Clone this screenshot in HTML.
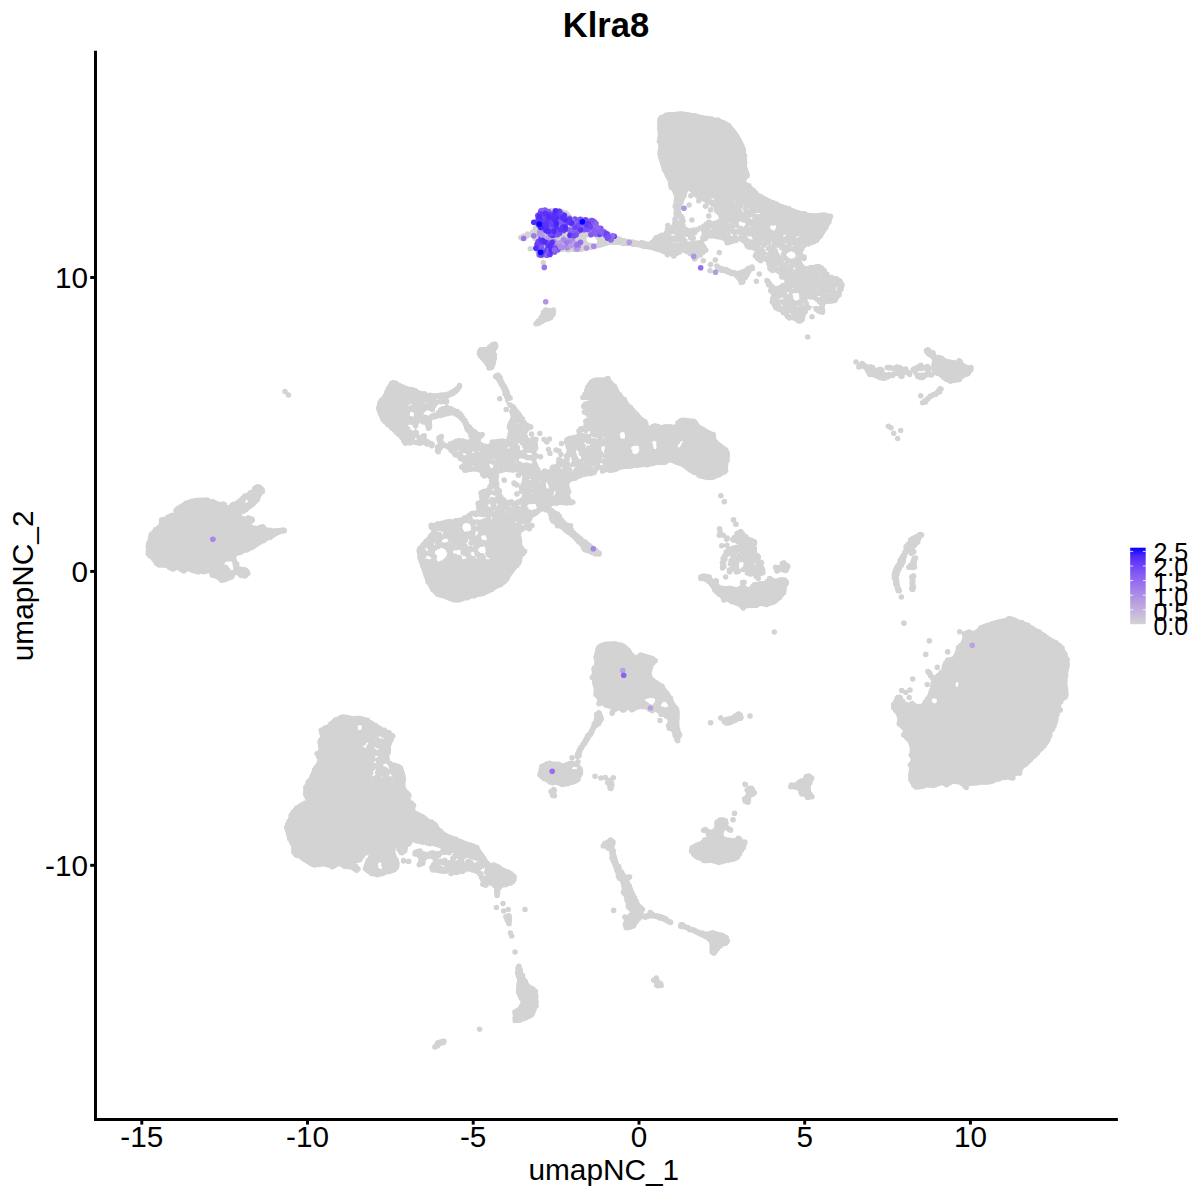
<!DOCTYPE html>
<html><head><meta charset="utf-8">
<style>
html,body{margin:0;padding:0;background:#fff;}
body{width:1200px;height:1200px;overflow:hidden;position:relative;font-family:"Liberation Sans",sans-serif;color:#000;}
svg{position:absolute;left:0;top:0;}
.t{position:absolute;white-space:nowrap;line-height:1;}
.xt{font-size:29.7px;top:1122.4px;width:100px;text-align:center;}
.yt{font-size:29.7px;left:0;width:88px;text-align:right;}
.lg{font-size:25px;left:1153.4px;}
</style></head><body>
<svg width="1200" height="1200" viewBox="0 0 1200 1200">
<defs><linearGradient id="g" x1="0" y1="0" x2="0" y2="1"><stop offset="0%" stop-color="#0000ff"/><stop offset="10%" stop-color="#4926fb"/><stop offset="20%" stop-color="#673df8"/><stop offset="30%" stop-color="#7c51f4"/><stop offset="40%" stop-color="#8e65f0"/><stop offset="50%" stop-color="#9d77ec"/><stop offset="60%" stop-color="#aa89e7"/><stop offset="70%" stop-color="#b69ce3"/><stop offset="80%" stop-color="#c1aede"/><stop offset="90%" stop-color="#cac0d9"/><stop offset="100%" stop-color="#d3d3d3"/></linearGradient></defs>
<g fill="#d3d3d3" stroke="none">
<polygon points="658.3,118.3 660.0,115.8 663.8,113.8 672.0,112.0 682.2,111.4 693.4,113.2 704.2,115.6 712.2,116.9 718.8,118.3 724.7,120.6 729.8,123.8 734.8,129.0 739.0,134.8 742.2,140.4 744.5,145.8 745.7,150.3 746.3,155.0 746.7,161.5 747.2,167.8 749.0,172.0 750.0,175.2 747.6,178.1 745.4,180.7 747.0,182.4 750.0,184.3 753.3,187.8 757.3,191.7 762.4,194.9 768.3,198.1 775.4,201.3 783.0,204.5 790.3,207.4 797.7,210.0 805.2,212.2 812.3,213.7 818.2,213.3 823.3,212.8 828.1,213.5 831.6,214.6 832.7,215.1 832.7,216.0 832.3,218.3 831.3,221.3 829.8,224.6 828.0,228.0 826.1,231.3 824.0,234.7 821.4,238.2 818.7,241.3 816.1,243.3 813.3,244.7 809.8,245.6 806.7,246.7 805.1,248.6 804.0,250.7 802.2,252.0 801.3,253.3 804.1,255.7 806.7,258.0 805.1,259.0 802.7,260.0 801.5,262.0 801.3,264.0 802.8,265.7 805.3,266.7 808.6,266.2 812.0,265.3 814.6,264.3 817.3,264.0 821.5,265.6 825.3,268.0 826.8,270.8 828.0,273.3 830.3,274.4 833.3,275.3 837.5,277.5 841.3,280.0 843.7,282.5 844.7,285.3 843.4,289.3 841.3,293.3 840.1,296.2 838.7,298.7 836.2,301.3 833.3,303.3 830.6,303.9 828.0,304.0 825.6,304.3 824.0,305.3 824.3,308.6 824.7,312.0 823.4,313.6 821.3,314.0 818.6,313.1 816.0,311.3 814.6,308.8 813.3,306.7 811.4,306.6 809.3,308.0 807.2,311.1 805.3,314.7 804.6,317.5 804.0,320.0 803.1,322.2 801.3,323.3 797.6,322.3 793.3,320.7 789.8,319.8 786.7,318.7 784.7,316.0 782.7,313.3 779.3,312.0 776.0,310.7 773.8,308.1 772.0,305.3 770.2,303.4 769.3,301.3 770.8,297.9 772.0,294.7 770.1,293.2 768.0,292.0 768.7,289.5 769.3,286.7 767.3,283.8 765.3,281.3 765.5,279.4 766.7,278.7 768.5,280.2 770.7,282.7 772.6,285.0 774.7,286.7 777.2,286.5 780.0,285.3 783.3,283.5 785.3,281.3 783.2,279.4 780.0,277.3 778.7,274.4 777.3,272.0 774.8,272.3 772.0,272.7 769.4,270.7 767.3,268.0 767.0,265.3 766.7,262.7 764.1,260.1 761.3,258.7 760.0,260.9 758.7,262.7 755.6,259.2 753.3,254.7 755.6,252.2 757.3,250.7 753.1,250.0 748.0,249.3 746.4,247.5 745.3,245.3 743.0,242.9 740.0,241.3 736.1,242.4 732.0,244.0 728.2,244.8 725.3,244.7 724.7,242.5 724.0,240.0 721.2,239.0 717.3,238.7 712.5,238.3 708.0,238.7 705.2,240.2 704.0,242.7 706.1,245.9 708.0,249.3 705.8,252.5 702.7,254.7 700.9,254.3 700.0,253.3 701.5,253.1 702.3,254.0 699.0,258.0 695.0,261.3 693.3,259.8 691.3,256.8 687.0,253.8 682.2,252.2 678.4,254.9 674.8,257.7 671.3,256.3 667.5,254.0 662.9,253.0 658.3,252.2 654.8,250.8 651.0,249.4 645.0,248.8 640.0,247.6 638.7,243.7 640.0,240.2 644.3,240.9 649.2,242.1 651.4,240.5 653.8,238.4 658.7,237.3 663.8,235.7 666.9,232.5 669.3,228.3 672.0,223.1 673.9,217.3 673.6,211.8 673.0,206.3 674.2,200.6 674.8,195.3 672.3,191.4 669.3,188.0 668.3,184.3 667.5,180.7 665.8,177.1 663.8,173.3 661.9,169.0 660.2,164.2 658.5,158.4 657.4,153.2 657.8,150.3 658.3,147.7 657.9,143.1 657.4,138.5 657.9,135.7 658.3,133.0 657.9,128.4 657.4,123.8 657.5,120.8"/>
<polygon points="716.0,268.7 719.2,269.8 724.0,271.3 728.7,273.3 733.3,276.0 737.7,280.8 741.3,284.7 743.5,284.1 745.3,281.3 748.0,276.7 750.7,272.0 753.2,269.6 754.7,268.0 754.1,265.8 752.0,264.7 748.3,266.3 744.0,268.7 740.1,270.4 736.0,271.3 731.3,270.6 726.7,269.3 722.2,268.1 718.7,267.3 716.3,267.7"/>
<polygon points="520.0,236.0 521.8,235.0 524.7,234.0 528.7,232.7 532.7,230.0 534.9,223.5 536.7,216.7 538.3,212.2 540.7,209.3 545.2,208.5 550.0,208.7 553.2,208.4 556.7,208.7 562.8,210.0 568.7,212.0 570.7,214.4 572.7,216.7 578.3,218.0 584.7,218.7 589.8,218.4 594.0,218.7 596.1,221.3 598.0,224.7 601.7,227.4 606.0,230.0 610.4,232.8 615.3,235.3 621.2,237.6 627.3,239.3 632.8,240.1 638.0,240.7 643.7,242.5 648.7,243.3 651.4,240.4 654.0,236.7 658.6,234.8 663.3,232.7 667.2,226.5 670.0,224.7 670.8,239.7 670.0,255.3 667.2,256.0 663.3,252.7 659.3,252.0 655.3,251.3 652.2,250.0 648.7,248.7 643.4,247.9 638.0,247.3 633.9,246.6 630.0,246.0 625.5,245.6 620.7,245.3 615.2,244.8 610.0,244.7 605.8,245.9 602.0,247.3 598.7,248.1 595.3,248.7 591.4,249.3 587.3,250.0 583.4,250.7 579.3,251.3 574.8,251.8 570.0,252.0 565.4,251.4 560.7,251.3 555.2,253.5 550.0,256.0 546.4,257.5 543.3,258.0 540.0,257.2 537.3,255.3 535.9,252.2 535.3,248.7 536.3,246.0 536.7,243.3 533.8,239.5 530.0,236.7 527.2,237.5 524.7,239.3 522.4,240.1 520.7,240.0 519.8,238.2"/>
<polygon points="534.7,322.7 536.3,320.7 538.7,318.0 540.7,313.9 542.7,310.0 544.0,308.1 545.3,307.3 547.6,307.9 550.0,308.7 552.2,307.8 554.0,307.3 555.4,308.9 556.0,311.3 555.2,314.0 554.0,316.7 553.2,318.5 552.0,320.0 549.2,321.0 546.0,322.0 543.2,323.4 540.7,324.7 538.5,325.3 536.7,325.3 535.2,324.3"/>
<polygon points="477.5,350.8 478.3,349.0 480.0,347.5 483.2,347.1 486.7,346.7 489.3,344.6 491.7,342.5 493.9,341.6 495.8,341.7 497.5,343.3 498.3,345.8 497.2,348.6 495.8,351.7 496.2,354.9 496.7,358.3 496.0,362.3 495.0,365.8 494.4,367.9 493.3,369.2 490.9,370.2 488.3,370.0 486.7,367.5 485.0,364.2 482.4,361.1 480.0,358.3 478.4,356.1 477.5,354.2 477.2,352.4"/>
<polygon points="494.2,374.2 496.3,372.8 499.2,373.0 501.3,375.8 503.3,380.0 505.8,384.7 508.3,390.0 511.0,396.0 513.3,401.7 515.3,405.7 515.8,408.3 513.4,409.4 510.0,408.3 507.4,404.1 505.0,398.3 502.4,392.3 500.0,386.7 497.7,382.5 495.8,379.2 494.4,376.3"/>
<polygon points="390.8,380.8 393.0,380.2 395.8,380.8 399.5,382.7 404.2,385.0 410.2,387.1 416.7,389.2 422.7,391.5 428.3,393.3 433.5,393.6 438.3,393.3 442.7,393.2 446.7,392.5 450.1,390.6 453.3,388.3 456.7,385.8 459.5,384.2 461.4,384.8 462.0,386.7 460.6,389.1 458.3,391.7 455.9,393.9 453.3,395.8 450.5,397.1 448.3,398.3 448.7,400.5 449.2,402.5 447.4,403.6 445.0,404.2 442.7,403.5 440.0,403.3 436.5,405.6 433.3,408.3 432.4,410.4 431.7,411.7 429.3,410.8 426.7,410.0 424.4,411.4 423.3,413.3 425.4,414.8 428.3,416.7 430.4,419.8 431.7,423.3 431.2,427.2 430.0,430.0 428.4,429.9 426.7,428.3 425.1,425.6 423.3,423.3 420.7,423.5 418.3,425.0 417.0,427.2 416.7,430.0 418.0,433.9 420.0,436.7 422.1,435.1 424.2,433.3 425.3,435.3 426.7,438.3 430.1,441.0 433.3,443.3 434.4,444.8 434.2,445.8 432.6,446.5 430.0,446.7 427.0,445.9 423.3,445.0 418.5,444.9 413.3,445.0 408.3,445.3 404.2,445.0 402.7,442.8 401.7,440.0 399.6,437.7 396.7,435.0 391.8,431.0 386.7,426.7 382.9,422.5 380.0,418.3 377.8,414.2 376.7,410.0 377.0,405.8 378.3,401.7 380.7,397.9 383.3,394.2 385.5,390.3 387.5,386.7 389.1,383.3"/>
<polygon points="429.2,416.7 431.5,415.3 435.0,413.3 438.4,409.8 441.7,406.7 444.1,405.7 446.7,405.8 450.7,406.7 455.0,408.3 458.5,410.6 461.7,413.3 464.3,416.1 466.7,419.2 469.2,423.0 471.7,426.7 474.1,429.5 476.7,431.7 479.8,432.6 482.5,433.3 484.0,434.9 484.2,436.7 482.0,438.2 480.0,440.0 481.0,442.8 483.3,445.0 486.6,444.3 490.0,443.3 492.6,445.1 495.0,446.7 497.4,445.5 500.0,443.3 503.5,441.0 506.7,438.3 508.0,435.1 508.3,431.7 507.8,428.3 507.5,425.0 509.2,421.7 510.8,418.3 510.4,414.8 510.0,411.7 511.8,409.4 514.2,408.3 516.2,409.5 518.3,411.7 520.4,414.0 522.5,416.7 524.5,420.2 526.7,423.3 529.4,424.3 531.7,425.0 532.2,427.5 531.7,430.0 529.7,430.9 528.3,431.7 530.4,433.2 533.3,435.0 535.2,436.5 536.7,438.3 537.7,441.4 538.3,445.0 539.0,449.3 539.2,453.3 538.1,456.0 536.7,458.3 535.6,460.7 535.0,463.3 535.3,467.1 536.7,470.0 539.6,469.9 543.3,468.3 547.4,466.0 551.7,463.3 556.4,457.6 560.0,458.3 561.0,480.9 560.0,504.5 556.4,508.9 552.0,507.8 548.4,508.7 544.8,509.7 541.1,511.3 537.5,513.3 534.5,515.9 532.0,518.8 529.9,522.0 528.3,525.2 533.2,528.0 526.7,530.0 478.6,530.8 431.7,530.0 428.4,525.9 438.3,521.7 443.0,520.4 448.3,520.0 454.3,519.4 460.0,518.3 464.4,515.9 468.3,513.3 473.0,511.8 476.7,510.0 477.0,506.8 476.7,503.3 478.4,500.8 480.0,498.3 479.5,495.3 479.2,492.5 481.0,491.2 483.3,490.0 485.1,487.8 486.7,485.0 488.5,481.5 489.2,478.3 486.6,477.3 483.3,476.7 481.5,475.0 480.0,473.3 478.8,472.1 476.7,471.7 471.8,473.4 466.7,475.0 463.6,474.3 461.7,472.5 460.8,469.7 460.8,466.7 462.3,463.9 463.3,461.7 461.3,460.8 458.3,460.0 455.8,457.7 453.3,455.0 450.9,452.4 448.3,450.0 444.9,447.7 441.7,446.7 439.7,449.1 438.3,451.7 436.7,451.5 435.8,450.0 437.0,447.8 438.3,445.0 437.4,441.6 436.7,438.3 438.5,435.7 440.8,434.2 442.4,434.8 443.3,436.7 442.7,439.2 442.5,441.7 444.9,443.1 448.3,443.3 452.1,440.9 455.8,438.3 458.8,438.4 461.7,439.2 465.3,439.8 468.3,440.0 469.8,438.7 470.0,436.7 468.6,434.4 466.7,431.7 465.1,428.4 463.3,425.0 461.0,421.5 458.3,418.3 455.2,416.1 451.7,415.0 447.5,415.5 443.3,416.7 439.8,417.6 436.7,418.3 433.9,419.0 431.7,419.2 429.7,418.2"/>
<polygon points="540.0,470.0 542.1,467.2 545.0,468.3 548.3,466.9 551.7,465.0 554.3,462.5 556.7,460.0 559.3,458.4 561.7,456.7 563.5,453.5 565.0,450.0 566.1,446.6 566.7,443.3 565.6,440.5 565.0,438.3 567.0,437.4 570.0,436.7 573.2,435.2 575.8,433.3 576.4,431.2 576.7,429.2 578.5,427.8 580.8,426.7 583.2,426.0 585.0,425.0 584.7,422.7 584.2,420.0 585.6,417.8 586.7,415.8 584.8,414.3 582.5,412.5 581.2,409.2 580.8,405.8 582.1,403.6 583.3,401.7 582.5,399.2 581.7,396.7 582.7,394.2 584.2,391.7 584.9,388.8 585.8,385.8 587.7,382.7 590.0,380.0 592.7,378.4 595.8,377.5 599.6,377.4 603.3,377.5 606.1,376.4 608.3,375.8 609.6,377.6 610.8,380.0 612.8,381.9 615.0,384.2 617.1,387.4 619.2,390.8 621.3,393.5 623.3,395.8 625.0,397.9 626.7,400.0 628.6,402.4 630.8,405.0 633.7,407.9 636.7,410.8 639.2,413.9 641.7,416.7 644.3,418.8 646.7,420.8 647.9,423.8 649.2,425.8 651.8,424.8 655.0,423.3 658.2,424.1 661.7,425.0 665.5,424.6 669.2,424.2 672.4,424.8 675.0,425.0 676.3,422.7 677.5,420.0 679.7,418.3 682.5,417.5 686.2,418.1 690.0,419.2 693.1,419.4 695.8,420.0 697.9,422.3 700.0,425.0 703.1,427.1 706.7,429.2 711.1,431.1 715.0,433.3 715.9,436.6 716.7,440.0 719.8,442.6 723.3,445.0 726.1,447.4 728.3,450.0 729.6,452.8 730.0,455.8 729.3,459.4 728.3,463.3 728.1,467.8 727.5,471.7 725.8,473.6 723.3,475.0 720.3,476.8 716.7,478.3 712.6,479.5 708.3,480.0 704.0,479.5 700.0,478.3 697.4,476.8 695.0,475.0 691.8,473.4 688.3,471.7 684.9,469.1 681.7,466.7 679.2,465.7 676.7,465.0 673.3,463.5 670.0,462.5 667.6,463.6 665.0,465.0 661.0,465.1 656.7,465.0 652.5,465.8 648.3,466.7 644.2,466.7 640.0,466.7 635.8,467.4 631.7,468.3 627.5,468.8 623.3,469.2 619.0,469.9 615.0,470.8 612.4,472.4 610.0,473.3 606.8,471.6 603.3,470.0 600.0,471.4 596.7,473.3 593.4,474.2 590.0,475.0 585.9,476.1 581.7,477.5 577.3,479.2 573.3,480.8 570.2,481.9 568.3,483.3 569.3,486.4 570.8,490.0 570.2,493.4 570.0,496.7 573.0,499.3 575.8,501.7 575.4,504.2 573.3,505.8 570.3,505.2 566.7,504.2 563.4,504.5 560.0,505.0 556.1,505.1 551.7,505.0 545.3,507.2 540.0,505.0 539.0,487.6"/>
<polygon points="480.7,493.2 482.3,495.9 483.4,498.7 480.9,500.8 477.9,503.2 477.5,507.0 477.0,510.6 473.8,512.6 470.6,514.2 469.7,516.3 468.8,517.9 465.9,518.5 462.3,518.8 458.8,519.7 455.0,520.7 451.0,521.1 446.8,521.6 442.1,522.6 437.6,524.3 434.1,527.7 431.2,531.7 428.4,535.4 425.7,539.0 422.3,542.4 419.2,545.4 417.4,547.5 416.5,550.0 417.1,554.3 418.3,559.2 419.7,563.8 421.1,568.3 422.4,572.5 423.8,576.6 425.4,580.7 427.5,584.8 430.5,589.7 433.9,594.0 437.5,596.2 441.2,597.7 445.3,599.2 449.5,600.4 454.0,601.7 458.7,602.2 463.1,601.2 467.8,599.5 473.3,598.1 478.8,596.8 483.5,595.5 488.0,594.0 492.7,591.3 497.2,588.5 501.1,586.8 504.5,584.8 507.4,581.4 510.0,577.5 512.8,573.8 515.5,570.2 518.5,566.4 521.0,562.8 521.5,559.9 521.9,557.3 524.5,555.1 526.5,552.8 525.1,549.8 522.8,546.3 521.6,541.7 521.0,537.2 521.1,534.0 521.9,531.7 524.2,530.7 526.5,529.8 527.5,527.8 528.3,525.2 529.9,522.1 532.0,518.8 534.5,515.9 537.5,513.3 541.1,511.3 544.8,509.7 548.4,508.8 552.2,507.8 556.5,505.8 561.3,504.2 567.2,504.6 572.3,505.1 575.1,504.0 576.0,502.3 574.1,500.8 571.4,498.7 570.3,495.2 569.6,491.3 568.6,487.4 568.7,484.0 571.7,481.9 576.0,480.3 580.5,478.4 585.2,476.7 589.9,475.6 594.3,474.8 598.0,473.9 601.7,473.0 606.1,472.1 610.8,471.2 616.0,472.0 620.0,469.3 628.6,454.6 620.0,440.0 555.9,435.6 491.7,440.0 482.9,460.2 489.8,481.2 488.7,487.0 487.1,487.7 484.2,488.2 481.6,488.6 480.6,490.6"/>
<polygon points="174.0,508.7 175.3,507.2 177.3,506.0 179.9,504.3 182.7,502.7 185.2,501.2 188.0,500.0 191.8,498.8 196.0,498.0 200.0,497.8 204.0,498.0 208.1,498.5 212.0,499.3 215.5,500.8 218.7,502.0 221.5,501.9 224.0,502.0 226.1,504.2 228.0,506.0 229.6,504.7 231.3,502.7 233.5,502.1 236.0,501.3 238.6,498.8 241.3,496.0 244.0,494.2 246.7,492.7 249.2,491.3 251.3,490.0 252.0,488.3 252.7,486.7 254.8,485.1 257.3,484.3 259.8,484.7 262.0,486.0 263.8,488.2 264.7,490.7 263.7,493.0 262.0,495.3 260.7,497.7 259.3,500.0 257.8,502.4 256.0,504.7 254.1,506.4 252.0,508.0 249.4,509.7 246.7,511.3 243.4,513.0 241.3,514.7 242.8,516.3 245.3,517.3 246.6,516.3 248.0,515.3 250.8,516.3 253.3,518.0 254.2,520.0 254.0,522.0 252.3,523.5 251.3,524.7 253.9,525.6 257.3,526.0 259.8,524.9 262.0,524.0 264.3,525.5 266.7,527.3 269.2,528.2 272.0,528.7 275.3,528.4 278.7,528.0 282.0,527.8 284.7,528.0 286.2,528.8 286.7,530.0 285.8,531.7 284.0,533.3 281.5,534.0 278.7,534.7 276.1,536.2 273.3,538.0 270.1,539.6 266.7,541.3 263.2,543.3 260.0,545.3 257.3,547.1 254.7,548.7 251.4,550.0 248.0,551.3 244.6,552.7 241.3,554.0 238.2,554.9 236.0,556.0 235.5,558.0 236.0,560.0 237.7,561.3 239.3,562.7 238.8,564.8 238.7,566.7 241.7,567.0 245.3,567.3 247.8,568.7 249.3,570.7 249.5,573.4 248.7,576.0 247.3,577.7 245.3,578.7 242.7,578.3 240.0,577.3 237.8,575.7 236.0,574.7 234.8,576.3 233.3,578.7 230.1,580.2 226.7,581.3 224.3,582.4 222.0,582.7 219.0,580.8 216.0,578.7 213.0,578.0 210.7,577.3 210.1,575.2 209.3,573.3 206.5,573.5 202.7,574.0 197.9,573.8 193.3,573.3 190.4,572.2 188.0,571.3 185.3,572.4 182.7,573.3 180.1,571.7 177.3,570.0 173.9,570.7 170.7,571.3 168.7,569.8 166.7,568.0 163.4,567.6 160.0,567.3 157.5,566.3 155.3,564.7 153.0,562.1 150.7,559.3 148.0,557.2 146.0,554.7 145.6,550.9 146.0,546.7 146.9,542.5 148.0,538.7 148.5,535.7 149.3,533.3 151.1,531.3 153.3,529.3 156.2,526.8 158.7,524.0 159.0,521.1 159.3,518.7 161.7,517.5 164.7,516.7 167.4,514.9 170.0,513.3 172.7,513.4 174.7,513.3 174.4,511.2"/>
<polygon points="336.0,717.4 339.4,715.8 343.3,714.7 347.6,715.1 352.5,716.1 358.9,716.6 365.3,717.4 370.3,719.4 374.5,722.0 378.3,724.9 381.8,727.5 385.6,728.8 389.2,730.2 392.6,733.2 394.7,736.7 393.2,740.2 391.0,744.0 390.4,748.6 390.1,753.2 389.1,757.2 389.2,760.5 392.4,762.2 396.5,763.2 399.5,764.3 402.0,766.0 403.7,769.4 404.8,773.3 405.4,777.0 405.7,780.7 404.9,784.4 404.8,788.0 408.0,790.8 411.2,793.5 410.8,796.8 410.2,799.9 413.0,802.3 415.8,804.5 415.1,807.2 414.8,810.0 418.9,812.2 424.0,814.6 427.8,817.7 431.3,821.0 435.0,824.2 438.7,827.4 442.2,830.8 446.0,833.8 450.5,835.8 455.2,837.5 459.5,839.2 464.3,841.2 470.9,843.6 477.2,846.7 481.4,850.7 484.5,854.9 486.7,858.4 488.2,861.3 489.3,862.4 490.0,865.0 490.5,874.2 490.0,883.3 487.5,886.7 484.5,887.0 482.6,884.9 480.8,881.5 479.3,877.7 477.2,874.2 472.7,872.2 468.0,871.4 465.2,872.1 462.5,873.2 457.8,874.0 453.3,874.2 451.4,872.8 449.7,871.4 446.2,871.8 442.3,872.3 438.4,871.4 435.0,870.5 432.8,871.1 431.3,871.4 429.8,869.4 429.5,866.8 432.4,865.1 435.0,863.2 433.9,860.1 431.3,857.7 428.6,857.8 425.8,859.5 423.8,863.1 422.2,865.9 420.6,864.4 419.4,861.3 419.0,858.4 418.5,855.8 416.6,855.2 414.8,854.9 414.4,853.7 414.8,852.2 416.2,850.4 418.5,849.4 422.1,850.7 425.8,852.2 428.7,851.8 431.3,851.2 434.1,851.8 436.8,852.2 440.4,851.0 442.3,849.4 439.6,848.0 435.0,846.7 430.6,845.8 425.8,844.8 420.1,843.2 414.8,842.1 411.6,842.8 409.3,844.8 407.5,848.6 405.7,852.2 402.9,853.3 400.2,853.1 397.6,851.7 396.5,849.4 399.4,846.3 402.0,843.9 399.7,844.6 396.5,846.7 395.0,849.1 394.7,852.2 396.3,855.7 398.3,859.5 399.3,863.3 399.2,866.8 397.5,869.9 394.7,872.3 391.3,873.4 387.3,874.2 382.9,875.8 378.2,876.9 373.4,876.1 369.0,874.2 365.6,871.7 363.5,868.7 363.8,865.0 365.3,861.3 367.5,858.1 369.0,855.8 367.6,855.1 365.3,855.8 363.6,858.5 361.7,861.3 358.5,862.3 356.2,863.2 357.9,865.8 359.8,868.7 358.6,871.0 356.2,872.3 353.6,871.2 350.7,869.6 346.9,869.1 343.3,868.7 341.5,867.1 339.7,865.9 336.3,867.3 332.3,868.7 327.9,867.3 323.2,865.9 318.5,866.9 314.0,867.8 310.3,865.9 306.7,863.2 302.0,860.4 297.5,857.7 294.2,855.9 292.0,854.0 291.4,850.7 291.1,846.7 289.4,842.3 287.4,837.5 285.6,832.3 284.7,827.4 285.6,823.8 287.4,820.1 289.4,815.0 292.0,810.0 295.6,806.3 299.3,803.6 303.2,802.2 305.8,800.8 304.7,798.1 303.0,794.4 303.5,789.4 304.8,784.3 307.0,780.6 309.4,777.0 311.2,772.4 313.1,767.8 315.8,764.0 317.7,760.5 316.3,757.1 314.9,754.1 316.6,751.9 318.6,749.5 318.2,745.4 317.7,741.2 319.0,738.4 320.4,735.8 319.7,732.5 319.5,729.3 322.8,726.9 326.8,724.8 329.3,722.3 331.4,720.2 333.5,718.7"/>
<polygon points="400.0,820.0 415.5,817.5 432.0,820.0 437.5,823.6 440.0,828.0 443.9,831.2 448.0,834.0 452.9,836.1 458.0,838.0 463.0,840.0 468.0,842.0 473.4,843.8 478.0,846.0 480.4,849.8 482.0,854.0 483.8,858.4 486.0,862.0 489.8,862.8 494.0,863.0 498.1,864.9 502.0,867.0 505.1,868.5 508.0,870.0 511.8,871.8 515.0,874.0 516.2,876.9 516.0,880.0 514.6,882.8 512.0,885.0 508.0,886.1 504.0,887.0 501.6,888.2 500.0,890.0 499.5,893.2 499.0,896.0 497.0,896.3 495.0,895.0 494.6,891.7 494.0,888.0 491.2,885.4 488.0,884.0 485.8,885.6 484.0,887.0 482.3,885.1 481.0,882.0 480.7,878.9 480.0,876.0 477.4,874.3 474.0,873.0 470.0,871.4 466.0,870.0 463.0,868.7 460.0,868.0 456.0,868.7 452.0,870.0 449.0,871.6 446.0,873.0 442.0,873.3 438.0,873.0 434.6,872.2 432.0,871.0 430.4,869.3 430.0,867.0 432.1,863.5 434.0,860.0 432.6,857.3 430.0,856.0 426.9,857.4 424.0,860.0 422.8,863.6 422.0,866.0 420.4,863.8 419.0,860.0 417.8,856.1 418.0,853.0 421.6,853.2 426.0,854.0 429.1,852.5 432.0,851.0 435.1,851.5 438.0,852.0 441.3,850.8 443.0,849.0 440.4,847.4 436.0,846.0 431.4,845.5 426.0,845.0 418.6,843.2 412.0,842.0 409.4,843.4 408.0,846.0 406.0,849.8 404.0,853.0 401.8,854.9 400.0,852.0 397.8,835.9"/>
<polygon points="505.0,915.0 509.0,913.0 512.0,918.0 511.0,925.0 507.0,925.0 505.0,920.0"/>
<polygon points="516.0,967.0 517.3,964.8 519.0,964.0 520.5,965.8 522.0,969.0 523.4,972.8 525.0,977.0 527.2,981.2 530.0,985.0 533.8,987.5 537.0,990.0 537.9,993.8 538.0,998.0 538.2,1002.1 538.0,1006.0 536.6,1009.2 535.0,1012.0 534.2,1014.7 533.0,1017.0 529.8,1018.7 526.0,1020.0 522.9,1021.2 520.0,1022.0 516.7,1022.4 514.0,1022.0 513.1,1020.4 513.0,1018.0 512.6,1014.5 513.0,1011.0 515.3,1008.9 518.0,1007.0 520.0,1004.6 521.0,1002.0 519.8,999.2 518.0,996.0 516.8,992.1 516.0,988.0 516.5,983.9 517.0,980.0 516.3,976.4 515.6,973.0 515.5,969.8"/>
<polygon points="433.0,1046.0 436.0,1041.0 443.0,1038.4 445.6,1041.0 443.0,1044.4 438.0,1048.0 434.4,1049.0"/>
<polygon points="601.7,844.2 603.6,842.4 606.7,840.8 608.8,838.8 610.8,837.5 613.2,838.6 615.0,840.8 614.7,843.5 614.2,846.7 614.8,849.8 615.8,853.3 617.0,857.5 618.3,861.7 619.9,865.1 621.7,868.3 623.8,872.1 625.8,875.0 627.2,874.8 628.3,874.2 629.8,875.1 630.8,876.7 630.0,878.5 629.2,880.8 630.1,883.6 631.7,886.7 633.3,889.9 635.0,893.3 636.2,896.8 637.5,900.0 639.1,902.7 640.8,905.0 643.2,906.7 645.0,908.3 644.2,911.0 643.3,913.3 644.6,913.9 646.7,913.3 649.2,911.5 651.7,910.0 653.2,911.4 655.0,913.3 658.1,914.2 661.7,915.0 665.2,916.6 668.3,918.3 671.0,920.1 672.5,921.7 671.9,923.3 670.0,924.2 666.9,923.2 663.3,921.7 660.0,920.3 656.7,919.2 653.2,918.5 650.0,918.3 647.3,919.2 645.0,920.0 643.2,919.0 641.7,918.3 640.0,920.0 638.3,922.5 636.8,925.1 635.0,927.5 632.6,929.1 630.0,930.0 627.3,930.0 625.0,929.2 623.6,927.3 623.0,925.0 623.5,922.4 624.2,920.0 623.4,918.5 623.0,917.5 625.0,916.8 627.5,915.8 629.2,913.8 630.0,911.7 628.5,910.5 626.7,909.2 626.1,906.5 625.8,903.3 625.2,899.8 624.2,896.7 622.3,894.9 620.8,893.3 621.1,891.0 621.7,888.3 621.1,884.9 620.0,881.7 617.8,879.4 615.8,877.5 615.7,876.0 615.8,874.2 614.8,870.7 613.3,866.7 611.6,862.4 610.0,858.3 609.6,854.7 609.2,851.7 607.7,849.8 605.8,848.3 603.2,846.2"/>
<polygon points="679.2,925.0 680.4,923.6 682.5,923.0 685.2,924.6 688.3,926.7 691.5,927.5 695.0,928.3 699.1,930.2 703.3,931.7 707.5,931.4 711.7,930.8 715.9,931.5 720.0,932.5 723.6,933.5 726.7,935.0 729.0,937.8 730.0,940.8 728.9,943.6 726.7,945.8 724.2,946.3 721.7,946.7 720.0,949.0 718.3,951.7 715.8,954.3 713.3,955.8 711.4,954.4 710.0,951.7 710.0,948.4 710.0,945.0 708.8,942.3 706.7,940.0 703.5,938.2 700.0,936.7 696.7,935.0 693.3,933.3 689.9,931.6 686.7,930.0 683.4,929.2 680.8,928.3 679.4,926.7"/>
<polygon points="689.2,850.0 690.7,847.0 693.3,844.2 696.7,842.8 700.0,841.7 701.9,839.9 703.3,838.3 705.4,837.6 706.7,836.7 705.7,834.3 704.2,831.7 702.9,829.7 702.5,828.3 704.2,828.0 706.7,828.3 709.2,829.4 711.7,830.0 713.7,828.6 715.0,826.7 714.5,825.1 714.2,823.3 716.0,820.7 718.3,818.3 719.9,817.5 721.7,817.5 724.3,818.0 726.7,819.2 727.9,821.2 728.3,823.3 727.3,824.7 726.7,825.8 729.0,826.6 731.7,827.5 732.6,829.2 732.5,830.8 731.1,832.0 729.2,832.5 727.0,830.9 725.0,830.0 723.6,833.1 723.3,836.7 725.3,837.4 728.3,837.5 731.7,838.1 735.0,838.3 737.7,836.9 740.0,835.8 741.7,837.6 743.3,840.0 745.8,841.1 747.5,842.5 746.7,845.3 745.0,848.3 743.3,850.8 741.7,853.3 740.6,856.4 739.2,859.2 736.5,860.7 733.3,861.7 730.2,862.1 726.7,862.5 722.5,863.5 718.3,864.2 714.8,863.4 711.7,862.5 708.7,863.0 705.8,863.3 702.9,862.3 700.0,860.8 696.9,859.7 694.2,858.3 692.7,856.4 691.7,854.2 690.0,852.2"/>
<polygon points="746.7,789.2 748.5,787.1 750.8,785.8 752.6,786.6 754.2,788.3 755.8,790.8 756.3,793.3 754.2,794.9 751.7,796.7 750.8,799.7 750.0,802.5 748.5,803.9 746.7,804.2 744.3,802.9 742.5,800.8 742.9,798.7 744.2,796.7 746.0,795.0 747.5,793.3 747.0,791.2"/>
<polygon points="596.7,645.8 599.6,643.9 603.3,642.5 607.4,641.6 611.7,641.3 615.9,641.6 620.0,642.5 623.5,643.9 626.7,645.8 629.4,648.2 631.7,650.8 633.4,653.7 635.0,655.8 636.7,655.9 638.3,655.0 639.4,653.6 640.8,652.5 643.5,653.0 646.7,654.2 650.1,655.3 653.3,656.7 656.0,658.7 657.5,660.8 656.2,662.4 654.2,664.2 653.2,666.5 652.5,669.2 651.7,672.5 651.7,675.8 653.7,678.5 656.7,680.8 660.2,682.6 663.3,684.2 664.7,686.1 665.8,688.3 667.9,690.8 670.0,693.3 671.4,695.8 672.5,698.3 673.7,700.8 675.0,703.3 676.8,705.6 678.3,708.3 679.0,712.2 679.2,716.7 679.1,721.7 679.2,726.7 680.5,730.7 681.7,734.2 681.2,736.9 680.0,739.2 678.4,741.4 676.7,742.5 675.4,741.0 674.2,738.3 673.0,734.9 671.7,731.7 669.5,730.3 667.5,729.2 666.7,727.2 666.7,725.0 667.7,722.4 668.3,720.0 667.1,718.5 665.0,717.5 662.4,716.7 660.0,715.8 659.1,714.1 658.3,712.5 656.8,711.8 655.0,711.7 653.4,712.2 651.7,712.5 649.3,711.4 646.7,710.0 644.2,708.9 641.7,708.3 639.2,708.9 636.7,710.0 634.1,711.5 631.7,712.5 630.0,711.2 628.3,710.0 625.9,711.2 623.3,712.5 620.8,711.2 618.3,710.0 616.1,711.4 614.2,713.3 612.8,714.5 611.7,715.0 610.4,714.1 609.7,712.5 610.9,710.8 611.7,709.2 609.6,708.3 606.7,707.5 604.2,706.2 601.7,705.0 598.8,704.7 596.7,704.2 597.0,702.3 597.5,700.0 595.9,697.6 594.2,695.0 594.1,692.5 594.2,690.0 593.4,687.5 592.5,685.0 592.1,682.3 591.7,680.0 590.6,678.7 590.0,677.5 591.2,675.6 592.5,673.3 592.1,670.8 591.7,668.3 592.9,666.3 594.2,664.2 594.3,661.4 594.2,658.3 594.5,655.0 595.0,651.7 595.5,648.5"/>
<polygon points="595.0,713.3 596.5,711.3 598.3,710.0 600.1,710.7 601.7,712.5 602.9,715.2 603.3,718.3 602.0,721.8 600.0,725.0 597.9,726.7 595.8,728.3 594.1,731.6 592.5,735.0 590.9,737.5 589.2,740.0 587.1,743.2 585.0,746.7 582.7,750.1 580.8,753.3 580.4,756.3 580.0,758.3 577.9,758.6 575.8,757.5 575.3,754.9 575.8,751.7 577.6,748.5 580.0,745.0 582.5,740.8 585.0,736.7 587.1,733.3 589.2,730.0 591.5,725.7 593.3,721.7 594.0,718.9 594.2,716.7 594.4,714.9"/>
<polygon points="539.2,768.3 540.1,765.9 541.7,764.2 544.6,762.7 548.3,761.7 552.5,761.4 556.7,761.7 560.1,762.7 563.3,763.3 566.7,762.1 570.0,760.8 573.1,760.9 575.8,761.7 578.1,763.0 580.0,765.0 582.1,768.1 583.3,771.7 582.4,775.2 580.8,778.3 579.8,780.7 578.3,782.5 575.4,783.9 571.7,785.0 567.5,786.1 563.3,786.7 559.9,786.0 556.7,785.0 553.3,784.7 550.0,784.2 547.0,782.8 544.2,780.8 540.8,778.6 538.3,775.8 538.2,772.0"/>
<polygon points="550.0,790.0 553.3,787.5 556.7,790.0 555.0,794.2 555.8,796.7 552.5,798.0 549.7,794.2"/>
<polygon points="606.7,780.8 611.7,778.3 614.2,784.2 612.5,790.0 609.2,790.8 607.5,785.0"/>
<polygon points="698.7,577.3 699.5,575.9 701.3,574.7 703.9,574.0 706.7,574.0 709.2,574.8 711.3,576.0 712.5,577.9 713.3,579.3 714.3,578.8 715.3,578.0 716.8,578.7 718.0,580.0 718.2,582.0 718.7,584.0 720.4,585.2 722.7,586.0 725.2,586.0 728.0,586.0 730.7,586.7 733.3,587.3 736.2,587.6 738.7,587.3 740.2,585.9 741.3,584.0 742.3,581.7 743.3,580.0 744.8,580.5 746.0,582.0 745.6,584.5 745.3,586.7 747.0,587.2 749.3,586.7 751.3,584.7 753.3,582.7 755.9,581.7 758.7,581.3 761.4,581.4 764.0,581.3 766.2,580.2 768.0,578.7 769.3,577.0 770.7,576.0 772.5,577.2 774.7,578.7 777.2,578.5 780.0,578.0 782.9,577.5 785.3,577.3 786.6,578.4 787.3,580.0 788.3,581.5 788.7,583.3 787.8,585.5 786.7,588.0 786.0,590.7 785.3,593.3 784.1,595.5 782.7,597.3 781.4,598.7 780.0,600.0 778.2,601.7 776.0,603.3 773.4,604.5 770.7,605.3 768.0,606.2 765.3,606.7 762.7,606.3 760.0,606.0 757.3,607.0 754.7,608.0 751.9,607.8 749.3,607.3 747.2,607.5 745.3,608.0 743.6,609.2 742.0,610.0 740.5,608.6 738.7,606.7 736.0,605.6 733.3,604.7 731.2,603.7 729.3,602.7 727.3,601.1 725.3,600.0 723.5,600.8 722.0,601.3 721.1,599.7 720.0,597.3 717.8,595.3 715.3,593.3 713.5,591.3 712.0,589.3 710.7,587.3 709.3,585.3 707.4,583.5 705.3,582.0 703.3,581.0 701.3,580.0 699.6,578.7"/>
<polygon points="737.3,531.3 739.0,530.0 740.7,529.3 742.4,530.7 744.0,532.7 745.2,534.4 746.7,536.0 749.2,537.1 752.0,538.0 754.3,538.9 756.0,540.0 756.7,541.7 756.7,543.3 755.6,544.3 754.7,545.3 755.5,547.2 756.7,549.3 757.0,551.4 757.3,553.3 758.7,554.7 760.0,556.0 760.0,558.1 760.0,560.0 761.6,560.4 763.3,560.7 764.0,561.8 764.0,563.3 763.2,565.0 762.7,566.7 763.6,567.6 764.7,568.7 764.9,571.0 764.7,573.3 763.8,574.7 762.7,575.3 761.1,574.5 760.0,574.0 760.7,575.8 761.3,578.0 760.3,579.7 758.7,580.7 757.0,580.0 755.3,578.7 754.0,577.2 752.7,576.0 751.0,576.3 749.3,576.7 747.5,575.6 746.0,574.0 745.6,572.2 745.3,570.7 744.0,570.7 742.7,570.7 742.0,569.1 742.0,567.3 743.7,566.3 745.3,565.3 745.1,563.6 744.0,562.0 742.4,561.3 740.7,561.3 739.4,562.0 738.7,563.3 738.9,565.5 739.3,568.0 739.2,570.7 738.7,572.7 737.3,572.8 736.0,572.0 735.7,570.2 735.3,568.7 734.0,568.6 732.7,569.3 732.4,570.6 732.0,572.0 730.4,573.0 728.7,573.3 727.6,572.2 727.3,570.7 729.1,569.3 730.7,568.0 729.5,566.8 728.0,565.3 728.0,563.3 728.7,561.3 730.1,560.0 731.3,558.7 731.0,556.7 730.7,554.7 732.1,553.2 733.3,552.0 732.7,551.0 731.3,550.7 729.7,552.0 728.0,554.0 726.9,556.3 726.0,558.7 725.2,560.6 724.7,562.7 724.7,565.5 724.7,568.0 723.8,569.2 722.7,569.3 721.5,568.4 720.7,566.7 720.8,564.1 721.3,561.3 721.9,558.9 722.7,556.7 723.8,554.6 725.3,552.7 727.2,550.6 729.3,548.7 731.3,547.1 733.3,546.0 735.7,545.7 737.3,545.3 737.1,544.0 736.0,542.7 734.4,542.3 732.7,542.0 731.4,541.2 730.7,540.0 730.7,538.4 731.3,536.7 732.9,535.3 734.7,534.0 736.0,532.6"/>
<polygon points="776.0,565.3 777.7,565.7 779.3,566.0 780.1,564.5 780.7,562.7 781.5,561.3 782.7,560.7 784.6,561.8 786.7,563.3 788.2,563.9 789.3,564.7 789.7,566.5 789.6,568.7 789.0,570.5 788.0,572.0 786.5,573.0 784.7,573.3 782.6,572.3 780.7,571.3 779.3,572.3 778.0,573.3 776.2,573.0 774.7,572.0 774.0,570.1 774.0,568.0 774.8,566.4"/>
<polygon points="1010.0,616.2 1013.9,617.3 1018.3,619.2 1023.3,621.1 1028.3,623.3 1032.6,625.8 1036.7,628.3 1040.8,630.8 1045.0,633.3 1049.2,636.3 1053.3,639.2 1057.3,641.2 1060.8,643.3 1063.2,646.5 1065.0,650.0 1066.9,653.3 1068.3,656.7 1069.0,660.0 1069.2,663.3 1068.9,666.6 1068.3,670.0 1067.9,674.2 1067.5,678.3 1067.4,681.8 1067.5,685.0 1067.9,688.5 1068.3,691.7 1068.7,693.8 1068.3,695.8 1066.0,698.7 1063.3,701.7 1061.7,704.3 1060.8,706.7 1061.7,708.4 1062.5,710.0 1061.0,711.5 1059.2,713.3 1058.8,716.4 1058.3,720.0 1056.8,724.2 1055.0,728.3 1053.2,731.8 1051.7,735.0 1050.9,738.4 1050.0,741.7 1047.7,744.6 1045.0,747.5 1042.6,750.4 1040.0,753.3 1036.7,756.7 1033.3,760.0 1030.8,762.6 1028.3,765.0 1025.2,767.6 1022.5,770.0 1022.1,772.3 1021.7,774.2 1018.4,774.9 1015.0,775.8 1013.7,778.5 1012.5,780.8 1010.1,780.2 1006.7,779.2 1001.9,780.2 996.7,781.7 991.7,783.0 986.7,784.2 981.6,784.7 976.7,785.0 972.1,785.3 968.3,785.8 966.4,787.8 965.0,789.2 963.3,787.9 961.7,785.8 960.2,784.3 958.3,783.3 955.1,783.4 951.7,784.2 949.1,786.0 946.7,787.5 944.4,786.3 941.7,785.0 937.6,786.1 933.3,787.5 929.9,787.6 926.7,787.5 923.3,788.3 920.0,789.2 916.8,789.5 914.2,789.2 912.7,787.3 911.7,785.0 910.3,783.0 909.2,780.8 908.5,778.1 908.3,775.0 908.7,771.5 909.2,768.3 908.6,766.6 908.3,765.0 909.6,762.6 910.8,760.0 910.1,757.6 909.2,755.0 909.6,751.8 910.0,748.3 909.2,745.0 907.5,741.7 904.3,738.2 901.7,735.0 902.5,732.9 903.3,730.8 900.5,728.1 897.5,725.0 897.3,721.7 897.5,718.3 896.0,714.9 894.2,711.7 892.1,708.7 890.8,705.8 892.1,702.9 894.2,700.0 895.3,697.1 896.7,695.0 899.1,694.7 901.7,695.8 903.4,698.8 905.0,701.7 907.0,702.5 909.2,702.5 911.2,701.9 913.3,701.7 915.8,703.5 918.3,705.0 920.9,703.9 923.3,701.7 925.2,699.3 926.7,696.7 928.0,693.8 929.2,690.8 930.1,687.9 930.8,685.0 931.6,682.4 931.7,680.0 930.2,677.9 928.3,675.8 927.1,673.6 926.7,671.7 928.0,670.3 930.0,670.0 931.6,672.5 933.3,675.0 935.4,674.8 937.5,673.3 939.7,671.1 941.7,668.3 942.6,665.4 943.3,662.5 944.8,660.1 946.7,658.3 949.2,658.0 951.7,657.5 953.5,654.8 955.0,651.7 955.8,649.0 956.7,646.7 958.3,645.1 960.0,643.3 961.5,640.5 962.5,637.5 962.0,635.2 961.7,633.3 962.9,631.9 965.0,630.8 967.9,630.2 970.8,630.0 973.0,630.7 975.0,630.8 977.2,628.6 980.0,625.8 983.9,624.0 988.3,622.5 993.0,621.1 997.5,620.0 1001.0,619.1 1004.2,618.3 1007.0,617.0"/>
<polygon points="857.3,366.0 858.3,364.3 860.0,362.7 861.5,361.6 863.3,361.3 865.6,362.9 868.0,364.7 870.4,365.0 872.7,365.3 874.4,366.8 876.0,368.0 878.0,367.7 880.0,367.3 882.2,368.1 884.0,369.3 884.0,370.8 884.0,372.0 885.7,372.5 888.0,372.7 890.8,373.2 893.3,373.3 895.2,372.5 896.0,371.3 895.3,370.5 893.3,370.0 889.9,370.1 886.7,370.0 885.8,368.4 886.0,366.7 887.0,365.8 888.7,365.3 890.9,365.7 893.3,366.0 895.3,365.2 897.3,364.7 900.0,365.5 902.7,366.7 904.8,366.9 906.7,367.3 908.1,368.9 909.3,370.7 911.0,371.7 912.0,372.7 911.5,374.2 910.0,375.3 907.7,375.0 905.3,374.7 903.9,375.9 902.7,377.3 901.3,378.4 900.0,378.7 899.0,377.0 898.0,375.3 896.4,375.4 894.7,376.0 893.1,376.6 891.3,377.3 889.0,378.3 886.7,379.3 884.7,380.2 882.7,380.7 880.0,379.9 877.3,378.7 875.3,377.5 873.3,376.7 870.9,376.8 868.7,376.7 867.2,374.9 866.0,372.7 864.8,370.4 863.3,368.7 861.3,368.6 859.3,368.7 857.9,367.5"/>
<polygon points="911.3,368.0 912.5,366.8 914.7,366.0 917.3,364.4 920.0,363.3 922.0,364.2 924.0,365.3 926.5,364.9 928.7,364.7 930.0,366.1 930.7,368.0 930.6,369.7 930.7,371.3 932.1,372.7 933.3,374.0 933.1,375.5 932.0,376.7 930.1,376.7 928.0,376.7 926.8,377.6 925.3,378.7 922.8,379.3 920.0,379.3 917.8,378.6 916.0,377.3 914.5,375.5 913.3,373.3 912.0,370.5"/>
<polygon points="924.7,350.0 925.8,348.3 927.3,347.3 929.0,348.5 930.7,350.0 932.4,350.2 934.0,350.7 934.9,352.6 936.0,354.7 938.5,355.4 941.3,356.0 944.0,357.3 946.7,358.7 949.4,359.5 952.0,360.0 954.5,360.6 956.7,360.7 958.1,359.4 959.3,358.3 960.8,359.1 962.0,360.7 962.5,362.0 963.3,363.3 965.5,364.5 968.0,365.3 969.8,365.3 971.3,365.3 972.6,366.4 973.3,368.0 972.9,370.0 972.0,372.0 971.1,373.8 970.0,375.3 968.5,376.1 966.7,376.7 964.6,377.6 962.7,378.7 961.4,380.1 960.0,381.3 957.5,381.8 954.7,382.0 951.9,382.8 949.3,383.3 947.2,382.6 945.3,381.3 943.3,379.7 941.3,378.0 939.3,376.5 937.3,375.3 935.2,374.8 933.3,374.0 932.5,372.2 932.0,370.0 931.5,367.4 931.3,364.7 931.8,362.2 932.0,360.0 930.9,358.5 929.3,357.3 927.9,356.3 926.7,355.3 925.9,354.0 925.3,352.7 924.7,351.3"/>
<polygon points="921.3,401.3 922.9,400.1 925.3,398.7 927.9,396.0 930.7,393.3 933.5,392.3 936.0,391.3 937.8,389.2 939.3,387.3 940.8,386.9 942.0,387.3 942.7,388.5 942.7,390.0 941.2,391.7 939.3,393.3 937.8,394.7 936.0,396.0 933.4,397.2 930.7,398.7 928.5,400.7 926.7,402.7 924.9,404.1 923.3,404.7 921.9,403.3"/>
<polygon points="909.3,538.0 911.7,536.2 914.7,534.7 917.8,533.0 920.7,532.0 922.7,532.9 923.7,534.7 922.9,536.6 921.3,538.7 920.3,540.7 919.3,542.7 918.4,544.5 917.3,546.0 915.4,547.0 914.0,548.0 915.0,550.0 916.0,552.0 915.0,553.5 913.3,554.7 911.6,555.3 910.0,555.3 908.9,554.1 908.0,553.3 906.9,555.2 906.0,558.0 905.7,560.7 905.3,563.3 904.1,565.3 902.7,567.3 901.2,569.9 900.0,572.7 899.1,575.3 898.7,578.0 898.8,580.6 899.3,583.3 900.2,586.8 900.7,590.0 899.9,592.3 898.7,593.3 897.3,592.6 896.0,590.7 895.0,587.9 894.0,584.7 892.9,581.3 892.0,578.0 891.8,575.2 892.0,572.7 892.8,570.0 894.0,567.3 895.6,564.8 897.3,562.0 899.0,558.7 900.7,555.3 902.5,552.2 904.0,549.3 904.0,547.2 904.0,545.3 905.9,543.7 908.0,542.0 908.6,540.0"/>
<polygon points="907.3,565.3 908.9,564.1 910.7,562.7 911.0,560.7 911.3,558.7 912.9,557.0 914.7,556.0 916.3,556.5 917.3,558.0 916.8,560.2 916.0,562.7 916.4,565.1 916.7,567.3 916.0,569.0 914.7,570.0 912.7,569.9 910.7,569.3 909.1,568.8 908.0,568.0 907.3,566.8"/>
<polygon points="910.0,576.0 911.1,574.3 912.7,573.3 914.6,573.9 916.0,575.3 915.5,577.1 914.7,579.3 915.0,581.9 915.3,584.7 915.2,587.5 914.7,590.0 913.5,591.5 912.0,592.0 910.5,591.5 909.3,590.0 909.5,587.5 910.0,584.7 910.0,582.2 910.0,580.0 909.8,577.9"/>
<polygon points="722.7,720.0 724.0,718.6 726.0,717.3 728.3,716.7 730.7,716.0 732.7,714.7 734.7,713.3 737.1,712.0 739.3,711.3 740.9,712.3 742.0,714.0 743.2,716.0 743.7,718.0 742.9,719.5 741.3,720.7 739.4,721.0 737.3,721.3 735.3,722.6 733.3,724.0 731.7,724.6 730.0,724.9 727.6,725.4 725.3,725.3 723.9,724.2 722.9,722.7 722.4,721.3"/>
<polygon points="746.0,788.7 747.8,787.0 750.0,786.0 751.8,786.2 753.3,787.3 754.1,789.3 754.7,791.3 755.9,792.4 756.7,793.3 755.7,794.7 754.0,796.0 751.8,796.9 750.0,798.0 750.1,800.0 750.4,802.0 749.1,803.6 747.3,804.4 745.6,803.9 744.0,802.7 743.0,801.1 742.7,799.3 743.9,797.3 745.3,795.3 745.8,793.6 746.0,792.0 745.8,790.3"/>
<polygon points="789.1,785.3 790.1,784.0 792.0,783.1 794.0,782.9 796.0,782.7 797.7,781.1 799.3,779.3 801.0,778.7 802.7,778.0 804.2,776.3 806.0,774.7 808.4,774.1 810.7,774.3 812.5,775.5 813.6,777.3 813.1,779.5 812.0,782.0 811.2,784.6 810.7,787.3 810.8,790.1 811.3,792.7 812.8,794.5 814.0,796.0 813.5,797.5 812.0,798.7 809.8,799.5 807.3,799.6 805.6,798.3 804.0,796.7 801.9,796.1 800.0,795.3 799.3,793.4 798.7,791.3 797.2,790.1 795.3,789.3 793.3,788.9 791.3,788.4 789.8,786.9"/>
<polygon points="652.5,978.8 655.5,976.2 660.0,980.0 663.2,984.5 661.2,988.0 655.5,987.0 653.8,983.0"/>
</g>
<g fill="#fff"><polygon points="395.8,840.4 416.7,838.3 445.8,850.8 483.3,863.3 489.6,880.0 458.3,879.2 429.2,873.8 400.0,863.3"/><polygon points="350.0,717.5 375.0,719.6 393.8,734.2 387.5,763.3 395.8,788.3 375.0,784.2 362.5,755.0 350.0,734.2"/><polygon points="720.0,546.7 730.7,530.7 741.3,528.0 758.7,538.7 766.7,560.0 766.7,576.0 758.7,582.7 744.0,576.0 725.3,574.7 718.7,568.0"/><polygon points="764.0,274.7 785.3,280.0 801.3,264.0 828.0,264.0 846.7,282.7 841.3,301.3 825.3,314.7 804.0,325.3 780.0,317.3 766.7,301.3"/><polygon points="405.0,405.0 440.0,395.0 460.0,402.5 480.0,425.0 510.0,415.0 520.0,402.5 555.0,427.5 580.0,427.5 605.0,435.0 605.0,475.0 570.0,480.0 575.0,505.0 545.0,512.5 525.0,530.0 490.0,520.0 470.0,512.5 480.0,480.0 460.0,470.0 435.0,450.0 405.0,445.0"/><polygon points="420.0,545.0 435.0,522.5 470.0,512.5 490.0,520.0 495.0,560.0 470.0,557.5 440.0,565.0 425.0,560.0"/><polygon points="676.7,195.3 718.8,199.0 742.7,202.7 768.3,217.3 805.0,239.3 816.0,265.0 823.3,283.3 805.0,298.0 779.3,283.3 757.3,257.7 735.3,239.3 706.0,239.3 676.7,243.0 658.3,239.3 671.2,217.3"/></g>
<path d="M455.1 869.7h0M447.2 862.3h0M446.8 866.9h0M407.7 839.8h0M424.6 858.2h0M485.6 878.6h0M445.3 871.2h0M402.3 852.0h0M447.4 850.8h0M401.0 843.5h0M409.2 839.1h0M438.5 855.6h0M455.8 871.8h0M422.5 857.0h0M441.7 869.2h0M442.8 851.9h0M402.1 849.0h0M470.2 867.6h0M459.2 870.5h0M421.1 858.4h0M469.7 867.5h0M457.8 862.6h0M457.5 872.2h0M479.6 867.4h0M490.2 879.2h0M444.7 860.3h0M461.9 868.8h0M470.7 862.6h0M459.3 855.5h0M455.2 871.2h0M456.5 868.8h0M395.9 844.0h0M437.0 865.7h0M398.6 842.9h0M412.4 838.5h0M439.4 853.8h0M454.0 863.0h0M420.9 855.1h0M447.4 852.0h0M474.0 865.3h0M429.9 843.2h0M452.4 861.9h0M488.3 879.7h0M430.5 856.0h0M488.7 877.3h0M421.7 858.0h0M453.6 857.9h0M457.3 863.6h0M446.2 851.8h0M422.7 860.4h0M467.2 863.1h0M435.7 862.4h0M463.6 864.9h0M431.5 854.3h0M462.2 856.1h0M440.7 861.2h0M442.6 851.6h0M471.9 866.3h0M490.4 881.1h0M400.3 839.5h0M450.4 869.8h0M452.8 858.6h0M448.3 864.4h0M416.5 853.4h0M464.1 865.9h0M402.3 842.5h0M398.5 843.6h0M475.8 865.6h0M452.1 862.3h0M402.8 838.4h0M413.3 838.7h0M454.8 855.9h0M408.6 844.0h0M430.4 854.0h0M461.5 866.7h0M413.2 838.1h0M416.1 840.4h0M466.0 868.7h0M457.4 856.0h0M444.8 852.4h0M402.5 840.1h0M417.4 839.2h0M418.6 855.0h0M401.6 850.8h0M484.7 863.4h0M441.5 862.2h0M423.8 856.8h0M404.7 850.7h0M406.1 840.6h0M417.5 840.7h0M435.8 862.4h0M417.6 839.7h0M468.0 861.5h0M482.2 865.9h0M468.7 862.3h0M465.5 867.9h0M399.7 844.4h0M421.6 839.8h0M469.1 861.6h0M395.9 839.2h0M463.7 856.7h0M486.5 872.1h0M436.3 856.5h0M449.1 852.7h0M477.6 864.3h0M396.9 844.5h0M455.1 872.3h0M444.0 862.9h0M424.2 853.9h0M440.5 868.0h0M462.0 866.6h0M460.7 860.0h0M421.4 840.4h0M401.9 852.7h0M450.9 870.5h0M468.1 866.6h0M488.3 876.6h0M466.6 863.9h0M483.6 864.1h0M461.6 861.4h0M435.5 860.3h0M396.2 842.1h0M449.1 863.6h0M452.3 865.5h0M461.8 869.2h0M403.2 845.5h0M408.8 841.1h0M473.1 868.5h0M485.0 879.2h0M403.5 841.5h0M460.8 869.8h0M375.0 743.7h0M385.5 769.7h0M363.0 724.4h0M371.9 742.2h0M384.4 784.5h0M367.1 737.4h0M372.8 767.9h0M386.9 758.8h0M363.0 740.9h0M352.1 735.9h0M385.8 742.7h0M349.4 734.4h0M370.8 744.3h0M370.1 751.0h0M352.7 736.5h0M369.7 760.1h0M388.7 784.3h0M385.3 782.5h0M369.1 735.9h0M371.4 737.1h0M392.2 782.1h0M388.8 787.7h0M357.6 747.8h0M353.0 723.9h0M379.8 743.7h0M366.5 751.4h0M372.0 768.6h0M368.9 753.4h0M378.2 775.1h0M363.0 749.4h0M380.4 785.0h0M366.6 755.4h0M383.2 786.0h0M394.7 789.8h0M370.4 770.9h0M374.3 744.8h0M375.4 777.9h0M355.3 741.9h0M372.6 758.1h0M358.7 749.7h0M351.5 722.2h0M365.2 726.4h0M384.6 735.3h0M367.5 762.8h0M360.5 735.4h0M355.2 719.5h0M384.5 757.7h0M349.0 718.8h0M383.6 761.5h0M378.3 732.2h0M353.1 720.6h0M370.9 764.3h0M385.2 735.0h0M385.4 754.3h0M356.1 731.8h0M358.5 722.2h0M365.7 721.5h0M369.2 762.3h0M380.2 728.7h0M382.0 749.2h0M376.4 784.1h0M355.6 735.7h0M372.6 755.8h0M380.8 747.1h0M386.7 778.3h0M362.8 723.7h0M361.2 742.4h0M391.8 735.4h0M379.2 763.7h0M386.0 740.8h0M367.2 763.4h0M383.8 735.2h0M368.4 740.3h0M353.2 720.4h0M383.4 746.4h0M376.0 737.4h0M393.9 786.6h0M371.2 723.3h0M369.8 736.0h0M369.4 731.3h0M367.1 763.2h0M355.4 719.6h0M376.5 753.1h0M361.0 750.9h0M385.4 761.0h0M355.1 730.8h0M382.3 770.3h0M355.1 728.2h0M378.7 779.9h0M360.8 742.3h0M364.9 760.0h0M379.6 752.3h0M391.0 784.6h0M362.3 740.6h0M369.0 746.7h0M380.4 772.4h0M381.4 741.1h0M384.1 753.5h0M383.1 761.7h0M387.0 773.5h0M374.6 751.5h0M354.4 730.8h0M380.2 744.5h0M379.9 732.8h0M380.5 759.2h0M384.7 753.4h0M369.7 738.6h0M384.3 743.6h0M377.6 772.5h0M370.2 767.1h0M351.6 735.1h0M370.8 748.5h0M387.6 751.4h0M387.2 773.2h0M378.9 778.3h0M378.4 769.3h0M352.9 732.1h0M367.5 728.0h0M382.1 731.9h0M368.1 749.4h0M370.7 773.2h0M382.3 780.2h0M381.8 772.8h0M390.9 784.4h0M387.1 746.8h0M380.6 765.0h0M370.1 729.9h0M364.5 734.4h0M381.7 773.3h0M389.4 743.0h0M366.2 726.4h0M389.1 740.1h0M385.4 751.4h0M387.6 749.5h0M374.7 728.4h0M369.3 748.6h0M388.6 732.8h0M384.1 746.2h0M386.4 738.8h0M379.7 784.4h0M373.5 750.8h0M370.1 726.9h0M362.1 749.3h0M360.4 737.4h0M353.0 738.3h0M365.2 731.3h0M381.7 750.2h0M351.4 732.7h0M362.5 735.4h0M365.4 753.6h0M370.5 764.9h0M378.5 746.0h0M369.3 725.5h0M363.4 743.0h0M377.9 759.9h0M356.4 740.5h0M382.3 753.9h0M390.0 778.8h0M378.7 779.2h0M394.4 786.2h0M384.9 770.2h0M370.8 736.4h0M357.0 746.5h0M369.8 761.6h0M370.7 737.1h0M380.6 733.9h0M372.8 759.2h0M386.4 738.6h0M365.0 761.5h0M361.9 755.1h0M350.8 732.4h0M359.3 749.8h0M350.2 724.7h0M363.7 734.2h0M351.8 723.8h0M386.6 734.7h0M356.8 735.8h0M351.8 728.8h0M383.6 752.4h0M389.9 779.5h0M384.0 770.5h0M367.2 758.6h0M361.2 749.9h0M354.4 721.6h0M360.6 743.2h0M389.2 771.5h0M377.4 739.8h0M367.7 739.4h0M379.4 779.8h0M387.0 737.7h0M377.0 732.7h0M380.9 759.5h0M382.8 770.6h0M379.1 767.4h0M352.4 729.6h0M371.2 756.5h0M365.4 751.3h0M373.9 778.6h0M363.3 757.6h0M378.0 764.8h0M363.7 736.5h0M371.4 760.7h0M370.3 757.6h0M358.0 723.3h0M372.8 737.7h0M356.4 745.6h0M359.7 736.7h0M361.1 751.6h0M372.1 726.8h0M381.0 769.7h0M371.8 755.9h0M386.0 787.4h0M373.1 765.3h0M366.4 761.9h0M378.4 765.9h0M383.0 768.5h0M385.2 732.6h0M372.5 754.9h0M383.7 773.0h0M370.1 758.1h0M383.3 787.4h0M380.2 756.1h0M386.9 780.1h0M378.5 768.0h0M374.4 765.7h0M379.5 780.5h0M372.6 752.6h0M380.5 757.8h0M364.1 753.1h0M350.6 729.9h0M376.2 782.9h0M371.7 740.3h0M361.2 742.9h0M348.6 724.6h0M355.8 739.2h0M385.9 786.3h0M365.8 734.3h0M371.8 724.4h0M374.0 735.8h0M385.8 756.3h0M391.0 739.4h0M384.4 776.5h0M363.4 721.8h0M369.3 754.7h0M370.6 738.9h0M360.4 747.3h0M353.6 733.5h0M374.0 766.1h0M381.2 754.7h0M366.4 726.6h0M350.0 724.7h0M381.4 740.9h0M359.9 739.1h0M372.5 731.3h0M351.9 722.0h0M358.7 733.2h0M743.5 547.8h0M754.8 569.8h0M748.5 553.8h0M753.9 551.0h0M734.9 550.1h0M742.3 536.1h0M732.6 561.4h0M742.8 554.5h0M751.8 553.6h0M748.8 560.3h0M757.4 567.4h0M752.2 545.2h0M735.4 551.5h0M746.8 563.5h0M748.2 567.3h0M731.8 562.0h0M741.2 558.8h0M750.6 541.4h0M746.8 560.9h0M742.5 550.6h0M741.2 547.7h0M755.9 559.5h0M745.1 560.3h0M758.7 569.5h0M752.6 542.0h0M757.4 560.3h0M754.4 551.4h0M746.7 543.7h0M747.9 555.1h0M750.3 562.6h0M738.0 541.6h0M751.9 548.6h0M735.5 566.0h0M750.6 554.6h0M751.8 550.9h0M758.3 557.1h0M751.0 563.4h0M737.0 533.4h0M734.8 540.2h0M751.6 544.6h0M746.8 556.7h0M757.4 559.6h0M749.7 558.9h0M760.8 566.8h0M756.1 567.3h0M741.1 541.9h0M740.8 538.4h0M754.3 548.6h0M731.1 560.6h0M745.0 551.0h0M751.8 556.5h0M743.8 541.0h0M744.7 541.2h0M736.0 560.0h0M752.2 566.0h0M745.3 560.9h0M732.9 564.7h0M759.6 563.9h0M761.9 568.3h0M754.4 541.7h0M738.7 548.2h0M740.6 550.5h0M743.0 535.5h0M736.8 558.6h0M745.5 536.4h0M744.7 555.0h0M759.7 563.4h0M733.9 540.0h0M749.3 558.2h0M744.6 558.8h0M751.2 540.3h0M740.2 540.0h0M753.2 549.2h0M753.6 551.7h0M752.0 551.0h0M740.8 539.7h0M756.0 571.5h0M754.1 551.1h0M742.2 549.1h0M740.9 545.1h0M751.3 573.7h0M749.0 548.3h0M740.9 558.0h0M760.9 562.7h0M746.6 539.3h0M733.8 557.7h0M745.0 542.7h0M752.7 541.6h0M752.0 561.9h0M736.0 565.1h0M738.4 540.1h0M742.5 533.8h0M748.0 543.6h0M751.3 542.1h0M752.4 569.7h0M752.9 569.8h0M743.3 547.1h0M757.1 555.6h0M755.3 569.8h0M755.2 573.4h0M732.6 548.5h0M754.6 543.2h0M739.5 536.1h0M756.5 561.5h0M755.4 557.0h0M742.2 552.6h0M749.3 561.8h0M762.3 571.5h0M754.1 567.8h0M753.3 546.8h0M750.7 571.5h0M757.0 558.8h0M745.8 566.1h0M761.4 563.0h0M738.9 548.9h0M749.9 546.1h0M752.5 542.1h0M755.1 558.6h0M745.0 546.2h0M741.2 543.0h0M738.6 533.2h0M739.0 555.6h0M741.7 545.1h0M806.0 274.9h0M820.3 279.9h0M780.2 287.6h0M806.3 286.2h0M801.6 307.7h0M805.6 288.6h0M812.5 280.2h0M821.4 289.9h0M823.4 284.9h0M817.5 275.0h0M804.1 294.3h0M801.9 312.0h0M817.4 293.5h0M790.8 309.5h0M817.6 276.5h0M837.7 293.0h0M808.1 275.1h0M834.4 293.1h0M802.2 277.7h0M802.8 267.5h0M800.0 284.5h0M799.1 274.4h0M796.6 274.6h0M825.7 281.3h0M821.8 304.3h0M773.7 300.6h0M797.7 315.6h0M788.4 279.4h0M786.8 297.3h0M823.3 299.1h0M786.1 288.1h0M833.8 287.5h0M802.4 273.2h0M824.0 289.4h0M795.4 312.6h0M817.8 310.3h0M797.3 270.7h0M786.8 300.5h0M804.6 270.9h0M786.5 310.4h0M805.0 277.8h0M804.6 290.3h0M775.2 297.8h0M791.3 302.2h0M779.0 296.2h0M767.7 281.7h0M809.0 277.1h0M788.8 276.3h0M796.6 317.0h0M809.4 284.0h0M787.1 298.8h0M806.5 273.8h0M838.5 282.8h0M785.9 299.4h0M779.4 307.7h0M803.4 275.3h0M790.5 286.2h0M816.2 299.2h0M798.3 320.7h0M800.8 300.5h0M809.5 295.3h0M788.8 317.1h0M786.4 313.0h0M797.7 271.8h0M783.9 308.8h0M817.8 282.8h0M777.4 290.7h0M823.9 284.5h0M810.8 274.5h0M812.0 293.1h0M796.4 311.0h0M800.4 288.3h0M824.9 274.1h0M791.6 277.9h0M788.9 310.2h0M802.7 310.7h0M832.7 281.1h0M833.4 291.3h0M822.6 311.1h0M830.7 296.2h0M838.2 295.1h0M773.2 302.1h0M811.4 294.9h0M792.1 311.4h0M789.2 302.4h0M811.2 289.6h0M831.1 291.1h0M786.0 313.6h0M795.1 310.8h0M820.1 299.9h0M830.4 298.2h0M808.7 279.1h0M778.5 292.7h0M784.4 293.6h0M815.6 275.1h0M834.6 299.9h0M820.5 307.7h0M816.9 281.4h0M812.0 283.7h0M808.4 287.6h0M784.1 291.8h0M796.6 287.1h0M784.0 302.0h0M815.4 282.8h0M819.4 293.2h0M774.1 295.3h0M805.3 275.4h0M776.1 302.7h0M809.5 296.0h0M821.9 289.3h0M801.1 317.3h0M795.4 309.6h0M782.1 301.8h0M802.5 300.5h0M830.2 287.2h0M814.6 290.9h0M808.7 279.6h0M800.4 303.9h0M837.0 279.2h0M822.6 295.2h0M821.5 302.8h0M784.2 302.9h0M776.6 302.6h0M828.0 289.7h0M806.4 278.7h0M774.0 296.7h0M823.0 274.2h0M834.8 300.4h0M793.3 277.9h0M799.3 270.2h0M798.7 302.4h0M838.4 283.9h0M814.8 283.8h0M791.4 310.6h0M811.7 276.2h0M779.7 295.4h0M835.0 293.9h0M803.4 272.9h0M820.1 287.9h0M823.9 286.9h0M806.6 305.2h0M800.4 319.4h0M826.2 286.6h0M817.5 276.2h0M779.0 306.4h0M817.9 272.5h0M789.3 296.3h0M803.1 289.2h0M818.2 285.3h0M771.5 286.2h0M820.3 310.6h0M798.0 269.8h0M804.5 298.8h0M826.1 290.0h0M807.0 286.4h0M823.1 277.3h0M814.8 275.9h0M801.7 319.5h0M786.2 300.3h0M808.4 277.4h0M809.0 279.4h0M831.4 277.6h0M783.7 295.2h0M790.6 305.4h0M790.7 298.3h0M805.0 272.4h0M817.4 309.1h0M816.3 308.9h0M782.7 290.8h0M809.0 275.0h0M786.8 287.9h0M819.6 270.5h0M791.3 307.7h0M802.8 295.9h0M824.0 293.2h0M830.0 284.8h0M785.1 304.6h0M827.1 298.3h0M835.8 297.3h0M795.2 315.2h0M810.9 276.4h0M797.6 289.6h0M822.8 303.8h0M792.4 277.2h0M811.3 297.0h0M778.1 302.0h0M802.7 307.7h0M821.5 268.8h0M807.2 279.9h0M797.9 312.6h0M834.9 284.8h0M815.0 268.5h0M801.8 276.7h0M786.7 308.0h0M816.4 286.7h0M828.8 301.0h0M803.9 289.8h0M800.7 265.2h0M785.2 290.9h0M802.6 308.7h0M783.5 312.7h0M816.2 279.1h0M828.7 280.0h0M811.1 286.1h0M807.6 292.1h0M809.0 279.6h0M780.1 289.5h0M802.1 291.6h0M791.6 303.1h0M825.3 278.9h0M821.7 308.6h0M815.0 294.9h0M816.9 284.7h0M813.4 294.6h0M803.8 269.4h0M800.1 292.7h0M806.5 276.6h0M800.2 283.8h0M828.6 283.0h0M789.0 275.6h0M817.0 267.2h0M812.1 282.3h0M820.1 269.1h0M822.0 279.7h0M795.7 285.0h0M839.1 294.8h0M800.5 284.3h0M839.5 288.7h0M801.1 319.4h0M827.0 274.2h0M793.3 284.4h0M791.4 300.9h0M799.0 308.9h0M792.4 307.3h0M831.6 300.9h0M824.5 271.4h0M821.2 302.9h0M789.5 318.0h0M799.9 278.2h0M805.4 288.1h0M820.0 268.0h0M790.9 283.3h0M805.1 312.0h0M798.8 310.8h0M780.0 309.3h0M800.9 277.3h0M799.5 276.6h0M793.2 302.0h0M826.4 293.6h0M799.0 280.9h0M823.2 279.6h0M827.9 298.4h0M769.7 284.6h0M838.1 294.8h0M839.9 280.9h0M821.3 306.5h0M826.4 280.4h0M814.3 294.1h0M797.5 308.9h0M794.0 305.6h0M811.6 269.2h0M806.5 269.6h0M828.5 300.7h0M825.9 293.1h0M547.3 498.4h0M539.1 488.4h0M568.0 481.5h0M522.0 521.6h0M404.6 402.1h0M525.6 449.9h0M407.2 440.1h0M506.1 518.4h0M523.8 499.4h0M503.2 451.0h0M500.6 505.8h0M529.0 448.0h0M589.2 466.9h0M585.7 430.4h0M529.1 445.5h0M466.0 450.9h0M497.6 454.1h0M485.2 513.7h0M532.7 446.9h0M596.5 463.8h0M481.8 470.9h0M504.4 460.4h0M582.8 435.9h0M407.7 415.1h0M542.4 488.0h0M477.1 434.4h0M434.2 395.9h0M552.7 473.6h0M588.5 468.5h0M515.0 456.6h0M503.8 461.3h0M402.6 426.9h0M522.9 515.3h0M533.2 440.3h0M449.3 410.1h0M411.3 407.8h0M588.5 447.9h0M523.1 429.2h0M449.1 411.2h0M540.2 488.3h0M500.8 496.9h0M496.6 457.3h0M609.6 440.1h0M499.0 452.2h0M576.4 474.8h0M533.6 496.8h0M559.9 497.7h0M519.0 523.9h0M589.5 451.2h0M593.4 459.3h0M403.1 423.5h0M525.4 503.6h0M478.1 469.5h0M473.5 513.5h0M590.3 456.8h0M473.6 438.3h0M459.0 447.6h0M463.8 469.0h0M434.7 403.6h0M525.0 520.4h0M399.2 419.0h0M556.3 497.6h0M525.1 428.5h0M523.7 455.2h0M481.6 445.0h0M525.0 494.8h0M524.6 469.4h0M467.0 462.9h0M399.6 423.0h0M529.4 491.7h0M535.3 494.8h0M544.0 499.6h0M417.4 409.9h0M549.1 495.4h0M562.7 493.3h0M489.1 520.3h0M573.7 440.5h0M500.3 442.5h0M504.1 450.2h0M603.6 443.8h0M488.1 489.0h0M504.4 503.1h0M505.5 459.1h0M495.9 482.5h0M533.4 477.5h0M474.0 445.7h0M556.7 468.7h0M518.7 435.5h0M494.7 516.1h0M404.7 438.8h0M518.5 434.7h0M587.9 451.3h0M540.9 492.4h0M599.4 452.2h0M596.3 447.6h0M495.4 485.2h0M404.4 432.9h0M565.0 470.0h0M456.0 448.3h0M527.2 468.6h0M507.6 516.3h0M483.8 503.7h0M504.0 450.1h0M467.6 427.0h0M547.1 478.3h0M577.8 462.0h0M411.3 441.3h0M407.6 419.4h0M540.3 492.4h0M422.0 400.7h0M502.2 441.0h0M597.5 446.5h0M426.2 398.6h0M513.0 444.6h0M491.1 478.3h0M525.4 473.1h0M474.3 435.7h0M496.8 517.3h0M498.3 454.5h0M581.0 435.6h0M464.5 464.8h0M531.9 467.7h0M500.3 460.6h0M534.6 479.4h0M408.1 432.1h0M484.8 470.1h0M500.4 449.2h0M605.5 464.0h0M496.9 485.5h0M506.6 505.4h0M426.2 422.8h0M538.1 497.8h0M526.7 517.9h0M502.9 499.1h0M594.4 449.5h0M524.7 446.1h0M561.2 460.3h0M514.0 430.3h0M467.9 429.3h0M540.4 506.4h0M499.1 514.6h0M484.8 468.0h0M498.7 442.0h0M528.2 494.7h0M572.1 464.3h0M449.0 408.5h0M426.2 397.1h0M537.1 479.2h0M475.3 459.2h0M608.4 462.3h0M536.3 485.5h0M530.3 487.5h0M418.8 399.9h0M481.9 463.0h0M523.8 498.7h0M494.8 446.4h0M433.1 403.4h0M494.0 476.7h0M524.8 508.5h0M578.4 477.2h0M607.5 460.6h0M525.4 515.8h0M438.9 438.1h0M522.5 469.9h0M488.2 475.5h0M576.2 470.0h0M504.6 457.5h0M407.3 436.2h0M562.2 483.4h0M454.7 444.7h0M574.2 459.3h0M554.0 473.8h0M524.7 505.5h0M489.1 515.5h0M529.0 517.7h0M423.6 441.1h0M563.8 475.7h0M518.2 502.7h0M529.7 495.4h0M533.0 481.7h0M421.6 412.2h0M471.0 435.7h0M483.6 468.6h0M510.7 524.9h0M563.4 463.6h0M558.3 498.5h0M522.2 469.1h0M503.0 525.6h0M402.6 416.1h0M576.5 464.0h0M489.6 510.2h0M445.7 402.0h0M523.6 487.4h0M516.8 439.6h0M420.3 416.6h0M583.1 445.8h0M528.4 500.4h0M526.2 501.5h0M565.3 475.2h0M414.3 401.4h0M595.6 429.3h0M527.7 438.7h0M526.6 522.7h0M541.8 486.7h0M506.6 455.0h0M510.9 514.6h0M522.1 441.4h0M507.2 463.8h0M418.2 409.9h0M439.4 414.6h0M423.7 438.2h0M514.2 464.5h0M487.3 463.7h0M416.4 400.1h0M403.6 417.9h0M562.9 478.7h0M495.2 467.9h0M522.1 502.1h0M582.7 450.7h0M502.2 468.8h0M408.5 410.5h0M450.3 444.1h0M515.3 434.3h0M543.5 501.4h0M492.5 522.8h0M456.4 447.7h0M510.9 516.5h0M420.8 398.4h0M544.9 473.6h0M549.1 499.0h0M482.3 451.3h0M489.9 451.1h0M554.3 475.9h0M538.9 489.0h0M485.3 506.8h0M526.5 430.9h0M444.4 394.9h0M478.1 459.0h0M524.9 456.2h0M487.4 449.9h0M593.1 434.6h0M469.3 427.1h0M497.1 458.3h0M534.3 483.2h0M499.4 451.7h0M429.3 422.7h0M530.1 515.6h0M494.4 507.7h0M479.3 507.7h0M534.8 447.3h0M509.7 463.1h0M600.1 442.0h0M545.0 494.1h0M427.9 443.7h0M571.7 479.5h0M601.3 454.8h0M607.3 444.6h0M514.2 434.3h0M598.8 451.0h0M472.0 461.6h0M580.0 473.0h0M512.6 525.0h0M499.7 507.1h0M426.8 417.8h0M515.8 508.9h0M471.1 449.5h0M573.2 442.1h0M422.8 421.7h0M576.4 464.0h0M593.5 471.0h0M491.1 511.2h0M428.9 407.0h0M539.4 504.0h0M537.3 472.6h0M405.2 403.2h0M422.6 441.4h0M534.9 471.9h0M455.0 413.7h0M597.3 456.4h0M461.7 456.9h0M514.2 519.2h0M510.6 429.4h0M510.3 522.0h0M577.1 473.5h0M492.1 501.4h0M592.7 433.0h0M405.3 433.5h0M475.0 457.4h0M516.3 528.6h0M566.1 487.9h0M501.7 454.7h0M404.2 416.8h0M450.7 448.6h0M457.1 446.1h0M565.8 478.9h0M497.9 515.8h0M530.7 486.5h0M567.5 457.4h0M400.0 426.7h0M547.0 497.8h0M507.4 523.8h0M445.6 414.0h0M401.4 426.8h0M560.1 488.8h0M416.2 442.6h0M515.4 437.8h0M511.0 423.1h0M520.2 454.2h0M409.5 401.1h0M493.8 483.7h0M585.3 453.4h0M486.6 457.3h0M537.3 501.2h0M597.3 432.3h0M579.8 469.0h0M461.1 415.6h0M494.8 492.9h0M520.9 438.6h0M402.4 420.5h0M462.9 459.4h0M451.9 410.7h0M531.2 513.8h0M544.0 500.2h0M403.8 440.0h0M510.9 462.5h0M471.3 515.3h0M494.9 452.6h0M531.4 482.5h0M573.6 453.4h0M432.7 403.2h0M487.1 472.5h0M591.1 456.5h0M568.3 443.3h0M556.6 502.4h0M608.6 449.7h0M534.6 513.7h0M541.5 507.2h0M532.6 444.9h0M493.2 500.0h0M566.2 490.0h0M417.7 403.3h0M596.0 458.8h0M599.3 445.3h0M503.2 449.6h0M473.9 460.2h0M503.5 519.0h0M492.8 513.4h0M532.8 481.7h0M527.5 470.7h0M596.1 467.5h0M468.9 430.8h0M536.6 512.5h0M506.5 519.9h0M519.2 522.0h0M574.2 473.6h0M548.3 494.0h0M406.8 422.2h0M520.9 424.2h0M541.4 503.0h0M533.5 445.5h0M571.7 478.2h0M528.5 440.0h0M547.8 477.9h0M606.9 453.4h0M493.2 478.3h0M590.3 467.2h0M597.4 451.1h0M419.5 406.4h0M449.2 410.2h0M520.7 465.4h0M485.8 467.5h0M486.7 521.9h0M519.8 438.6h0M586.4 473.0h0M477.7 461.7h0M401.2 410.6h0M582.9 465.3h0M405.1 414.3h0M568.0 444.1h0M478.8 447.9h0M478.3 434.4h0M514.3 410.6h0M610.2 462.5h0M507.1 455.3h0M441.5 413.3h0M607.4 458.4h0M562.9 490.9h0M487.4 458.9h0M602.8 441.1h0M549.6 505.6h0M492.0 484.6h0M587.6 472.8h0M408.9 401.1h0M601.1 434.7h0M510.0 511.9h0M520.0 428.2h0M461.3 416.0h0M484.8 465.2h0M420.8 419.7h0M526.4 523.5h0M550.4 489.9h0M560.7 477.2h0M432.3 397.1h0M531.7 512.9h0M462.1 417.3h0M543.5 482.7h0M600.4 439.1h0M502.0 505.7h0M579.9 430.8h0M512.9 426.8h0M599.8 458.9h0M515.0 503.3h0M428.8 402.0h0M559.2 490.0h0M587.8 461.5h0M542.1 490.2h0M607.0 465.5h0M543.4 493.1h0M486.4 472.3h0M494.5 444.9h0M561.5 460.9h0M535.0 476.9h0M493.3 507.3h0M414.8 411.1h0M485.7 492.9h0M597.6 442.8h0M476.2 450.3h0M579.1 466.3h0M519.0 508.8h0M422.6 401.7h0M547.8 478.4h0M404.2 402.5h0M555.2 467.0h0M484.1 493.1h0M561.8 475.0h0M413.9 406.6h0M506.0 522.9h0M540.8 497.8h0M408.5 435.0h0M424.4 439.8h0M508.7 443.7h0M514.8 438.9h0M529.3 474.3h0M596.2 468.9h0M507.4 508.6h0M505.6 521.9h0M470.0 466.0h0M524.8 512.6h0M461.4 451.6h0M462.0 447.0h0M469.7 444.9h0M502.6 508.6h0M488.5 461.7h0M448.3 413.4h0M518.6 451.9h0M538.2 499.8h0M522.2 442.7h0M499.5 510.1h0M410.5 399.3h0M581.0 437.5h0M551.2 493.1h0M563.1 494.7h0M497.7 514.5h0M505.9 516.3h0M485.9 467.5h0M526.0 469.6h0M420.5 402.0h0M514.3 509.1h0M493.9 504.3h0M494.7 470.9h0M519.4 421.1h0M583.5 467.7h0M474.3 459.1h0M420.0 442.5h0M530.0 441.0h0M561.2 471.6h0M499.5 501.8h0M579.1 431.8h0M583.3 453.2h0M486.3 470.7h0M487.0 462.8h0M534.9 474.6h0M518.2 528.6h0M512.5 509.4h0M501.3 449.8h0M509.8 518.4h0M554.5 497.7h0M490.4 485.9h0M576.3 477.6h0M508.1 510.8h0M496.5 489.5h0M536.8 488.8h0M551.7 490.8h0M507.2 523.1h0M474.1 440.7h0M426.9 419.0h0M511.8 460.5h0M514.0 516.6h0M509.5 508.7h0M502.4 513.9h0M487.9 453.6h0M410.7 399.6h0M515.3 466.2h0M518.8 418.1h0M411.9 440.9h0M583.3 469.7h0M527.9 468.7h0M569.8 472.9h0M563.4 495.5h0M520.4 434.7h0M536.6 492.6h0M512.1 435.4h0M407.1 429.7h0M460.2 415.4h0M516.6 507.8h0M574.2 443.8h0M542.3 489.9h0M531.8 499.5h0M509.7 454.4h0M399.7 419.7h0M514.8 508.1h0M593.1 471.3h0M519.2 436.8h0M449.2 445.7h0M514.6 450.8h0M460.4 416.0h0M422.1 410.4h0M514.1 415.0h0M526.4 444.0h0M574.5 475.5h0M597.4 435.5h0M475.1 445.3h0M525.1 497.1h0M597.5 464.0h0M516.0 420.7h0M527.8 520.3h0M472.0 459.1h0M569.7 469.9h0M571.2 453.1h0M409.1 410.2h0M416.4 416.6h0M485.8 449.1h0M599.0 447.1h0M522.6 502.9h0M578.7 469.6h0M516.4 527.3h0M410.0 438.2h0M572.0 449.7h0M454.4 444.4h0M512.3 518.0h0M482.2 452.6h0M407.5 434.9h0M497.3 512.8h0M525.6 482.3h0M606.6 462.1h0M544.3 501.7h0M515.7 438.9h0M556.9 480.0h0M477.5 454.1h0M473.3 430.9h0M518.9 525.1h0M502.6 506.9h0M519.4 514.7h0M519.3 421.3h0M523.4 518.5h0M466.6 470.7h0M494.2 501.5h0M516.2 418.5h0M442.5 400.7h0M548.6 503.4h0M457.2 414.5h0M507.0 505.6h0M502.8 444.8h0M497.5 442.0h0M484.2 454.5h0M530.4 445.9h0M561.2 465.0h0M593.1 447.3h0M466.4 457.4h0M487.5 495.4h0M482.8 454.8h0M418.5 411.8h0M508.0 460.8h0M561.9 501.3h0M485.2 446.3h0M522.6 431.7h0M430.7 399.1h0M583.2 470.0h0M461.1 456.5h0M592.3 454.0h0M486.2 447.9h0M455.9 411.7h0M471.8 449.3h0M414.3 433.1h0M571.8 464.4h0M562.5 484.5h0M400.2 422.4h0M406.6 402.6h0M405.9 405.2h0M449.3 446.4h0M570.1 448.3h0M487.6 508.7h0M516.9 528.9h0M472.6 444.0h0M497.6 498.0h0M583.2 438.6h0M461.5 441.6h0M590.4 428.8h0M514.0 445.8h0M499.8 461.8h0M524.6 434.7h0M514.1 516.1h0M532.7 455.7h0M444.1 399.7h0M424.6 422.3h0M589.3 470.6h0M557.1 479.0h0M494.0 521.8h0M514.4 508.5h0M541.2 503.1h0M590.8 457.9h0M506.8 443.1h0M536.8 481.9h0M600.4 453.2h0M479.4 436.8h0M589.7 470.9h0M499.5 518.7h0M511.7 435.8h0M525.7 512.0h0M453.6 452.3h0M541.7 485.5h0M508.5 456.6h0M484.6 468.5h0M423.1 404.2h0M497.9 463.1h0M462.7 441.1h0M523.8 467.8h0M574.1 476.3h0M583.2 435.9h0M468.2 445.9h0M564.9 488.8h0M547.3 493.5h0M456.5 453.8h0M404.1 401.7h0M519.5 518.5h0M429.9 395.2h0M477.4 438.0h0M511.5 423.4h0M500.8 519.3h0M483.8 456.5h0M427.0 406.5h0M555.7 478.8h0M607.3 450.1h0M419.3 438.1h0M515.7 434.2h0M597.1 453.0h0M520.7 515.2h0M497.8 522.7h0M414.5 419.7h0M599.0 433.9h0M524.0 432.2h0M554.0 469.6h0M496.8 489.9h0M582.0 438.0h0M434.7 403.3h0M518.3 439.7h0M491.6 456.4h0M596.2 468.7h0M565.5 484.4h0M399.6 410.4h0M586.2 455.1h0M527.7 484.3h0M519.8 514.5h0M535.5 489.9h0M519.6 519.4h0M552.7 485.8h0M517.5 447.5h0M481.9 460.6h0M524.0 509.4h0M545.3 495.4h0M504.1 454.5h0M561.7 490.2h0M507.0 519.5h0M598.1 466.5h0M589.4 450.9h0M460.5 446.7h0M561.6 472.9h0M487.5 511.2h0M469.3 442.3h0M492.9 474.4h0M532.6 471.6h0M555.3 487.7h0M513.2 443.8h0M500.3 506.1h0M484.1 512.3h0M501.4 467.0h0M519.3 523.4h0M587.8 468.0h0M406.0 411.1h0M410.2 408.7h0M606.1 461.2h0M453.1 446.5h0M578.2 472.6h0M475.7 469.4h0M485.9 497.3h0M529.9 482.5h0M551.3 476.6h0M566.8 476.0h0M563.4 481.9h0M493.8 475.4h0M500.9 510.8h0M529.8 447.2h0M591.0 441.2h0M581.1 440.4h0M589.2 467.9h0M408.6 402.1h0M491.5 450.7h0M520.6 436.3h0M512.1 456.7h0M579.9 474.7h0M502.7 463.7h0M474.8 432.1h0M434.5 416.4h0M574.5 473.0h0M585.5 438.2h0M569.4 449.8h0M477.1 467.2h0M475.5 460.4h0M473.3 455.4h0M599.9 460.6h0M551.6 480.8h0M403.5 415.4h0M403.4 416.7h0M552.7 489.0h0M408.1 399.5h0M478.3 438.7h0M585.5 453.0h0M481.2 468.3h0M523.6 503.1h0M401.6 428.3h0M484.7 494.7h0M515.6 508.6h0M525.6 500.6h0M547.4 473.5h0M513.9 517.1h0M592.5 446.5h0M517.1 510.2h0M527.2 514.7h0M415.2 433.4h0M536.3 447.8h0M522.3 513.9h0M460.0 444.1h0M575.5 464.3h0M508.8 444.0h0M447.2 407.8h0M525.0 433.5h0M514.3 505.8h0M495.6 454.7h0M560.4 460.2h0M493.4 456.1h0M595.5 434.4h0M496.3 442.0h0M520.7 513.1h0M496.8 471.3h0M494.5 474.2h0M580.5 467.9h0M410.3 435.0h0M588.7 436.5h0M440.1 397.3h0M552.9 483.5h0M509.5 513.8h0M555.0 481.8h0M549.9 498.3h0M599.2 431.1h0M515.4 513.2h0M525.4 492.1h0M594.8 441.5h0M594.3 472.8h0M514.2 415.1h0M519.4 511.6h0M597.2 451.1h0M408.5 434.2h0M599.2 432.3h0M429.2 397.2h0M474.1 437.4h0M567.8 465.6h0M491.9 499.8h0M466.3 443.3h0M478.3 503.3h0M532.9 485.2h0M511.2 450.9h0M520.5 500.6h0M515.7 444.7h0M498.8 500.5h0M538.3 496.2h0M465.7 442.1h0M517.0 429.7h0M538.3 477.1h0M451.2 450.4h0M591.7 428.7h0M485.6 459.2h0M416.0 409.5h0M567.2 468.8h0M603.5 433.6h0M540.2 499.4h0M515.1 453.5h0M461.2 442.0h0M507.3 451.1h0M571.3 452.6h0M505.2 446.5h0M448.3 446.0h0M455.1 454.8h0M414.3 424.9h0M523.6 509.4h0M520.8 432.5h0M492.8 450.5h0M468.6 469.6h0M464.1 446.8h0M593.5 428.9h0M418.9 407.1h0M549.6 496.8h0M581.1 466.3h0M573.3 452.7h0M477.2 466.4h0M485.3 449.2h0M478.9 460.1h0M445.4 413.3h0M592.3 472.2h0M539.2 486.1h0M488.7 474.5h0M457.2 411.5h0M535.7 491.7h0M416.9 397.2h0M541.6 491.7h0M524.2 435.4h0M588.0 458.1h0M561.1 474.2h0M518.6 429.8h0M565.5 466.5h0M425.6 440.9h0M543.2 505.5h0M542.3 493.8h0M592.8 444.5h0M479.7 456.7h0M481.7 468.1h0M586.3 462.7h0M583.0 453.5h0M536.5 496.3h0M530.5 440.8h0M592.6 463.2h0M486.5 500.4h0M604.4 461.7h0M541.2 496.6h0M525.1 432.5h0M459.5 416.0h0M511.9 458.9h0M526.7 429.7h0M579.4 464.5h0M586.1 436.1h0M549.6 476.2h0M497.6 510.8h0M528.5 475.8h0M580.6 435.4h0M596.8 457.0h0M541.0 491.7h0M493.3 474.2h0M485.4 474.8h0M523.9 485.9h0M472.8 437.1h0M474.4 469.2h0M468.0 464.5h0M495.8 481.1h0M406.9 408.2h0M460.0 413.7h0M434.9 396.8h0M595.0 454.8h0M542.9 474.8h0M565.0 482.6h0M467.3 429.5h0M471.5 458.2h0M511.0 439.2h0M488.8 453.1h0M586.1 456.7h0M497.8 451.0h0M596.2 462.5h0M512.1 466.4h0M570.6 440.9h0M525.4 512.7h0M492.5 521.8h0M567.4 481.9h0M473.2 458.3h0M484.8 464.6h0M588.4 455.3h0M539.0 488.4h0M609.7 467.3h0M496.2 443.6h0M541.8 505.3h0M579.4 442.0h0M513.8 524.7h0M424.2 420.3h0M575.4 440.9h0M527.1 495.5h0M534.8 483.8h0M512.9 467.6h0M599.1 430.2h0M469.0 462.2h0M477.6 458.8h0M496.0 448.5h0M582.5 450.6h0M497.2 500.6h0M480.3 461.6h0M563.9 497.5h0M502.2 447.7h0M435.2 401.6h0M581.1 467.2h0M523.1 487.3h0M580.8 465.6h0M531.2 486.8h0M492.2 471.8h0M516.4 412.6h0M417.4 421.3h0M524.6 492.2h0M493.3 475.6h0M516.6 508.1h0M434.5 415.2h0M516.7 413.5h0M566.9 482.2h0M505.4 469.2h0M553.0 500.9h0M517.1 517.0h0M557.6 485.3h0M519.1 427.4h0M588.6 451.7h0M530.7 476.5h0M590.6 427.9h0M440.9 401.0h0M552.5 489.0h0M523.9 507.2h0M518.0 519.5h0M534.4 450.3h0M582.8 445.8h0M493.5 476.5h0M596.1 454.3h0M525.8 484.5h0M465.3 469.6h0M504.6 525.5h0M604.1 433.6h0M471.7 456.6h0M571.2 444.3h0M578.0 470.4h0M445.9 398.6h0M599.3 454.2h0M484.8 450.5h0M415.5 405.9h0M556.8 500.2h0M568.9 473.5h0M503.3 505.8h0M433.9 405.6h0M493.9 470.4h0M420.9 398.9h0M502.7 457.2h0M559.2 465.1h0M527.7 521.3h0M474.4 440.4h0M497.4 492.2h0M520.8 464.7h0M494.7 517.8h0M500.2 464.1h0M514.5 503.0h0M529.0 426.2h0M418.7 405.2h0M476.0 433.7h0M606.8 451.0h0M565.1 491.8h0M490.1 446.0h0M521.7 453.3h0M597.3 453.0h0M505.6 466.8h0M588.4 441.4h0M530.7 490.7h0M422.8 437.4h0M572.1 450.1h0M585.8 473.2h0M415.7 399.2h0M524.4 493.7h0M427.6 398.8h0M474.7 463.6h0M490.6 492.3h0M579.7 476.0h0M410.4 422.1h0M478.1 465.3h0M518.9 515.3h0M412.7 436.5h0M518.6 513.2h0M512.0 447.5h0M459.6 446.4h0M399.1 434.7h0M520.2 432.0h0M503.8 450.2h0M422.8 406.1h0M597.3 453.1h0M522.3 512.8h0M508.8 451.5h0M580.8 450.2h0M441.0 410.1h0M412.2 438.7h0M527.8 489.5h0M446.8 407.8h0M498.4 519.4h0M578.0 466.4h0M525.9 519.0h0M529.6 493.9h0M471.7 455.3h0M454.5 443.8h0M530.6 444.7h0M519.3 415.4h0M565.2 467.3h0M480.9 464.3h0M536.8 473.5h0M489.3 522.7h0M575.7 471.2h0M517.0 418.9h0M403.6 436.6h0M455.7 448.9h0M500.1 496.7h0M503.1 506.8h0M485.1 449.7h0M457.1 444.8h0M490.9 471.5h0M588.6 469.7h0M515.6 434.2h0M422.8 419.3h0M406.9 403.0h0M493.0 505.0h0M428.1 401.1h0M443.9 445.3h0M567.8 487.8h0M605.7 457.3h0M499.9 496.3h0M550.2 475.5h0M572.2 474.1h0M515.4 425.7h0M469.4 453.7h0M483.9 468.0h0M416.6 414.3h0M503.4 513.0h0M606.2 436.5h0M560.8 478.0h0M510.2 514.6h0M534.9 446.8h0M503.9 506.6h0M416.3 402.5h0M481.7 445.7h0M535.1 442.8h0M517.7 467.8h0M529.3 442.7h0M487.0 474.3h0M482.9 459.9h0M491.0 500.7h0M431.5 396.0h0M558.1 501.2h0M501.3 443.7h0M606.1 457.6h0M417.8 399.5h0M416.3 417.3h0M526.3 480.8h0M547.5 473.4h0M483.0 496.7h0M412.8 420.3h0M534.7 439.5h0M610.7 461.8h0M485.4 470.9h0M576.5 473.4h0M559.7 494.0h0M483.3 507.3h0M581.1 466.3h0M610.0 455.0h0M532.5 498.0h0M523.7 435.4h0M551.4 477.6h0M541.7 488.9h0M403.0 418.5h0M428.2 406.4h0M496.1 456.2h0M430.6 443.6h0M583.0 449.5h0M503.0 522.8h0M487.2 502.3h0M495.3 466.9h0M413.0 402.1h0M505.4 460.6h0M519.6 430.8h0M529.8 518.3h0M523.5 506.7h0M605.7 460.6h0M586.6 461.9h0M610.6 443.8h0M499.1 471.8h0M491.0 460.7h0M435.5 525.8h0M453.6 525.5h0M492.1 536.0h0M447.1 530.6h0M469.0 536.2h0M446.3 562.4h0M483.9 526.5h0M477.6 528.2h0M449.1 560.6h0M489.5 535.5h0M453.2 557.3h0M476.5 544.6h0M478.2 545.5h0M479.8 557.6h0M490.3 550.3h0M455.9 520.8h0M461.8 542.2h0M430.6 548.1h0M438.0 536.9h0M482.1 558.5h0M489.1 555.2h0M479.1 522.0h0M432.4 537.5h0M469.9 521.9h0M479.7 559.1h0M449.1 557.1h0M465.5 540.0h0M465.2 535.2h0M421.5 551.7h0M486.8 531.2h0M490.8 540.6h0M438.2 537.2h0M430.3 548.4h0M491.1 531.7h0M461.1 536.0h0M456.9 557.4h0M473.8 528.3h0M490.5 536.3h0M428.6 542.3h0M448.0 522.5h0M427.1 540.9h0M446.6 527.3h0M454.1 559.1h0M438.6 543.9h0M461.6 547.7h0M445.3 547.3h0M448.1 547.7h0M482.4 558.0h0M463.4 542.7h0M472.8 532.9h0M471.0 537.8h0M439.1 534.3h0M462.8 538.6h0M437.6 542.0h0M470.6 548.6h0M447.3 546.3h0M456.6 521.7h0M492.8 534.5h0M490.2 538.8h0M496.2 559.0h0M431.7 535.6h0M448.4 524.1h0M474.8 543.6h0M455.4 556.7h0M457.1 535.8h0M463.5 544.6h0M480.5 533.5h0M487.6 550.6h0M466.0 547.6h0M492.8 548.3h0M488.6 548.5h0M439.9 525.9h0M423.9 544.5h0M495.2 559.4h0M457.1 557.4h0M485.5 523.2h0M464.1 535.5h0M483.4 558.6h0M469.1 521.3h0M492.0 560.3h0M445.3 534.7h0M490.9 530.6h0M439.8 565.9h0M467.4 554.8h0M472.8 513.6h0M489.6 534.3h0M442.5 528.3h0M453.4 535.4h0M456.2 534.7h0M459.3 521.8h0M456.5 542.3h0M470.6 532.4h0M489.4 547.9h0M460.9 522.7h0M459.9 560.5h0M422.4 552.9h0M483.5 542.5h0M447.4 536.6h0M443.6 564.5h0M454.1 530.0h0M494.9 544.4h0M492.8 543.9h0M453.2 535.5h0M483.1 557.5h0M437.1 562.6h0M476.7 546.7h0M451.1 539.9h0M480.1 525.6h0M454.1 532.2h0M466.7 518.5h0M452.1 562.8h0M491.3 544.5h0M488.4 542.1h0M423.0 551.1h0M467.1 534.2h0M456.3 531.2h0M428.5 539.4h0M477.2 538.4h0M479.1 521.7h0M457.3 561.1h0M458.2 527.7h0M465.0 545.8h0M450.6 559.6h0M471.5 522.0h0M488.1 520.1h0M455.8 531.9h0M483.1 542.4h0M451.3 532.0h0M455.1 537.6h0M445.0 546.9h0M473.1 540.0h0M486.6 525.8h0M449.6 534.0h0M455.4 522.5h0M453.6 541.4h0M433.9 550.4h0M452.9 531.5h0M423.9 546.1h0M455.7 535.4h0M493.3 556.8h0M457.0 541.6h0M492.7 541.7h0M432.9 539.1h0M470.2 521.8h0M434.0 529.1h0M439.5 537.2h0M472.7 535.3h0M451.2 528.5h0M440.1 541.0h0M491.1 546.1h0M448.5 527.8h0M456.9 520.8h0M492.3 553.1h0M487.6 552.5h0M432.2 547.5h0M433.4 561.0h0M437.8 523.9h0M443.1 529.2h0M469.5 519.3h0M485.5 528.6h0M426.1 541.2h0M491.8 559.9h0M492.0 542.1h0M467.8 518.7h0M493.6 548.5h0M493.8 552.2h0M430.8 536.0h0M421.2 547.5h0M431.6 526.9h0M427.7 542.7h0M471.1 543.1h0M452.0 539.6h0M436.5 564.3h0M459.0 529.8h0M481.9 526.6h0M438.4 544.0h0M436.4 534.6h0M482.1 525.7h0M438.5 534.4h0M453.0 543.4h0M482.9 526.7h0M441.6 524.6h0M453.7 521.9h0M492.7 527.1h0M479.1 544.2h0M436.6 563.0h0M476.3 513.0h0M430.9 537.5h0M479.4 555.0h0M455.4 525.9h0M454.7 542.3h0M449.1 546.1h0M490.7 523.6h0M481.8 532.2h0M492.4 557.6h0M469.3 558.4h0M468.8 550.8h0M449.2 548.1h0M457.3 539.3h0M460.5 536.0h0M490.9 547.9h0M467.7 519.6h0M446.7 534.0h0M430.6 549.6h0M426.8 542.1h0M463.3 534.3h0M485.7 543.9h0M463.8 543.3h0M435.1 527.5h0M463.8 553.1h0M431.3 544.3h0M464.0 549.5h0M450.1 549.9h0M492.0 525.0h0M437.6 545.1h0M491.9 553.0h0M474.1 522.2h0M456.2 528.3h0M438.5 537.5h0M458.8 544.2h0M458.7 535.5h0M438.5 524.7h0M429.1 553.8h0M493.4 547.5h0M449.9 549.2h0M460.1 547.6h0M450.8 562.8h0M481.2 557.0h0M490.6 525.9h0M485.8 531.1h0M458.8 527.6h0M463.2 547.6h0M473.6 549.1h0M444.7 530.2h0M492.3 527.8h0M428.2 562.1h0M488.3 522.9h0M423.5 550.9h0M466.4 520.6h0M432.5 553.8h0M476.2 545.8h0M457.9 521.4h0M435.0 540.5h0M448.8 538.9h0M422.2 556.9h0M472.7 531.1h0M432.9 553.5h0M464.7 517.7h0M431.0 542.4h0M487.6 518.2h0M454.6 558.4h0M442.3 523.3h0M427.9 545.8h0M494.7 550.3h0M477.6 554.5h0M490.6 541.5h0M680.2 205.5h0M739.7 232.5h0M784.9 240.7h0M721.4 222.5h0M727.6 199.6h0M747.7 211.5h0M680.9 237.2h0M789.4 243.9h0M712.8 204.2h0M759.0 216.7h0M776.1 264.0h0M750.4 205.3h0M792.7 235.3h0M746.8 212.0h0M738.0 200.3h0M720.1 233.5h0M740.1 202.7h0M760.0 218.7h0M780.3 237.2h0M733.6 217.2h0M761.1 253.2h0M735.9 210.1h0M812.7 278.8h0M793.3 234.9h0M758.7 242.6h0M808.5 287.3h0M670.4 239.4h0M785.7 249.8h0M756.4 225.7h0M666.2 240.6h0M797.5 232.9h0M756.5 253.5h0M710.4 196.4h0M792.0 242.8h0M758.0 248.7h0M694.4 229.8h0M793.3 284.5h0M793.2 285.6h0M812.9 293.5h0M797.9 241.0h0M820.6 287.7h0M726.8 207.8h0M723.9 235.1h0M745.8 204.3h0M740.2 231.1h0M766.6 243.1h0M752.0 228.8h0M719.4 203.8h0M713.4 234.1h0M724.6 205.5h0M805.9 273.0h0M720.3 229.9h0M717.6 229.9h0M751.4 242.1h0M741.0 229.0h0M768.4 248.6h0M789.7 286.3h0M743.4 235.9h0M743.1 235.8h0M759.7 230.1h0M775.4 245.4h0M740.5 217.3h0M692.7 232.3h0M794.3 240.7h0M763.7 219.0h0M680.0 230.5h0M763.5 245.2h0M771.9 267.2h0M732.8 231.6h0M746.2 240.9h0M719.2 234.2h0M769.8 230.5h0M722.8 227.4h0M802.2 241.6h0M677.0 197.7h0M742.6 214.5h0M814.6 289.6h0M792.2 233.9h0M796.2 233.9h0M753.9 228.2h0M673.0 237.9h0M720.8 232.6h0M735.3 219.1h0M755.8 246.2h0M696.4 196.5h0M746.7 229.3h0M797.8 240.2h0M781.9 276.9h0M704.0 227.2h0M703.6 197.1h0M755.2 229.9h0M736.8 225.5h0M814.4 269.3h0M678.4 195.9h0M796.0 274.1h0M755.1 231.0h0M747.3 244.3h0M690.7 235.2h0M681.3 200.9h0M759.4 217.2h0M740.4 212.7h0M795.7 278.6h0M823.8 282.9h0M747.5 241.1h0M725.2 236.8h0M717.1 226.0h0M798.7 244.4h0M705.0 195.6h0M764.0 253.4h0M784.9 250.1h0M715.0 224.5h0M723.6 209.1h0M790.8 275.4h0M779.0 237.6h0M777.2 231.2h0M726.8 238.2h0M663.7 238.6h0M774.7 257.7h0M797.8 284.4h0M779.5 263.2h0M752.8 224.7h0M753.0 221.2h0M778.3 243.2h0M766.3 230.3h0M739.8 217.0h0M810.8 287.8h0M681.4 219.4h0M797.9 269.6h0M757.5 248.2h0M774.1 263.2h0M722.7 237.8h0M809.1 276.4h0M759.9 218.3h0M823.0 280.5h0M677.1 238.8h0M766.2 216.0h0M726.1 221.0h0M708.4 231.5h0M728.2 213.9h0M764.5 221.5h0M682.8 220.0h0M735.0 237.1h0M800.9 277.7h0M796.6 246.9h0M789.4 234.3h0M787.0 280.8h0M741.2 233.8h0M728.1 219.8h0M756.4 240.0h0M767.7 229.9h0M726.4 222.4h0M815.2 278.6h0M819.8 271.0h0M783.4 224.9h0M780.4 270.7h0M733.2 221.2h0M796.9 253.6h0M676.5 233.0h0M793.9 236.0h0M749.2 215.1h0M766.9 239.5h0M710.1 202.1h0M775.4 260.3h0M781.9 275.7h0M820.6 272.1h0M784.2 227.5h0M795.9 243.9h0M735.2 222.2h0M794.0 232.9h0M723.4 236.6h0M768.9 217.4h0M758.3 210.5h0M702.3 195.4h0M728.2 238.9h0M735.0 206.7h0M814.8 275.7h0M730.2 200.9h0M796.4 280.6h0M681.5 232.1h0M781.1 260.5h0M800.7 239.1h0M726.5 227.8h0M770.4 260.4h0M717.9 200.9h0M765.7 226.7h0M703.3 197.8h0M803.2 289.4h0M742.8 237.0h0M790.6 240.1h0M772.1 247.2h0M776.7 221.9h0M772.1 257.8h0M776.7 269.3h0M682.6 233.1h0M789.6 289.6h0M787.4 278.6h0M784.0 272.1h0M801.3 284.6h0M755.5 238.1h0M677.6 206.4h0M743.9 234.0h0M802.1 256.2h0M799.3 240.9h0M725.2 212.3h0M759.5 225.6h0M808.3 278.6h0M788.5 230.9h0M826.0 287.5h0M744.7 238.5h0M766.4 226.4h0M781.5 274.9h0M797.6 258.9h0M801.1 235.0h0M721.4 228.2h0M777.8 257.1h0M736.0 208.5h0M757.4 231.3h0M749.7 233.8h0M706.6 222.8h0M746.4 243.4h0M826.1 283.0h0M762.2 219.2h0M820.4 291.0h0M743.7 237.9h0M723.9 202.6h0M703.8 230.7h0M734.6 232.5h0M730.4 209.9h0M738.9 209.8h0M710.1 235.2h0M801.3 286.3h0M779.2 257.4h0M779.8 233.4h0M726.0 207.3h0M781.6 229.8h0M718.2 227.0h0M759.1 229.4h0M704.8 228.2h0M772.0 234.1h0M731.5 230.5h0M700.6 196.7h0M756.1 243.0h0M775.3 250.7h0M710.7 234.4h0M790.8 268.6h0M728.5 229.6h0M804.9 279.6h0M740.7 228.8h0M675.6 221.6h0M763.7 220.7h0M716.0 226.1h0M715.5 207.3h0M677.5 214.1h0M744.1 215.9h0M783.7 240.1h0M779.0 271.4h0M767.2 229.7h0M746.4 227.1h0M789.0 228.6h0M717.5 230.4h0M804.5 288.5h0M736.1 208.8h0M727.9 220.7h0M716.4 229.8h0M784.5 232.1h0M794.1 264.8h0M775.9 260.7h0M721.3 219.3h0M782.0 274.4h0M724.8 230.0h0M748.9 245.2h0M761.4 248.8h0M771.7 254.6h0M716.2 236.0h0M719.7 206.1h0M754.1 209.7h0M677.7 234.6h0M720.1 236.9h0M749.5 205.9h0M731.2 201.7h0M795.6 242.2h0M759.4 243.1h0M661.2 235.5h0M730.8 218.1h0M738.1 204.2h0M786.5 268.8h0M765.2 242.6h0M712.0 235.5h0M734.2 209.6h0M788.0 233.4h0M708.3 199.1h0M732.3 221.1h0M777.8 230.6h0M789.8 280.9h0M784.6 248.1h0M754.3 236.8h0M673.1 231.3h0M779.1 224.1h0M708.0 196.6h0M770.1 230.1h0M675.4 238.6h0M730.1 201.0h0M707.5 228.7h0M690.4 234.8h0M734.3 224.6h0M762.8 217.0h0M748.6 229.3h0M722.2 198.9h0M792.5 230.8h0M816.6 276.6h0M754.7 216.3h0M737.5 218.1h0M748.4 234.1h0M816.9 293.7h0M762.3 252.5h0M812.1 273.2h0M775.4 236.4h0M748.6 220.5h0M799.5 264.3h0M753.0 210.1h0M777.2 243.2h0M724.8 237.0h0M805.2 243.3h0M684.8 240.8h0M733.5 231.0h0M808.9 283.7h0M681.8 218.5h0M797.5 250.6h0M746.6 222.2h0M727.1 238.8h0M672.0 239.9h0M725.8 215.3h0M778.5 262.4h0M789.9 235.9h0M757.1 230.5h0M799.1 272.6h0M783.8 266.1h0M675.1 218.9h0M731.7 203.6h0M682.4 226.2h0M825.1 280.2h0M737.4 220.6h0M781.5 240.9h0M824.9 287.4h0M758.9 229.0h0M681.1 222.7h0M733.0 210.9h0M730.3 218.7h0M753.6 224.7h0M794.6 263.9h0M770.9 267.0h0M747.0 240.4h0M780.7 236.0h0M784.9 265.8h0M788.1 227.5h0M778.8 227.8h0M719.1 226.5h0M790.6 272.3h0M683.2 235.5h0M815.5 285.6h0M722.1 236.8h0M782.9 285.6h0M806.6 242.0h0M812.2 287.7h0M781.2 271.7h0M786.0 263.9h0M730.4 226.0h0M755.0 246.5h0M730.4 215.3h0M794.8 263.3h0M716.8 196.5h0M815.0 276.6h0M754.5 234.5h0M728.4 236.3h0M782.0 225.7h0M796.4 258.4h0M759.5 234.9h0M746.4 232.2h0M787.5 246.8h0M759.6 242.8h0M775.8 257.2h0M743.9 219.2h0M745.0 230.3h0M785.2 227.6h0M757.6 216.8h0M679.3 232.5h0M815.6 268.1h0M661.4 236.1h0M781.6 269.1h0M715.7 235.1h0M727.8 206.2h0M804.1 270.7h0M748.2 205.6h0M725.0 228.2h0M725.6 229.1h0M759.4 238.2h0M782.9 243.3h0M724.7 230.5h0M820.9 284.4h0M786.9 269.5h0M782.5 274.0h0M738.7 215.4h0M784.4 271.4h0M769.7 247.9h0M751.4 211.4h0M762.3 212.1h0M780.9 246.4h0M761.1 232.8h0M805.5 295.5h0M705.9 238.2h0M721.3 217.6h0M678.4 224.0h0M801.1 265.8h0M715.6 203.8h0M767.9 238.4h0M766.7 234.6h0M787.9 274.8h0M813.7 280.4h0M815.6 278.1h0M749.1 215.1h0M729.7 208.6h0M792.9 236.6h0M743.4 200.8h0M756.0 240.5h0M710.2 226.2h0M762.0 221.3h0M742.5 239.7h0M766.2 259.4h0M725.5 226.6h0M732.1 205.2h0M784.2 266.9h0M782.1 267.7h0M729.8 231.0h0M770.6 248.4h0M773.5 219.1h0M800.6 286.9h0M822.5 272.5h0M808.5 289.9h0M810.6 267.5h0M723.2 216.8h0M679.8 233.9h0M697.3 229.2h0M662.4 237.8h0M777.0 254.8h0M724.1 227.9h0M718.8 235.6h0M815.6 280.6h0M770.9 267.1h0M788.4 235.6h0M776.2 244.9h0M747.3 246.0h0M758.8 226.1h0M772.3 270.0h0M806.2 281.3h0M767.2 221.9h0M826.1 286.2h0M787.4 283.7h0M725.5 217.7h0M687.8 234.2h0M814.4 289.6h0M811.1 289.3h0M677.5 211.9h0M751.8 232.5h0M780.8 272.7h0M731.2 206.8h0M770.7 263.8h0M693.2 237.8h0M755.8 239.4h0M723.1 227.2h0M733.3 209.3h0M765.1 239.2h0M674.1 228.1h0M797.7 259.9h0M777.4 230.0h0M790.5 266.9h0M786.4 239.8h0M721.8 226.1h0M770.7 255.9h0M769.0 218.9h0M802.6 293.0h0M709.4 235.3h0M805.9 290.0h0M783.2 238.9h0M804.0 282.0h0M802.2 273.0h0M782.1 248.1h0M763.1 256.6h0M754.7 210.7h0M768.9 242.5h0M754.3 231.6h0M780.9 258.2h0M750.9 214.4h0M792.6 281.5h0M817.7 272.0h0M796.3 265.6h0M752.1 242.3h0M741.8 217.9h0M680.0 206.3h0M774.7 241.2h0M787.6 237.8h0M769.8 267.9h0M797.4 288.2h0M693.1 238.6h0M712.3 232.1h0M757.3 223.5h0M791.1 239.5h0M766.4 221.8h0M767.9 234.3h0M748.2 243.7h0M809.5 270.1h0M660.4 239.8h0M680.4 240.2h0M777.4 222.6h0M791.1 242.0h0M808.0 274.0h0M807.1 292.4h0M722.9 230.0h0M749.7 244.7h0M726.1 219.1h0M767.1 224.7h0M781.1 222.7h0M795.4 244.2h0M765.4 242.8h0M722.6 227.1h0M722.6 204.4h0M771.3 250.5h0M672.9 230.9h0M805.6 297.6h0M797.0 271.8h0M722.7 234.7h0M764.1 218.9h0M742.1 231.6h0M727.6 235.2h0M775.6 241.0h0M798.7 247.3h0M741.6 203.8h0M738.3 217.2h0M687.9 230.7h0M690.7 238.1h0M789.4 268.6h0M788.7 277.4h0M718.1 227.8h0M763.0 234.9h0M745.4 209.0h0M733.9 221.1h0M719.1 198.2h0M726.9 203.7h0M772.6 255.2h0M818.6 287.0h0M676.8 240.2h0M773.6 256.1h0M813.5 268.4h0M800.6 239.0h0M715.1 230.0h0M781.3 266.1h0M747.0 240.9h0M737.8 217.7h0M711.0 232.5h0M804.5 277.7h0M731.8 226.9h0M806.0 239.2h0M768.8 230.5h0M682.8 236.7h0M780.8 233.9h0M745.1 240.4h0M758.9 243.3h0M697.7 196.3h0M679.9 198.7h0M820.8 289.6h0M732.0 205.3h0M721.2 228.9h0M764.5 228.4h0M799.1 279.2h0M792.0 262.7h0M777.5 244.8h0M786.6 276.0h0M802.1 238.2h0M690.2 231.4h0M774.6 242.8h0M677.1 226.2h0M763.7 223.6h0M782.3 240.6h0M761.3 225.4h0M753.9 248.1h0M730.3 216.9h0M751.9 210.8h0M761.8 227.9h0M768.3 229.1h0M769.1 254.3h0M797.8 240.6h0M747.4 217.4h0M694.8 232.5h0M695.3 230.1h0M735.5 212.5h0M714.8 201.7h0M780.6 240.3h0M728.1 228.0h0M722.4 198.3h0M750.5 223.5h0M734.0 204.4h0M793.5 249.4h0M769.0 256.9h0M755.8 220.1h0M718.4 227.8h0M704.2 234.4h0M754.4 243.1h0M812.8 293.2h0M782.5 274.0h0M794.5 240.9h0M797.1 290.0h0M799.2 253.2h0M732.7 218.8h0M719.4 202.1h0M746.3 216.2h0M713.4 202.9h0M796.0 249.6h0M769.7 239.0h0M762.9 238.4h0M812.5 278.2h0M676.8 208.4h0M695.5 194.8h0M732.8 238.6h0M724.8 213.7h0M737.1 231.6h0M785.9 232.1h0M713.4 234.3h0M740.6 219.0h0M774.7 220.3h0M734.7 224.4h0M738.9 204.9h0M801.4 267.5h0M810.4 282.3h0M776.0 268.7h0M717.7 204.1h0M786.7 258.8h0M678.7 228.6h0M785.0 273.6h0M702.9 237.5h0M729.7 226.9h0M814.4 287.0h0M774.9 220.4h0M724.9 200.4h0M803.0 273.8h0M713.4 205.2h0M814.2 296.8h0M714.9 227.7h0M720.1 208.2h0M781.7 264.0h0M763.0 251.6h0M758.7 224.1h0M721.8 199.1h0M723.3 202.7h0M726.8 219.5h0M813.6 271.9h0M761.3 225.3h0M722.8 211.2h0M740.4 206.5h0M820.7 283.4h0M789.8 279.2h0M825.0 283.8h0M792.0 276.6h0M774.9 268.1h0M672.1 238.3h0M778.0 238.9h0M807.5 295.8h0M775.1 268.2h0M806.3 286.4h0M762.2 252.5h0M764.5 224.6h0M792.2 249.1h0M794.1 275.2h0M783.8 254.0h0M774.1 237.3h0M809.1 272.0h0M797.6 271.1h0M793.4 271.9h0M755.7 232.1h0M763.0 235.7h0M760.3 216.7h0M678.8 239.2h0M761.0 252.6h0M708.2 227.4h0M720.3 231.3h0M791.9 229.7h0M676.2 216.2h0M768.9 232.0h0M796.2 287.7h0M815.7 286.7h0M789.3 283.1h0M783.2 228.7h0M765.2 219.8h0" stroke="#d3d3d3" stroke-width="5.5" stroke-linecap="round" fill="none"/>
<path d="M660.0 119.4h0M661.3 117.6h0M664.4 116.4h0M666.7 114.9h0M670.0 114.5h0M673.0 115.1h0M676.3 114.6h0M679.5 114.1h0M682.2 114.0h0M685.5 114.4h0M688.8 115.1h0M692.0 115.8h0M695.2 115.7h0M698.2 117.3h0M701.5 117.8h0M704.9 118.5h0M708.2 118.5h0M711.5 119.1h0M714.4 120.4h0M717.9 120.0h0M720.3 122.2h0M723.6 122.9h0M726.0 124.3h0M728.5 125.6h0M730.5 128.2h0M732.7 130.7h0M734.2 133.2h0M736.3 135.7h0M737.7 138.4h0M739.2 141.3h0M740.7 143.9h0M741.7 146.6h0M743.4 149.6h0M743.1 152.7h0M744.6 155.7h0M744.3 159.0h0M744.7 162.3h0M744.1 165.7h0M745.2 169.6h0M746.3 172.8h0M747.1 175.7h0M746.3 176.0h0M744.4 178.6h0M745.7 184.6h0M748.8 185.8h0M750.2 188.3h0M753.2 190.2h0M755.4 192.7h0M757.9 195.6h0M761.0 196.8h0M764.0 198.7h0M766.9 200.2h0M769.8 202.1h0M773.1 202.8h0M776.4 203.9h0M779.0 206.2h0M782.3 206.9h0M785.4 207.9h0M788.7 208.6h0M791.6 210.6h0M794.7 211.7h0M797.9 212.9h0M801.1 213.8h0M804.5 213.8h0M807.7 215.5h0M811.1 215.5h0M814.9 216.1h0M818.2 215.5h0M821.6 215.2h0M824.3 215.0h0M827.4 216.3h0M830.3 216.8h0M830.5 216.2h0M829.1 218.9h0M828.9 222.0h0M826.8 224.5h0M825.8 227.6h0M823.5 230.0h0M821.7 232.8h0M820.5 235.7h0M818.0 237.6h0M816.7 240.3h0M814.1 241.6h0M811.4 242.2h0M808.4 244.1h0M803.9 245.6h0M801.8 248.8h0M800.4 251.4h0M801.1 256.9h0M804.0 258.5h0M804.1 257.0h0M799.8 258.8h0M799.7 263.3h0M802.2 268.6h0M806.7 268.8h0M810.4 268.9h0M813.8 267.6h0M816.3 266.8h0M818.4 266.6h0M821.1 267.7h0M823.6 269.9h0M824.1 271.8h0M826.9 276.1h0M830.3 277.5h0M832.9 278.5h0M836.4 278.8h0M838.9 280.7h0M840.6 283.0h0M842.0 284.7h0M841.7 286.3h0M841.1 289.2h0M839.3 292.0h0M838.2 295.3h0M836.6 297.2h0M835.0 299.8h0M831.7 300.8h0M830.1 301.0h0M826.6 301.6h0M822.3 305.5h0M822.3 308.9h0M822.4 312.2h0M821.7 311.1h0M819.6 311.6h0M817.3 310.0h0M817.2 307.1h0M812.5 304.9h0M808.3 306.1h0M805.8 309.3h0M803.7 312.3h0M803.0 316.0h0M802.3 319.3h0M801.0 320.3h0M800.0 321.1h0M797.2 319.8h0M794.0 317.9h0M790.8 317.1h0M787.8 316.7h0M786.8 314.9h0M784.8 312.3h0M780.9 310.1h0M777.9 308.8h0M775.8 307.8h0M774.5 305.0h0M772.8 301.7h0M772.3 301.9h0M772.7 298.4h0M773.1 293.2h0M770.6 290.5h0M771.2 291.0h0M771.9 287.7h0M769.1 283.2h0M766.9 280.6h0M767.8 281.3h0M767.5 281.8h0M768.7 284.9h0M772.1 286.8h0M776.2 288.4h0M780.2 288.1h0M783.6 286.9h0M786.7 284.0h0M785.5 277.7h0M782.4 275.7h0M781.6 274.2h0M779.1 271.6h0M774.2 269.9h0M772.6 270.6h0M770.5 268.9h0M770.0 267.0h0M769.0 263.7h0M766.9 259.8h0M763.5 257.8h0M757.8 258.6h0M760.6 260.7h0M758.4 258.2h0M757.0 256.0h0M755.4 256.0h0M757.9 254.2h0M756.3 248.7h0M753.1 247.0h0M749.8 247.2h0M748.3 246.7h0M746.5 243.8h0M743.8 240.9h0M739.2 238.8h0M736.1 240.2h0M732.7 241.3h0M729.9 241.9h0M727.3 242.8h0M727.2 242.6h0M725.9 239.6h0M721.2 236.9h0M717.9 236.8h0M714.6 236.1h0M710.9 236.1h0M706.4 236.2h0M702.9 239.4h0M702.0 245.0h0M703.8 247.5h0M705.8 250.2h0M704.6 250.6h0M702.3 251.7h0M703.0 252.3h0M700.5 254.9h0M699.1 254.8h0M696.5 256.2h0M694.6 259.0h0M694.8 258.3h0M693.9 255.7h0M690.0 253.7h0M686.8 251.6h0M683.8 250.1h0M679.2 252.2h0M676.1 253.7h0M673.7 256.0h0M673.0 253.7h0M670.3 252.8h0M666.5 251.7h0M663.1 251.2h0M660.1 249.4h0M657.5 248.6h0M654.3 247.6h0M650.4 247.2h0M647.2 246.4h0M644.1 246.5h0M641.2 244.7h0M641.5 244.1h0M641.7 242.6h0M641.2 243.2h0M644.4 243.5h0M647.5 244.4h0M652.1 242.4h0M655.3 240.6h0M657.3 240.7h0M660.5 239.0h0M663.7 238.4h0M667.4 235.8h0M669.4 232.5h0M670.7 229.4h0M673.2 226.9h0M674.8 223.5h0M675.1 220.2h0M676.8 216.2h0M676.1 212.9h0M676.2 209.4h0M675.2 206.2h0M676.1 203.7h0M676.4 200.3h0M676.5 196.9h0M675.3 192.8h0M674.1 189.2h0M671.2 187.3h0M670.8 184.9h0M670.7 181.7h0M669.1 178.1h0M667.3 175.2h0M666.1 172.3h0M664.3 169.5h0M663.9 166.2h0M662.9 163.3h0M662.2 160.1h0M660.8 157.2h0M660.2 154.0h0M660.3 151.6h0M661.1 148.6h0M660.6 144.5h0M659.4 141.3h0M660.1 138.6h0M660.4 135.3h0M660.1 131.5h0M659.6 128.2h0M660.1 124.8h0M660.0 121.8h0M661.1 119.6h0M716.9 266.0h0M719.7 268.1h0M722.9 268.9h0M726.3 269.6h0M729.2 271.2h0M732.6 272.5h0M736.1 274.7h0M738.4 277.1h0M740.4 279.7h0M742.7 282.0h0M741.1 282.4h0M742.9 279.9h0M745.4 277.5h0M747.1 274.7h0M748.6 271.8h0M750.6 268.3h0M752.4 268.5h0M752.0 267.1h0M751.2 268.1h0M748.0 268.6h0M745.5 270.9h0M742.1 271.9h0M738.6 273.3h0M734.6 272.8h0M731.1 273.5h0M727.8 272.1h0M724.7 270.8h0M721.5 270.3h0M718.4 269.0h0M717.9 269.1h0M520.8 237.5h0M523.7 236.8h0M526.9 236.1h0M530.4 234.3h0M532.8 231.9h0M535.3 228.4h0M536.8 225.4h0M537.9 222.1h0M538.0 218.7h0M539.8 216.1h0M540.6 213.9h0M542.9 211.4h0M544.0 210.8h0M546.9 211.5h0M550.4 210.8h0M553.4 211.1h0M556.3 211.2h0M559.7 211.1h0M562.7 212.0h0M565.8 212.9h0M566.9 214.6h0M569.1 217.3h0M573.4 219.8h0M576.5 220.7h0M580.2 220.3h0M583.4 221.6h0M587.1 220.6h0M590.2 220.3h0M593.5 220.8h0M593.4 222.8h0M595.1 225.2h0M598.1 228.4h0M601.0 230.5h0M604.2 231.6h0M606.7 233.8h0M610.1 234.9h0M612.7 237.0h0M616.0 238.5h0M619.2 239.3h0M622.4 240.7h0M625.7 241.3h0M629.2 242.3h0M632.6 242.1h0M635.8 243.1h0M638.4 243.9h0M641.6 245.0h0M645.3 245.0h0M650.1 244.3h0M653.4 242.8h0M655.1 239.5h0M656.2 237.7h0M659.3 236.6h0M662.3 235.2h0M666.2 232.9h0M667.5 229.8h0M668.9 227.8h0M667.8 225.4h0M667.7 228.8h0M668.0 232.0h0M668.7 235.3h0M667.9 238.7h0M669.0 241.7h0M668.6 245.0h0M668.6 248.3h0M668.2 251.6h0M667.4 254.8h0M669.0 253.9h0M666.1 252.2h0M662.2 250.1h0M659.0 249.0h0M656.4 248.7h0M653.2 247.8h0M650.1 246.3h0M646.2 246.1h0M642.9 246.1h0M639.7 244.7h0M636.6 244.4h0M633.2 244.5h0M629.9 242.8h0M626.5 243.4h0M623.1 243.5h0M620.0 242.2h0M616.7 242.0h0M613.2 242.2h0M609.2 242.3h0M605.8 242.7h0M602.5 243.9h0M599.8 244.9h0M596.7 245.2h0M593.6 246.8h0M590.4 247.5h0M587.0 247.3h0M583.8 248.2h0M580.7 249.4h0M577.5 249.4h0M574.3 249.6h0M571.0 249.2h0M568.0 249.9h0M564.6 249.1h0M561.2 249.5h0M557.1 249.8h0M553.7 250.8h0M551.1 253.0h0M548.3 254.4h0M545.6 255.1h0M543.3 255.7h0M540.8 255.2h0M539.8 253.6h0M537.9 251.5h0M538.1 249.5h0M538.2 245.7h0M537.9 240.9h0M535.3 238.7h0M533.1 235.5h0M527.6 234.1h0M523.8 236.1h0M522.1 238.2h0M522.2 237.8h0M536.0 323.8h0M538.1 321.3h0M540.7 318.5h0M542.4 315.7h0M543.4 312.5h0M545.6 310.3h0M545.4 310.5h0M548.7 310.4h0M553.1 310.5h0M553.3 310.2h0M553.5 311.0h0M553.2 314.0h0M551.1 316.8h0M550.4 317.4h0M547.6 318.8h0M543.9 319.8h0M541.3 321.8h0M538.7 323.3h0M537.6 322.7h0M479.7 351.9h0M480.8 349.8h0M482.7 350.1h0M486.0 349.9h0M489.7 347.0h0M492.4 344.8h0M494.9 344.3h0M494.9 344.4h0M495.8 346.2h0M495.0 347.6h0M493.4 350.4h0M494.4 355.0h0M494.4 358.3h0M493.2 360.8h0M492.9 363.8h0M491.5 366.8h0M491.2 367.6h0M489.0 367.9h0M489.3 366.0h0M487.2 363.8h0M484.9 360.8h0M482.7 358.3h0M480.5 356.0h0M479.4 353.8h0M479.9 351.4h0M495.7 376.6h0M496.9 375.8h0M498.2 375.2h0M500.1 377.5h0M501.0 380.7h0M502.5 383.7h0M504.4 386.4h0M505.9 389.3h0M507.2 392.3h0M507.9 395.6h0M509.9 398.3h0M510.3 401.7h0M512.5 404.4h0M512.6 407.3h0M513.2 406.1h0M511.9 406.6h0M510.9 405.5h0M509.2 403.0h0M507.7 400.0h0M506.7 396.8h0M505.1 394.0h0M504.9 390.4h0M503.7 387.4h0M501.3 384.6h0M499.9 381.6h0M498.1 378.8h0M496.7 376.0h0M391.6 383.5h0M393.5 382.7h0M396.1 383.5h0M398.8 385.5h0M401.9 386.7h0M405.1 388.4h0M408.2 389.7h0M411.8 389.6h0M414.9 390.6h0M417.4 392.8h0M420.6 393.9h0M424.3 393.8h0M427.0 395.9h0M431.0 396.2h0M434.7 396.4h0M437.9 395.8h0M441.1 395.1h0M444.7 395.0h0M448.5 394.0h0M451.7 392.2h0M454.9 391.1h0M457.5 388.9h0M459.5 386.6h0M459.5 385.6h0M459.2 386.8h0M457.7 389.2h0M455.6 391.4h0M453.0 393.2h0M450.6 394.4h0M447.1 395.5h0M446.6 401.7h0M446.5 402.1h0M445.0 401.2h0M441.2 401.7h0M436.9 402.6h0M434.0 404.8h0M430.9 407.8h0M432.4 409.5h0M429.3 408.0h0M424.4 408.9h0M421.4 412.1h0M424.4 417.3h0M426.4 418.4h0M428.7 420.8h0M429.1 423.7h0M429.6 425.9h0M428.5 428.3h0M429.4 427.5h0M427.9 425.6h0M426.2 422.3h0M420.8 420.5h0M415.9 423.8h0M413.9 427.8h0M414.9 432.1h0M416.7 435.6h0M422.1 438.7h0M424.2 435.7h0M423.1 435.9h0M423.8 439.1h0M427.6 441.7h0M430.1 444.0h0M431.8 445.7h0M432.0 444.3h0M430.4 443.5h0M426.8 444.0h0M423.2 442.2h0M419.9 443.2h0M416.5 442.6h0M413.1 442.0h0M409.9 443.1h0M406.9 442.7h0M405.3 443.3h0M403.9 440.9h0M401.8 437.6h0M399.8 434.6h0M396.8 432.8h0M394.6 430.3h0M392.2 428.2h0M390.1 425.5h0M387.5 424.0h0M385.1 421.7h0M383.0 419.5h0M382.0 416.6h0M380.7 413.5h0M380.0 410.9h0M378.7 408.6h0M379.3 406.0h0M380.0 402.7h0M381.5 400.3h0M384.1 398.3h0M386.2 395.3h0M386.9 391.9h0M388.3 388.8h0M390.3 386.0h0M392.2 383.9h0M430.3 418.6h0M432.9 416.7h0M435.9 415.2h0M438.8 412.6h0M440.9 410.1h0M442.9 408.8h0M445.0 408.4h0M447.8 408.8h0M450.9 408.8h0M453.9 410.3h0M456.1 412.1h0M458.5 413.7h0M460.4 416.1h0M462.8 418.1h0M465.0 420.4h0M466.3 423.5h0M468.0 426.3h0M470.6 428.8h0M473.0 431.7h0M476.3 434.4h0M479.6 435.4h0M481.9 435.3h0M482.2 434.5h0M479.6 437.1h0M478.4 442.3h0M480.7 446.0h0M485.8 446.5h0M489.3 446.4h0M490.3 446.1h0M492.6 448.7h0M498.5 448.5h0M501.5 445.7h0M503.4 443.2h0M506.9 441.8h0M509.3 438.1h0M510.1 434.3h0M510.7 430.5h0M509.5 427.4h0M509.7 425.3h0M511.0 422.3h0M512.5 419.3h0M512.9 414.9h0M511.8 411.7h0M512.7 411.1h0M514.0 410.4h0M515.7 412.4h0M517.5 415.1h0M520.0 417.1h0M521.8 419.5h0M522.7 423.0h0M526.5 426.5h0M529.9 426.8h0M529.1 427.8h0M530.3 427.9h0M527.5 429.9h0M529.3 436.2h0M532.1 437.5h0M534.7 438.7h0M534.8 441.4h0M535.8 444.2h0M536.5 447.4h0M537.2 450.4h0M537.2 452.8h0M535.8 455.5h0M533.6 458.3h0M532.5 462.1h0M532.4 466.1h0M534.0 470.0h0M538.9 472.2h0M542.7 470.7h0M545.9 469.2h0M549.1 467.8h0M552.1 466.5h0M554.6 463.2h0M557.0 460.8h0M557.0 460.8h0M558.2 459.2h0M557.4 462.6h0M557.6 465.9h0M558.0 469.1h0M558.1 472.4h0M558.9 475.7h0M558.0 479.1h0M559.3 482.1h0M558.0 485.4h0M558.3 488.7h0M558.0 492.0h0M557.7 495.3h0M558.2 498.6h0M558.2 501.9h0M557.6 503.6h0M555.0 505.8h0M555.5 505.8h0M550.9 505.2h0M547.7 506.2h0M544.7 507.7h0M541.0 508.2h0M538.2 510.6h0M535.3 512.8h0M532.2 514.8h0M529.8 517.6h0M528.7 520.8h0M526.7 523.6h0M529.4 528.7h0M532.0 525.4h0M528.9 526.5h0M526.5 527.6h0M523.2 527.9h0M519.9 527.3h0M516.6 528.4h0M513.3 527.7h0M510.0 528.0h0M506.7 527.2h0M503.4 528.2h0M500.1 528.6h0M496.8 528.1h0M493.5 527.5h0M490.2 529.0h0M486.9 529.0h0M483.6 527.8h0M480.3 529.1h0M477.1 528.7h0M473.8 528.6h0M470.5 528.8h0M467.2 528.8h0M463.9 528.8h0M460.6 528.6h0M457.3 527.7h0M454.0 527.6h0M450.7 527.7h0M447.4 527.6h0M444.1 527.1h0M440.8 528.4h0M437.5 527.1h0M434.2 527.3h0M432.9 528.0h0M431.1 525.2h0M431.3 527.0h0M434.3 525.6h0M437.3 524.3h0M440.3 523.9h0M443.6 523.5h0M446.2 522.1h0M449.6 521.6h0M452.9 522.1h0M456.3 521.1h0M459.5 520.3h0M463.3 519.3h0M466.7 518.0h0M469.0 515.5h0M471.4 514.1h0M475.1 513.8h0M479.4 510.0h0M478.9 506.3h0M478.4 504.3h0M480.8 501.9h0M481.7 497.3h0M481.8 494.0h0M481.7 493.6h0M484.1 491.8h0M487.5 488.8h0M489.6 486.0h0M491.0 483.0h0M491.8 479.0h0M486.6 475.4h0M485.1 474.2h0M482.6 472.4h0M478.7 469.9h0M474.1 469.4h0M471.4 471.5h0M468.0 471.5h0M466.1 472.7h0M464.8 471.3h0M462.7 470.3h0M462.9 467.6h0M464.7 466.0h0M463.9 460.0h0M460.6 458.6h0M459.3 456.8h0M457.1 454.7h0M454.2 452.8h0M452.1 450.1h0M449.2 447.8h0M446.3 446.1h0M443.0 443.9h0M437.6 447.1h0M438.4 449.6h0M437.5 450.8h0M440.1 448.2h0M440.4 443.3h0M439.4 440.2h0M439.6 439.3h0M440.4 436.9h0M441.4 436.5h0M441.0 437.1h0M440.8 440.7h0M443.5 444.9h0M447.7 445.9h0M451.8 443.5h0M454.9 442.0h0M456.2 441.3h0M459.0 440.4h0M462.4 441.2h0M465.9 442.3h0M470.5 441.0h0M471.9 435.2h0M470.0 432.3h0M468.4 429.9h0M466.5 427.1h0M465.3 423.7h0M463.6 420.9h0M461.2 418.2h0M458.3 415.6h0M455.0 413.5h0M450.8 412.7h0M447.5 413.1h0M444.1 414.5h0M441.0 415.4h0M437.7 416.1h0M434.5 416.8h0M431.6 416.7h0M432.1 416.1h0M542.5 471.9h0M543.7 468.7h0M544.0 470.9h0M549.1 469.6h0M552.4 468.2h0M555.5 465.5h0M557.0 462.2h0M559.2 460.5h0M562.8 459.5h0M565.2 455.9h0M566.2 452.3h0M567.1 449.0h0M569.4 445.7h0M568.7 441.1h0M567.7 438.2h0M568.1 439.9h0M571.4 438.1h0M575.3 437.5h0M578.4 433.4h0M579.5 430.0h0M580.1 429.7h0M582.6 428.1h0M587.8 424.5h0M586.5 421.3h0M586.6 419.7h0M588.1 414.0h0M585.6 411.8h0M584.0 410.5h0M583.9 407.8h0M583.1 406.0h0M585.6 403.8h0M584.9 398.3h0M584.8 397.2h0M585.1 394.0h0M586.7 390.5h0M587.6 387.5h0M589.3 385.2h0M590.9 382.9h0M592.8 381.3h0M595.1 380.2h0M597.8 380.4h0M601.0 380.3h0M605.3 379.9h0M608.0 378.4h0M607.3 378.9h0M609.9 382.0h0M611.9 384.6h0M614.4 386.3h0M615.9 389.2h0M617.5 392.4h0M619.8 394.9h0M621.3 397.8h0M624.3 399.6h0M625.8 402.7h0M627.6 405.6h0M630.5 407.6h0M632.5 410.3h0M634.6 412.9h0M637.1 414.7h0M639.1 417.5h0M641.8 419.9h0M644.8 421.4h0M645.8 423.7h0M646.7 427.4h0M653.0 426.4h0M654.6 425.9h0M657.7 426.8h0M660.8 428.0h0M665.1 426.8h0M668.5 427.2h0M670.9 427.1h0M674.5 427.3h0M678.0 423.1h0M679.8 421.9h0M681.6 420.6h0M683.6 420.8h0M686.8 420.5h0M690.4 421.1h0M693.4 421.3h0M695.0 422.4h0M696.6 425.1h0M699.4 428.1h0M702.8 429.3h0M705.8 431.3h0M708.5 433.2h0M711.1 434.6h0M713.1 434.5h0M713.3 437.7h0M715.5 441.9h0M717.8 444.3h0M720.5 446.7h0M723.0 448.2h0M725.6 449.8h0M726.8 452.2h0M726.9 454.8h0M726.8 457.1h0M727.1 460.4h0M725.4 463.9h0M725.3 467.2h0M725.7 470.4h0M724.5 472.1h0M721.9 472.9h0M719.2 474.8h0M716.1 475.3h0M713.6 476.9h0M710.7 477.4h0M708.0 477.5h0M704.8 476.4h0M702.0 476.0h0M699.2 475.6h0M697.3 473.1h0M693.5 472.1h0M690.8 470.2h0M688.5 468.6h0M685.8 466.5h0M682.8 463.7h0M679.2 463.1h0M676.5 462.0h0M673.2 460.4h0M668.1 460.3h0M665.1 462.1h0M663.1 462.4h0M659.9 462.6h0M656.0 462.0h0M652.9 463.4h0M649.7 464.1h0M646.8 464.8h0M643.5 463.9h0M640.2 464.9h0M636.7 465.6h0M633.3 465.6h0M630.3 466.2h0M627.0 466.2h0M623.7 466.2h0M620.2 466.7h0M617.0 468.5h0M613.4 469.7h0M610.4 470.2h0M609.6 470.3h0M606.6 468.7h0M601.4 467.8h0M598.2 469.5h0M596.1 471.3h0M592.6 471.2h0M589.9 473.3h0M586.5 473.9h0M583.3 474.9h0M579.8 475.2h0M576.6 476.1h0M573.5 477.5h0M570.9 479.6h0M567.3 481.3h0M567.6 486.5h0M568.1 490.0h0M567.6 491.7h0M567.8 495.4h0M570.2 499.7h0M572.6 502.1h0M573.7 502.4h0M572.6 503.7h0M571.2 503.6h0M568.4 502.0h0M564.2 502.2h0M560.9 502.9h0M557.9 503.3h0M554.6 502.2h0M550.4 502.3h0M547.4 503.8h0M546.1 504.6h0M542.9 503.7h0M541.7 503.8h0M542.1 500.5h0M542.6 497.1h0M542.1 493.8h0M541.1 490.6h0M542.1 487.6h0M541.0 484.2h0M542.3 481.0h0M541.8 477.7h0M541.6 474.4h0M542.2 471.1h0M482.2 492.2h0M483.9 495.4h0M484.4 500.5h0M482.4 503.3h0M479.5 505.0h0M479.7 506.6h0M478.9 509.9h0M476.4 514.0h0M473.5 516.2h0M471.5 516.4h0M468.3 519.7h0M465.0 521.3h0M462.1 521.6h0M459.0 522.7h0M455.6 522.8h0M452.0 522.9h0M448.8 523.3h0M445.7 524.0h0M442.9 524.9h0M439.7 525.5h0M438.2 527.5h0M436.1 529.5h0M433.8 531.9h0M432.1 534.8h0M430.0 537.4h0M428.2 540.1h0M425.5 542.6h0M423.1 544.9h0M421.4 547.6h0M419.8 549.1h0M419.4 551.0h0M420.1 553.8h0M419.8 557.3h0M421.0 560.4h0M422.2 563.4h0M423.0 566.6h0M424.7 569.5h0M425.5 572.6h0M426.4 575.7h0M427.7 578.7h0M428.1 582.0h0M430.2 584.3h0M431.7 587.3h0M433.2 589.9h0M435.8 592.0h0M437.4 594.0h0M440.2 594.9h0M443.4 595.6h0M446.4 596.6h0M449.4 598.2h0M452.4 599.4h0M455.4 599.9h0M458.7 599.9h0M461.0 599.0h0M463.8 597.7h0M467.4 597.7h0M470.4 595.7h0M473.9 596.1h0M476.9 594.5h0M480.2 594.1h0M483.2 593.4h0M486.0 591.4h0M488.7 590.6h0M491.7 589.4h0M494.2 587.3h0M497.5 585.7h0M500.5 584.8h0M502.8 582.2h0M505.0 581.1h0M507.0 578.8h0M508.3 575.5h0M510.3 572.8h0M512.0 570.0h0M514.0 567.2h0M516.9 565.4h0M518.7 562.8h0M519.6 560.5h0M520.1 557.3h0M522.9 553.8h0M524.6 551.3h0M523.1 550.9h0M521.5 548.3h0M519.4 544.8h0M519.6 541.1h0M519.0 537.9h0M518.2 534.2h0M521.6 529.5h0M524.5 527.4h0M525.5 526.9h0M526.8 523.9h0M528.5 520.8h0M529.7 517.7h0M532.2 514.9h0M535.1 512.8h0M537.6 509.8h0M541.2 509.0h0M544.6 507.7h0M547.6 506.3h0M550.9 505.6h0M553.2 503.9h0M556.8 503.4h0M559.7 501.7h0M564.0 502.6h0M567.4 502.3h0M570.8 502.1h0M573.1 503.0h0M573.3 501.1h0M572.2 502.0h0M569.0 498.8h0M567.3 495.5h0M567.0 492.2h0M566.2 489.2h0M566.3 485.2h0M569.2 481.1h0M572.2 478.5h0M575.6 478.5h0M578.4 476.6h0M581.7 475.6h0M585.1 474.5h0M588.4 473.9h0M591.7 473.2h0M594.8 472.7h0M598.0 472.0h0M601.2 470.6h0M604.4 469.9h0M607.7 469.6h0M611.9 468.3h0M615.0 469.5h0M616.2 468.8h0M617.5 467.4h0M620.3 465.2h0M621.5 462.1h0M623.4 459.3h0M624.4 456.1h0M627.1 453.8h0M625.5 452.7h0M623.7 449.9h0M621.1 447.6h0M620.2 444.4h0M618.0 441.8h0M617.1 441.8h0M613.8 442.0h0M610.5 442.0h0M607.2 442.1h0M604.0 440.9h0M600.7 440.5h0M597.3 441.4h0M594.1 440.5h0M590.7 441.1h0M587.5 439.8h0M584.2 439.9h0M580.9 439.5h0M577.6 439.1h0M574.3 439.4h0M571.0 439.0h0M567.7 439.1h0M564.4 439.1h0M561.1 438.1h0M557.8 438.5h0M554.8 437.4h0M551.6 438.2h0M548.2 437.9h0M545.0 438.4h0M541.7 439.0h0M538.4 439.7h0M535.1 438.8h0M531.8 439.0h0M528.6 440.5h0M525.3 440.3h0M521.9 439.9h0M518.6 440.4h0M515.3 440.1h0M512.1 440.9h0M508.8 441.7h0M505.5 441.6h0M502.2 441.6h0M498.9 441.2h0M495.6 442.1h0M492.3 442.0h0M492.5 443.4h0M491.1 446.4h0M490.0 449.5h0M488.6 452.5h0M487.5 455.7h0M485.6 458.4h0M485.1 460.1h0M487.0 462.9h0M487.7 466.2h0M487.9 469.6h0M490.1 472.4h0M490.7 475.6h0M491.6 478.8h0M492.1 483.3h0M491.8 486.6h0M486.9 489.7h0M483.6 490.9h0M483.5 491.3h0M176.0 510.5h0M177.9 508.8h0M180.8 507.1h0M183.6 505.6h0M185.9 503.2h0M189.0 502.4h0M191.9 501.6h0M194.9 501.2h0M197.7 500.2h0M200.7 500.4h0M203.9 500.1h0M207.2 500.1h0M210.1 501.9h0M213.1 501.7h0M216.1 503.3h0M220.1 504.5h0M223.3 504.1h0M224.6 505.0h0M229.5 507.5h0M232.2 504.9h0M233.9 504.3h0M237.9 502.5h0M240.8 500.6h0M243.1 498.2h0M244.9 496.0h0M248.1 495.3h0M250.5 492.7h0M254.6 490.0h0M255.0 488.5h0M257.2 487.3h0M259.1 487.0h0M260.2 488.0h0M262.1 489.7h0M262.4 491.4h0M259.8 493.0h0M258.1 496.2h0M257.4 499.5h0M254.7 501.4h0M252.7 503.4h0M250.7 505.6h0M247.9 507.0h0M245.9 509.8h0M243.0 511.4h0M239.6 516.5h0M243.3 518.7h0M248.1 518.0h0M248.9 518.3h0M251.6 519.0h0M252.4 520.1h0M251.1 521.1h0M251.3 527.7h0M255.2 528.8h0M259.8 527.7h0M262.7 526.7h0M263.2 527.3h0M266.3 530.1h0M270.1 530.3h0M273.8 531.0h0M277.2 530.7h0M280.3 530.5h0M283.4 530.0h0M283.5 530.2h0M284.3 530.8h0M282.0 531.0h0M278.9 531.8h0M275.3 533.8h0M272.4 535.6h0M270.0 537.5h0M266.6 538.1h0M263.9 540.4h0M260.7 541.6h0M257.8 543.3h0M255.2 545.1h0M252.8 547.0h0M249.9 548.2h0M247.0 550.0h0M243.5 550.2h0M240.8 552.3h0M237.7 553.0h0M233.9 556.2h0M233.6 560.6h0M236.7 564.3h0M236.4 564.7h0M239.9 569.1h0M243.2 570.2h0M245.3 570.2h0M246.9 571.8h0M247.7 573.4h0M246.0 574.6h0M244.5 575.6h0M243.7 575.4h0M240.9 575.4h0M238.3 572.5h0M232.3 575.0h0M231.6 576.8h0M228.7 577.6h0M225.6 579.5h0M223.1 579.4h0M221.3 580.3h0M219.2 577.7h0M215.4 575.4h0M212.3 575.0h0M212.3 574.2h0M207.8 570.4h0M204.3 571.7h0M201.5 570.8h0M198.1 572.1h0M195.1 570.8h0M192.6 570.1h0M189.4 568.8h0M184.4 569.9h0M183.8 570.9h0M181.1 568.9h0M176.1 567.2h0M173.1 569.0h0M172.2 568.6h0M169.3 567.2h0M165.1 565.1h0M161.7 565.1h0M159.1 565.0h0M156.7 563.4h0M155.1 560.8h0M153.2 558.3h0M150.2 556.0h0M148.4 553.8h0M148.8 551.9h0M148.7 549.3h0M148.3 546.2h0M148.9 543.0h0M150.3 540.0h0M151.1 536.6h0M151.4 534.6h0M153.8 532.8h0M155.6 529.8h0M158.8 528.0h0M161.7 523.9h0M161.8 520.7h0M161.7 519.8h0M164.6 519.4h0M168.1 517.3h0M171.2 516.2h0M172.9 515.3h0M177.0 511.6h0M337.3 720.1h0M340.0 718.1h0M342.6 716.9h0M345.1 717.2h0M348.1 718.1h0M351.2 719.0h0M355.0 718.5h0M358.3 718.3h0M361.5 718.7h0M364.7 719.8h0M367.4 720.2h0M369.4 722.6h0M372.3 724.2h0M375.3 725.2h0M377.9 727.2h0M380.5 729.3h0M384.4 730.2h0M386.9 732.5h0M389.3 733.2h0M390.9 735.2h0M392.7 736.0h0M391.1 738.9h0M389.9 741.6h0M388.5 745.5h0M388.4 748.9h0M388.3 752.2h0M387.0 755.0h0M386.8 758.8h0M389.6 763.2h0M392.9 765.3h0M395.9 766.0h0M398.5 766.7h0M400.1 767.8h0M401.1 770.4h0M402.1 773.5h0M403.0 776.5h0M403.5 779.5h0M402.8 782.1h0M402.9 785.8h0M404.4 790.1h0M406.6 792.7h0M408.7 795.3h0M408.9 795.8h0M408.0 799.0h0M411.2 803.0h0M413.6 805.3h0M413.2 806.1h0M412.8 809.7h0M416.4 813.7h0M419.4 815.5h0M422.3 817.1h0M424.5 818.4h0M426.8 820.5h0M429.8 822.2h0M431.8 824.9h0M434.3 827.1h0M436.7 829.4h0M438.8 831.8h0M441.7 833.8h0M444.8 835.3h0M448.2 836.9h0M451.5 838.0h0M454.2 840.2h0M457.2 841.3h0M460.6 841.7h0M463.3 844.0h0M466.7 844.3h0M469.7 845.7h0M472.6 846.7h0M475.3 848.7h0M477.7 849.8h0M479.5 852.7h0M481.2 854.9h0M482.8 857.5h0M484.5 860.1h0M487.1 863.3h0M487.8 865.2h0M487.4 868.0h0M487.9 871.3h0M487.9 874.4h0M487.5 877.6h0M488.4 881.0h0M487.8 883.0h0M486.9 883.6h0M485.7 885.2h0M484.8 882.7h0M483.6 880.0h0M481.5 877.3h0M479.7 874.1h0M476.2 871.2h0M472.6 870.0h0M469.4 869.1h0M465.2 869.7h0M461.7 870.9h0M459.0 871.0h0M456.1 872.1h0M454.3 872.0h0M451.9 869.9h0M446.8 868.7h0M443.6 870.1h0M441.2 869.6h0M438.1 868.7h0M433.7 868.6h0M432.8 870.0h0M432.5 868.0h0M432.6 868.5h0M435.5 866.5h0M436.6 860.7h0M433.8 857.6h0M429.7 855.8h0M425.2 856.3h0M422.6 860.2h0M420.8 862.9h0M422.6 863.5h0M422.2 861.0h0M421.1 858.5h0M418.8 854.1h0M415.5 852.3h0M416.9 853.6h0M418.1 851.6h0M419.5 852.8h0M422.5 853.8h0M427.0 855.2h0M430.4 854.0h0M432.7 853.8h0M436.1 854.4h0M440.2 853.2h0M443.5 850.9h0M440.1 845.6h0M437.0 844.6h0M433.7 843.6h0M430.2 843.8h0M427.0 843.0h0M424.1 841.8h0M421.1 840.5h0M417.4 840.8h0M413.2 839.5h0M409.7 842.3h0M406.2 844.8h0M405.3 848.0h0M403.3 850.6h0M403.1 850.6h0M401.1 850.2h0M399.3 849.7h0M399.0 849.3h0M401.7 847.7h0M401.0 842.4h0M397.2 843.5h0M394.0 846.3h0M392.9 850.3h0M393.5 854.5h0M394.3 857.9h0M396.3 860.1h0M396.9 863.3h0M396.6 866.0h0M396.0 867.8h0M394.3 869.6h0M392.0 870.0h0M389.3 871.4h0M385.5 871.7h0M382.7 873.5h0M379.7 874.1h0M377.4 874.7h0M374.2 873.8h0M371.4 873.4h0M369.1 871.6h0M367.1 870.1h0M365.5 868.7h0M366.6 865.5h0M367.9 863.4h0M368.3 860.5h0M370.5 857.9h0M366.0 852.7h0M362.3 855.9h0M360.0 858.3h0M359.5 859.9h0M356.0 860.5h0M355.8 866.4h0M358.0 868.9h0M356.3 869.6h0M356.6 870.3h0M354.1 868.4h0M350.2 866.4h0M346.9 866.4h0M345.3 866.3h0M342.1 864.4h0M336.7 864.0h0M334.1 866.1h0M332.1 866.7h0M329.1 865.1h0M325.9 864.4h0M321.6 863.9h0M318.3 864.6h0M315.1 864.6h0M313.7 864.5h0M311.0 863.6h0M308.3 861.7h0M305.2 860.0h0M302.5 858.1h0M300.0 855.8h0M296.4 855.2h0M294.5 853.1h0M293.9 851.6h0M294.2 848.4h0M293.3 844.5h0M291.5 841.6h0M289.7 838.7h0M289.0 835.6h0M288.4 832.3h0M287.3 829.5h0M286.7 827.2h0M287.7 824.6h0M289.0 821.5h0M291.0 818.5h0M291.2 815.3h0M293.0 812.5h0M295.1 810.8h0M296.8 807.9h0M299.8 807.0h0M301.6 805.1h0M304.8 803.3h0M308.0 798.6h0M306.4 795.5h0M305.8 793.8h0M306.1 790.5h0M305.8 787.5h0M307.4 785.2h0M308.2 781.9h0M310.8 779.8h0M312.2 776.2h0M313.8 773.3h0M314.7 770.1h0M316.0 767.7h0M318.4 765.0h0M319.6 761.9h0M318.9 756.8h0M317.1 753.8h0M318.4 753.5h0M321.4 749.2h0M320.7 745.9h0M320.1 742.6h0M320.4 740.7h0M322.6 738.2h0M321.9 733.3h0M321.2 730.3h0M322.7 730.1h0M325.1 728.1h0M329.1 726.9h0M330.9 724.0h0M333.4 722.6h0M335.3 720.0h0M400.4 822.2h0M403.7 822.4h0M407.0 821.7h0M410.2 821.0h0M413.3 819.9h0M416.0 819.7h0M419.1 821.1h0M422.4 821.6h0M425.7 821.4h0M429.0 822.1h0M431.5 821.9h0M434.1 824.0h0M435.3 825.6h0M436.8 828.5h0M440.4 830.9h0M442.6 833.9h0M445.6 835.4h0M448.9 837.1h0M452.2 838.2h0M455.4 838.9h0M458.1 841.0h0M461.2 842.1h0M464.2 843.6h0M467.5 844.7h0M470.7 845.3h0M473.6 846.2h0M476.7 847.4h0M477.7 849.4h0M478.6 852.1h0M480.0 855.2h0M481.5 858.1h0M482.3 861.9h0M486.7 865.1h0M490.3 865.9h0M493.7 864.9h0M496.0 865.9h0M498.9 867.2h0M501.6 869.4h0M504.5 871.0h0M507.8 871.9h0M510.6 873.6h0M512.8 875.6h0M514.2 876.9h0M514.0 879.4h0M512.7 881.4h0M510.9 883.1h0M508.5 883.3h0M505.6 884.8h0M501.7 885.1h0M498.9 888.3h0M496.7 892.3h0M497.1 895.6h0M497.7 893.0h0M496.8 892.6h0M496.8 889.2h0M494.3 885.3h0M491.0 882.9h0M486.0 882.8h0M482.8 884.2h0M483.7 883.9h0M483.6 881.0h0M482.3 878.4h0M480.9 873.8h0M477.8 871.5h0M474.8 870.2h0M471.7 869.0h0M468.3 868.5h0M465.4 867.1h0M461.8 866.4h0M457.8 866.6h0M454.3 867.2h0M450.4 867.6h0M447.7 869.0h0M445.7 871.3h0M442.4 871.2h0M439.5 870.8h0M436.6 870.2h0M434.2 868.9h0M431.8 868.1h0M432.0 867.2h0M433.8 864.4h0M435.9 861.7h0M435.4 856.2h0M429.1 854.0h0M425.8 854.8h0M422.7 857.6h0M420.8 861.7h0M419.3 864.7h0M423.0 862.6h0M421.1 859.8h0M421.1 856.5h0M420.0 854.3h0M420.0 855.9h0M423.1 855.4h0M427.8 856.2h0M430.4 853.9h0M432.3 852.7h0M435.5 853.5h0M439.8 853.6h0M443.7 851.8h0M442.5 846.6h0M439.2 844.6h0M435.6 844.1h0M432.4 843.1h0M429.0 843.1h0M426.2 842.0h0M422.8 842.3h0M419.6 841.4h0M416.3 840.6h0M413.1 839.6h0M408.7 841.5h0M405.5 844.7h0M404.1 847.7h0M402.2 850.2h0M401.0 852.3h0M403.1 851.6h0M402.5 849.5h0M401.3 846.4h0M401.6 843.0h0M400.5 839.8h0M399.6 836.6h0M401.2 834.0h0M401.4 830.7h0M401.1 827.4h0M401.6 824.1h0M403.0 821.0h0M505.8 916.7h0M509.2 916.1h0M508.6 915.7h0M509.5 919.0h0M509.3 920.5h0M509.1 923.8h0M508.6 922.7h0M508.5 922.6h0M507.0 919.6h0M508.1 917.1h0M518.4 968.5h0M518.9 966.3h0M518.2 967.5h0M520.2 969.4h0M520.3 972.7h0M522.6 975.4h0M523.3 979.0h0M525.4 981.6h0M526.7 985.0h0M530.0 987.6h0M532.9 989.0h0M535.3 991.3h0M534.8 993.3h0M535.9 995.9h0M535.7 999.3h0M536.0 1002.3h0M536.2 1005.7h0M534.3 1007.8h0M533.6 1010.8h0M532.2 1013.8h0M531.1 1015.1h0M528.4 1016.2h0M525.5 1017.9h0M522.3 1019.1h0M519.7 1020.3h0M516.9 1020.3h0M515.2 1020.6h0M515.1 1018.2h0M515.7 1014.7h0M514.9 1012.0h0M516.6 1011.2h0M519.3 1009.8h0M521.5 1006.3h0M522.9 1001.1h0M521.1 998.0h0M519.8 995.0h0M518.6 992.3h0M519.0 989.2h0M519.1 986.7h0M519.5 983.5h0M519.9 979.3h0M518.6 976.2h0M517.6 972.9h0M518.0 970.0h0M434.9 1047.1h0M437.4 1044.8h0M437.5 1043.0h0M440.7 1041.9h0M444.0 1041.3h0M443.1 1042.8h0M442.0 1041.8h0M439.7 1043.0h0M437.7 1045.8h0M435.3 1046.7h0M435.6 1046.4h0M603.2 845.9h0M605.3 844.0h0M608.4 841.8h0M610.6 840.0h0M611.2 841.0h0M613.0 841.9h0M612.9 843.4h0M611.8 847.4h0M613.2 850.7h0M613.1 854.1h0M614.3 857.2h0M615.0 860.5h0M616.1 864.0h0M618.7 866.6h0M619.7 869.9h0M621.8 872.5h0M623.4 875.6h0M629.6 877.0h0M628.0 877.7h0M627.3 878.2h0M627.5 882.9h0M629.3 886.1h0M630.4 889.2h0M631.3 892.4h0M632.9 895.0h0M634.7 897.9h0M636.1 901.2h0M637.5 904.6h0M640.4 907.3h0M642.4 909.5h0M642.2 909.8h0M642.7 915.4h0M647.4 916.3h0M650.5 913.4h0M650.2 912.6h0M652.4 914.5h0M656.9 915.7h0M660.2 916.5h0M662.9 917.6h0M665.8 918.8h0M668.0 921.2h0M670.6 922.4h0M670.5 922.1h0M668.7 921.7h0M666.1 919.9h0M663.1 918.3h0M659.6 917.9h0M656.3 916.3h0M652.6 915.6h0M648.4 916.1h0M645.2 917.1h0M644.2 916.5h0M639.2 918.3h0M636.8 921.0h0M634.3 923.5h0M633.6 925.8h0M631.0 926.5h0M628.8 927.5h0M626.2 927.7h0M626.1 926.3h0M625.3 924.2h0M626.4 921.2h0M624.8 916.9h0M626.8 918.4h0M630.1 915.8h0M631.5 909.5h0M629.0 907.3h0M628.3 906.3h0M628.4 903.2h0M626.9 899.8h0M626.4 896.3h0M623.9 892.9h0M623.5 892.2h0M624.6 889.1h0M623.8 884.9h0M622.8 881.3h0M619.6 878.3h0M618.9 877.1h0M618.5 873.2h0M616.9 870.3h0M616.1 866.9h0M614.9 863.7h0M613.4 860.9h0M612.0 857.9h0M612.6 855.0h0M611.9 851.7h0M608.3 848.2h0M605.7 846.1h0M604.9 843.2h0M680.7 926.3h0M682.2 924.8h0M683.7 925.9h0M686.4 927.6h0M689.8 929.7h0M693.3 929.8h0M695.9 931.0h0M699.1 932.4h0M702.4 933.1h0M706.4 934.4h0M709.8 933.7h0M712.5 932.8h0M715.4 933.7h0M718.6 934.7h0M721.8 935.3h0M724.1 937.1h0M726.3 937.8h0M726.8 940.2h0M727.0 941.4h0M725.5 943.1h0M724.0 943.3h0M720.0 946.0h0M717.4 948.4h0M715.6 950.5h0M714.2 952.8h0M714.0 953.1h0M712.2 951.9h0M712.0 949.6h0M712.1 946.3h0M711.9 941.8h0M709.1 938.8h0M705.8 936.4h0M702.6 934.7h0M699.6 933.6h0M696.8 931.9h0M693.9 930.4h0M690.7 929.2h0M687.8 927.6h0M684.3 926.2h0M682.3 926.4h0M681.0 924.8h0M691.5 851.2h0M692.1 847.8h0M694.9 846.6h0M696.7 845.2h0M699.6 844.3h0M703.3 842.1h0M704.7 839.9h0M709.3 835.4h0M707.8 831.9h0M705.3 829.5h0M703.6 830.2h0M706.3 830.5h0M708.9 832.1h0M713.9 831.2h0M716.6 828.1h0M717.0 823.2h0M717.2 822.0h0M719.7 820.3h0M721.0 820.3h0M723.3 820.0h0M725.4 820.7h0M726.0 823.2h0M725.4 824.7h0M728.8 828.9h0M729.9 829.7h0M730.6 829.8h0M730.5 830.3h0M727.5 828.1h0M721.6 830.6h0M720.8 834.7h0M724.0 839.0h0M728.0 840.6h0M730.8 840.4h0M734.4 841.2h0M738.4 838.7h0M738.3 838.3h0M740.2 840.3h0M744.1 842.7h0M744.8 842.0h0M743.9 844.4h0M743.3 847.7h0M741.3 850.3h0M739.6 853.7h0M737.9 856.2h0M736.5 857.1h0M734.4 858.6h0M731.4 858.9h0M728.4 860.2h0M724.9 860.7h0M721.9 861.7h0M718.6 862.4h0M716.1 861.6h0M713.0 860.8h0M708.8 860.2h0M705.6 860.4h0M703.7 860.6h0M701.0 857.8h0M697.9 857.4h0M696.4 856.2h0M693.8 854.5h0M692.5 850.7h0M748.5 790.8h0M749.7 788.3h0M750.8 789.1h0M752.3 789.8h0M753.2 792.0h0M754.3 792.7h0M751.7 794.6h0M748.3 797.9h0M748.0 801.3h0M747.5 801.3h0M746.0 801.0h0M744.6 799.1h0M744.9 798.7h0M747.7 797.6h0M749.0 792.4h0M749.5 789.1h0M598.4 648.4h0M600.8 646.0h0M603.3 645.0h0M606.2 644.3h0M609.1 644.6h0M612.0 644.5h0M615.3 644.0h0M618.1 645.2h0M621.1 645.2h0M623.7 646.6h0M626.0 648.4h0M628.1 650.5h0M629.5 652.9h0M632.1 655.4h0M636.2 657.6h0M640.3 655.3h0M641.0 655.6h0M643.7 656.4h0M647.1 656.9h0M650.0 657.8h0M652.6 658.8h0M654.7 660.4h0M655.2 660.7h0M653.1 662.7h0M650.6 666.5h0M649.6 669.7h0M648.9 673.6h0M650.6 678.0h0M653.2 680.7h0M656.3 682.8h0M659.0 684.8h0M661.9 686.3h0M662.4 687.9h0M664.6 691.2h0M666.9 693.5h0M668.0 696.1h0M670.5 698.3h0M671.1 701.8h0M673.2 704.9h0M675.0 707.3h0M676.7 709.4h0M677.2 712.4h0M677.1 715.7h0M677.0 718.9h0M676.7 722.3h0M676.8 725.6h0M677.6 729.5h0M678.0 732.8h0M679.7 734.7h0M678.1 736.8h0M676.7 739.4h0M677.7 740.7h0M677.1 738.1h0M675.1 735.6h0M674.4 732.2h0M671.6 728.4h0M669.3 728.2h0M668.6 725.7h0M669.9 723.6h0M669.4 718.4h0M666.2 716.1h0M663.1 714.2h0M661.0 714.2h0M658.6 710.8h0M653.9 709.4h0M652.3 710.7h0M649.5 709.2h0M646.8 706.7h0M642.9 706.7h0M638.8 706.7h0M634.8 707.8h0M632.4 709.5h0M631.9 709.7h0M626.4 707.6h0M623.9 709.9h0M622.8 710.0h0M620.0 708.2h0M614.9 709.5h0M612.4 712.1h0M612.2 712.9h0M612.1 713.2h0M612.3 707.1h0M608.9 706.1h0M606.1 705.2h0M603.3 703.3h0M599.3 703.1h0M599.0 703.8h0M599.8 700.7h0M597.8 696.0h0M595.9 694.5h0M596.1 691.4h0M595.9 687.4h0M595.6 684.5h0M594.7 681.2h0M592.3 677.5h0M592.8 677.1h0M594.4 672.7h0M594.0 669.5h0M594.4 667.9h0M597.1 664.0h0M597.3 660.5h0M596.0 657.5h0M596.8 654.4h0M598.2 651.3h0M598.4 648.7h0M596.6 714.6h0M598.9 713.3h0M599.1 713.1h0M599.5 714.4h0M600.5 716.7h0M601.3 718.9h0M599.7 721.4h0M598.5 723.7h0M595.7 725.5h0M593.1 728.8h0M591.8 731.9h0M590.4 734.6h0M588.4 737.1h0M586.7 740.1h0M585.0 742.9h0M582.7 745.3h0M580.5 747.8h0M579.8 751.4h0M578.7 755.2h0M579.2 755.4h0M577.3 756.4h0M577.5 754.6h0M578.7 752.2h0M579.5 750.0h0M581.7 747.8h0M582.9 744.5h0M584.7 741.7h0M586.3 738.8h0M587.6 735.8h0M590.5 733.7h0M592.0 730.5h0M593.5 727.6h0M594.2 724.1h0M596.2 720.8h0M597.2 717.3h0M597.2 714.7h0M541.7 769.3h0M541.9 766.6h0M544.2 765.4h0M546.7 764.0h0M549.5 763.3h0M552.5 764.5h0M555.8 764.5h0M558.7 764.3h0M561.9 765.8h0M566.5 765.2h0M569.7 763.9h0M571.8 763.2h0M574.3 764.2h0M576.8 765.0h0M577.6 767.1h0M580.2 769.3h0M580.4 772.2h0M580.4 773.8h0M578.5 776.0h0M577.8 779.5h0M576.5 780.1h0M574.0 781.6h0M570.8 782.2h0M567.8 783.7h0M564.8 783.7h0M562.2 784.6h0M559.5 783.1h0M555.8 781.9h0M552.5 782.8h0M549.9 781.9h0M547.7 779.8h0M544.4 778.8h0M542.1 777.1h0M539.9 774.7h0M541.0 772.7h0M541.3 770.1h0M551.0 791.4h0M553.7 789.4h0M553.7 791.1h0M554.2 790.7h0M552.6 795.4h0M554.1 795.1h0M554.4 795.7h0M552.3 793.1h0M552.0 791.8h0M607.6 782.6h0M610.6 781.4h0M609.6 780.3h0M611.4 783.1h0M611.9 784.8h0M611.1 788.1h0M610.2 788.2h0M611.0 788.6h0M609.7 785.5h0M609.7 782.3h0M700.9 578.6h0M701.8 576.4h0M704.0 576.1h0M706.6 576.4h0M709.3 577.0h0M709.8 579.4h0M716.4 581.0h0M715.3 581.2h0M715.7 582.8h0M718.3 587.1h0M723.0 588.6h0M726.3 588.9h0M729.1 588.3h0M732.3 588.8h0M735.8 589.5h0M740.4 588.3h0M742.8 585.3h0M744.0 582.2h0M742.5 582.4h0M743.0 583.0h0M744.9 588.3h0M749.3 589.8h0M752.8 586.5h0M754.4 585.1h0M757.1 584.5h0M759.9 583.8h0M763.3 583.8h0M767.3 581.4h0M770.4 579.3h0M769.6 578.5h0M772.3 580.4h0M777.1 581.0h0M780.6 579.8h0M783.6 580.3h0M784.6 580.4h0M786.3 582.1h0M786.2 583.5h0M784.3 586.0h0M784.0 590.0h0M783.6 592.7h0M781.4 594.8h0M779.7 597.2h0M777.0 599.2h0M774.9 601.3h0M772.6 602.4h0M769.4 603.2h0M766.5 604.4h0M764.1 603.4h0M760.7 603.0h0M756.6 605.2h0M754.4 605.0h0M751.2 605.6h0M747.5 605.8h0M742.9 606.3h0M743.3 608.0h0M741.4 605.6h0M737.7 603.0h0M734.5 601.8h0M731.5 601.4h0M729.0 599.8h0M723.8 597.5h0M724.1 600.0h0M723.1 597.0h0M719.5 594.5h0M716.9 592.3h0M714.9 590.2h0M713.9 587.1h0M711.7 584.5h0M709.0 581.4h0M705.9 579.3h0M702.7 578.3h0M700.8 577.1h0M738.7 533.0h0M740.7 531.4h0M740.5 532.8h0M742.7 535.0h0M746.2 537.7h0M749.1 539.8h0M751.9 541.3h0M754.3 542.5h0M754.0 543.0h0M752.1 546.7h0M754.3 549.5h0M754.1 552.2h0M756.9 556.0h0M757.9 557.1h0M759.9 562.2h0M760.9 562.3h0M761.6 563.1h0M761.4 568.6h0M762.7 569.9h0M762.8 572.7h0M761.6 573.2h0M757.6 575.2h0M758.3 578.2h0M758.2 577.4h0M758.1 578.3h0M756.0 576.2h0M751.1 573.2h0M749.9 574.1h0M747.4 572.9h0M747.6 570.5h0M744.8 569.3h0M743.4 569.4h0M746.1 567.4h0M746.7 561.1h0M741.6 559.4h0M736.9 561.7h0M736.4 566.4h0M736.8 569.2h0M736.5 571.9h0M738.6 571.3h0M735.3 566.2h0M730.7 569.5h0M729.5 570.1h0M730.3 570.6h0M729.6 572.0h0M731.7 569.3h0M730.3 563.7h0M731.2 563.5h0M731.6 561.4h0M734.1 556.7h0M732.7 555.5h0M735.3 550.4h0M728.8 548.9h0M726.1 551.9h0M724.8 555.8h0M723.1 558.6h0M722.4 562.8h0M722.7 566.1h0M722.5 568.1h0M724.0 566.5h0M723.5 564.8h0M723.5 561.9h0M724.9 559.2h0M725.0 556.1h0M727.3 554.3h0M729.3 551.9h0M731.8 550.2h0M733.9 548.0h0M736.5 547.3h0M738.7 541.7h0M734.2 539.9h0M732.8 539.5h0M733.9 538.6h0M734.7 537.3h0M737.4 534.7h0M775.6 567.2h0M778.9 567.8h0M782.3 563.6h0M784.0 563.1h0M784.1 564.2h0M787.2 565.6h0M787.8 566.6h0M786.4 569.0h0M785.6 569.9h0M785.6 570.4h0M782.3 569.6h0M777.1 571.1h0M777.2 570.2h0M776.5 569.9h0M776.7 567.7h0M1009.3 618.5h0M1012.5 619.5h0M1015.3 620.5h0M1018.2 622.4h0M1021.7 622.6h0M1024.3 624.5h0M1027.4 625.1h0M1030.0 627.2h0M1032.6 629.1h0M1035.6 630.7h0M1038.8 631.8h0M1041.2 634.1h0M1044.0 635.5h0M1046.4 637.8h0M1049.3 639.5h0M1052.5 641.3h0M1055.5 642.6h0M1057.6 645.1h0M1059.6 646.1h0M1062.0 648.1h0M1062.9 651.4h0M1064.9 654.1h0M1065.3 657.3h0M1067.2 659.6h0M1067.0 662.6h0M1067.2 665.7h0M1066.4 668.8h0M1065.7 672.1h0M1065.7 675.5h0M1064.9 678.9h0M1064.5 682.3h0M1064.6 685.9h0M1065.6 689.1h0M1065.4 692.6h0M1065.8 694.9h0M1065.2 696.9h0M1062.2 698.5h0M1060.6 702.0h0M1058.2 705.1h0M1060.3 709.9h0M1059.6 710.3h0M1057.1 713.9h0M1055.6 717.1h0M1055.7 719.8h0M1054.8 723.0h0M1054.0 726.1h0M1052.6 729.0h0M1050.2 731.5h0M1049.8 735.4h0M1048.1 738.2h0M1047.3 740.2h0M1045.9 743.0h0M1044.0 745.8h0M1041.6 748.2h0M1038.9 750.1h0M1037.3 753.0h0M1035.0 755.2h0M1032.3 757.2h0M1030.2 759.8h0M1027.7 761.9h0M1025.6 764.2h0M1022.5 766.0h0M1019.8 770.1h0M1019.5 773.2h0M1018.3 772.4h0M1015.2 773.8h0M1012.1 777.4h0M1012.9 778.1h0M1009.9 776.9h0M1005.4 777.2h0M1002.1 777.6h0M998.8 778.9h0M995.7 779.6h0M992.6 781.0h0M989.5 781.8h0M986.4 782.2h0M983.1 781.8h0M979.9 781.8h0M976.6 782.9h0M973.4 783.3h0M969.9 783.4h0M965.8 785.3h0M966.2 787.6h0M964.4 785.4h0M961.6 783.3h0M957.4 781.7h0M953.5 781.1h0M949.7 782.8h0M946.8 784.1h0M946.6 784.7h0M943.7 783.0h0M938.8 783.6h0M935.6 784.7h0M933.0 785.4h0M929.8 785.3h0M925.7 784.5h0M922.7 786.3h0M919.4 786.5h0M917.2 786.8h0M916.2 786.7h0M913.7 785.1h0M912.2 781.8h0M910.8 779.6h0M911.2 776.6h0M911.1 773.8h0M911.6 770.6h0M911.7 766.2h0M910.4 764.7h0M912.8 762.1h0M912.9 757.0h0M911.3 755.1h0M912.6 751.8h0M912.2 747.6h0M911.4 743.9h0M910.1 740.8h0M907.1 738.1h0M905.2 735.6h0M903.7 735.1h0M905.1 732.2h0M903.1 727.2h0M900.7 724.9h0M899.2 723.8h0M899.8 720.7h0M899.5 716.4h0M898.4 712.9h0M895.6 710.5h0M893.7 707.8h0M893.6 704.6h0M894.1 704.2h0M895.8 701.4h0M897.2 698.3h0M897.8 697.6h0M899.9 697.2h0M900.6 699.0h0M902.9 701.4h0M906.0 704.5h0M910.9 704.8h0M912.1 703.5h0M914.8 705.8h0M919.7 706.5h0M923.7 705.2h0M925.5 701.9h0M927.4 698.9h0M929.8 696.2h0M930.8 692.9h0M932.0 689.6h0M932.7 686.3h0M933.2 683.1h0M932.8 678.3h0M930.5 675.7h0M929.6 672.9h0M928.8 672.7h0M927.9 671.4h0M930.0 674.1h0M934.3 677.8h0M938.4 675.8h0M941.0 673.1h0M943.6 670.4h0M944.3 666.3h0M945.9 663.3h0M947.2 662.0h0M948.0 660.0h0M951.5 659.6h0M955.7 657.0h0M957.3 653.6h0M958.6 650.1h0M958.5 647.6h0M960.9 645.4h0M963.6 642.5h0M965.1 639.0h0M964.9 634.3h0M964.8 633.7h0M966.4 633.4h0M969.1 632.0h0M971.3 633.4h0M977.0 632.1h0M979.6 630.1h0M980.9 627.8h0M984.1 626.7h0M986.9 625.7h0M990.1 625.1h0M993.1 623.6h0M996.2 622.7h0M999.3 621.7h0M1002.7 621.5h0M1006.4 620.5h0M1008.9 619.3h0M858.8 366.9h0M860.6 364.8h0M862.2 363.6h0M863.2 364.8h0M865.7 366.8h0M870.5 366.8h0M872.5 367.6h0M876.7 370.3h0M880.0 369.3h0M881.6 370.0h0M881.9 371.0h0M886.0 375.5h0M889.2 374.6h0M892.7 375.5h0M897.5 373.3h0M894.2 368.4h0M890.4 368.1h0M887.3 367.6h0M888.4 367.8h0M888.6 367.5h0M891.1 367.8h0M895.6 368.4h0M897.0 366.9h0M900.0 367.8h0M903.6 369.9h0M905.7 368.9h0M907.0 371.8h0M909.7 374.5h0M909.4 373.5h0M907.7 372.8h0M902.6 373.3h0M901.0 376.3h0M902.0 376.3h0M897.5 373.2h0M893.6 373.9h0M890.5 375.3h0M887.7 377.0h0M884.5 378.3h0M882.9 377.9h0M879.9 377.4h0M877.1 376.2h0M873.0 374.8h0M869.9 374.3h0M869.6 373.0h0M867.9 370.8h0M866.0 367.6h0M860.8 366.3h0M859.7 365.4h0M913.1 369.8h0M914.9 368.4h0M918.3 366.9h0M920.8 365.3h0M921.5 367.2h0M926.4 366.9h0M927.5 366.6h0M929.0 368.6h0M928.2 371.4h0M931.5 375.0h0M930.6 375.0h0M929.1 374.0h0M924.5 375.8h0M922.8 377.5h0M920.4 377.6h0M917.9 376.5h0M917.0 373.7h0M915.3 371.6h0M914.5 369.0h0M926.6 351.3h0M928.4 350.1h0M927.8 350.8h0M932.1 352.5h0M933.1 352.9h0M935.7 357.2h0M939.3 357.5h0M941.9 358.4h0M944.3 360.9h0M948.0 361.9h0M951.5 362.4h0M955.1 363.0h0M959.2 360.7h0M959.5 361.0h0M960.6 362.6h0M963.6 366.1h0M967.0 367.6h0M971.0 367.6h0M970.9 368.6h0M970.7 370.0h0M968.3 372.4h0M967.7 373.7h0M964.6 374.7h0M961.6 376.5h0M959.3 379.6h0M957.2 380.0h0M953.6 380.6h0M950.5 381.2h0M948.7 379.8h0M946.3 379.3h0M943.7 377.4h0M941.1 375.0h0M937.5 373.3h0M934.5 372.6h0M934.5 371.0h0M933.7 367.8h0M934.2 364.7h0M934.6 361.9h0M933.5 356.9h0M929.9 354.6h0M928.0 353.2h0M926.5 350.6h0M922.5 402.8h0M925.6 402.0h0M927.8 398.5h0M930.1 396.3h0M932.3 395.2h0M935.5 394.5h0M939.5 392.0h0M941.0 388.9h0M940.4 388.8h0M940.0 388.7h0M938.2 391.1h0M936.2 393.4h0M933.6 394.8h0M930.6 396.5h0M927.8 399.0h0M924.9 400.8h0M923.3 402.6h0M924.0 402.1h0M910.7 539.9h0M913.3 538.5h0M916.3 537.0h0M918.8 535.7h0M919.9 534.5h0M921.6 535.1h0M920.5 535.5h0M918.5 538.6h0M917.7 541.9h0M915.4 544.0h0M913.8 545.8h0M912.7 551.1h0M913.9 551.8h0M912.1 552.7h0M911.5 553.6h0M905.5 552.8h0M904.4 556.4h0M902.9 559.9h0M902.8 562.0h0M901.5 564.9h0M899.2 567.7h0M897.7 570.9h0M896.8 574.4h0M895.9 578.6h0M896.8 582.1h0M897.0 585.6h0M897.5 588.6h0M898.2 590.7h0M899.3 590.7h0M898.8 589.5h0M897.2 586.8h0M895.7 583.7h0M895.8 580.4h0M894.3 577.8h0M894.3 574.9h0M895.3 572.3h0M896.3 569.6h0M897.2 566.8h0M899.4 564.3h0M900.0 560.6h0M901.9 557.8h0M903.6 555.2h0M905.0 552.0h0M906.2 547.9h0M906.1 546.7h0M908.2 544.3h0M910.6 540.6h0M908.8 567.2h0M911.2 564.8h0M913.2 560.7h0M914.5 559.4h0M914.4 558.4h0M915.5 557.9h0M914.4 560.9h0M913.9 565.1h0M914.5 567.1h0M914.3 566.9h0M911.6 566.9h0M909.5 567.1h0M911.9 577.3h0M913.6 575.9h0M913.0 576.6h0M913.5 576.6h0M912.9 580.6h0M912.6 584.1h0M913.4 586.9h0M912.3 588.3h0M912.8 589.5h0M911.8 588.2h0M912.4 587.3h0M912.0 583.6h0M912.2 580.2h0M911.8 577.1h0M724.5 721.7h0M726.2 719.5h0M728.9 718.9h0M733.0 718.2h0M735.5 715.9h0M738.1 714.3h0M738.4 714.2h0M740.4 715.2h0M740.7 717.9h0M740.5 717.4h0M739.0 718.6h0M735.2 720.3h0M732.0 721.6h0M730.0 722.5h0M727.2 723.1h0M725.5 722.7h0M724.1 721.0h0M747.1 789.9h0M749.5 788.6h0M751.4 788.3h0M752.2 789.2h0M753.0 793.9h0M754.0 792.5h0M752.7 793.8h0M749.2 795.1h0M747.4 800.8h0M748.0 802.3h0M747.2 801.1h0M745.2 801.2h0M745.4 800.8h0M746.4 797.8h0M748.7 793.7h0M748.6 790.5h0M790.8 786.7h0M792.8 785.6h0M795.1 785.1h0M798.8 782.6h0M800.8 781.2h0M805.2 779.8h0M806.4 776.6h0M808.7 775.9h0M809.8 777.1h0M811.7 778.2h0M810.9 779.5h0M810.0 782.8h0M807.7 786.0h0M808.3 789.9h0M810.0 794.3h0M812.0 796.8h0M811.1 796.4h0M809.4 796.4h0M807.6 797.5h0M806.2 794.6h0M801.7 793.9h0M801.0 792.6h0M799.2 788.5h0M795.0 787.0h0M792.1 785.7h0M791.4 785.0h0M653.7 980.2h0M656.3 978.1h0M655.7 980.2h0M657.6 981.9h0M660.6 983.8h0M660.8 984.4h0M661.2 985.6h0M657.8 985.7h0M656.6 985.2h0M656.6 982.0h0M655.5 978.9h0" stroke="#d3d3d3" stroke-width="5.5" stroke-linecap="round" fill="none"/>
<g fill="#fff">
<polygon points="688.6,190.8 687.4,191.9 686.7,194.5 685.8,197.2 684.6,199.5 683.2,202.0 682.2,204.5 681.5,207.0 681.2,209.5 681.2,211.8 681.9,213.7 683.0,215.3 684.0,217.3 684.5,220.4 684.8,223.9 685.8,226.5 687.8,227.9 690.4,228.4 693.2,228.3 696.2,227.6 699.5,226.2 702.3,224.7 704.4,223.0 706.1,221.2 707.8,220.1 709.7,220.2 711.5,220.8 713.3,221.0 715.5,220.2 717.7,218.9 718.8,217.3 718.3,215.6 716.7,213.7 715.2,211.8 714.4,209.9 713.7,208.0 712.4,206.3 710.1,205.0 707.2,204.0 704.2,202.7 701.1,201.0 697.9,199.1 695.0,197.2 692.5,194.6 690.3,192.0"/>
<polygon points="740.0,221.3 741.7,221.3 743.9,221.8 745.3,222.7 745.5,224.0 745.0,225.6 744.0,226.7 742.3,226.7 740.1,226.2 738.7,225.3 738.5,224.0 739.0,222.4"/>
<polygon points="770.0,225.3 771.8,224.9 774.2,224.8 776.0,225.3 776.4,226.7 776.1,228.7 775.3,230.0 773.9,230.3 772.1,230.0 770.7,229.3 769.9,228.1 769.6,226.5"/>
<polygon points="785.3,254.7 787.0,253.1 789.6,251.4 792.0,250.7 793.8,251.9 795.3,254.1 796.0,256.0 795.7,257.2 794.7,258.2 793.3,258.7 791.7,258.6 789.7,258.0 788.0,257.3 786.6,256.6 785.4,255.7"/>
<polygon points="792.0,293.3 793.8,292.6 796.5,292.6 798.7,293.3 799.5,295.1 799.7,297.5 799.3,299.3 798.1,300.2 796.3,300.5 794.7,300.0 793.3,298.1 792.1,295.3"/>
<polygon points="806.7,298.7 808.2,298.4 810.8,299.0 813.3,300.0 816.0,301.6 818.7,303.7 820.0,305.3 819.1,306.2 816.9,306.6 814.7,306.7 812.8,306.6 810.9,306.3 809.3,305.3 807.9,303.2 806.8,300.5"/>
<polygon points="410.0,412.5 411.0,412.1 412.4,412.0 413.3,412.5 413.6,413.7 413.4,415.5 413.0,416.7 412.1,417.0 410.9,416.9 410.0,416.3 409.7,415.2 409.6,413.6"/>
<polygon points="408.3,425.0 409.6,424.7 411.6,425.1 413.3,425.8 414.4,427.1 415.0,428.8 415.0,430.0 414.0,430.5 412.3,430.5 410.8,430.0 409.6,428.5 408.5,426.4"/>
<polygon points="574.2,450.0 574.7,448.7 576.1,448.4 577.5,449.2 578.8,451.8 580.2,455.5 580.8,458.3 580.5,459.6 579.5,459.9 578.3,459.2 576.8,456.5 575.1,452.8"/>
<polygon points="631.7,446.7 633.6,445.8 636.3,445.5 638.3,445.8 639.2,447.4 639.5,449.7 639.2,451.7 638.1,452.9 636.5,453.8 635.0,454.2 633.7,453.8 632.5,452.9 631.7,451.7 631.2,450.0 631.0,448.1"/>
<polygon points="651.7,441.7 652.7,440.6 654.5,440.3 655.8,440.8 656.5,443.0 656.8,446.1 656.7,448.3 655.8,449.1 654.5,449.1 653.3,448.3 652.4,446.4 651.7,443.7"/>
<polygon points="677.5,445.8 678.6,444.2 680.3,442.1 681.7,440.8 682.3,440.8 682.7,441.5 682.5,442.5 681.6,444.2 680.3,446.2 679.2,447.5 678.3,447.6 677.6,446.9"/>
<polygon points="620.0,433.3 621.1,432.5 622.8,432.1 624.2,432.5 624.9,434.2 625.2,436.6 625.0,438.3 623.9,439.0 622.2,438.9 620.8,438.3 620.1,436.9 619.8,434.9"/>
<polygon points="545.0,483.3 546.1,482.7 547.8,482.7 549.2,483.3 549.9,484.8 550.2,486.8 550.0,488.3 548.9,489.2 547.2,489.5 545.8,489.2 545.1,487.5 544.8,485.1"/>
<polygon points="530.0,428.5 530.9,427.4 531.7,426.6 533.0,426.0 534.9,425.5 537.3,425.2 540.0,425.0 543.1,424.9 546.6,424.9 550.0,425.0 553.3,425.2 556.7,425.5 560.0,426.0 563.5,426.9 567.0,428.1 570.0,429.0 572.5,429.4 574.5,429.5 576.0,430.0 576.9,431.2 577.3,432.7 577.0,434.0 575.8,434.9 573.9,435.5 572.0,436.0 570.2,436.3 568.5,436.6 567.0,437.0 565.9,437.8 565.0,438.9 564.5,440.0 564.4,441.3 564.7,442.6 565.0,444.0 565.3,445.3 565.6,446.7 566.0,448.0 566.4,449.4 566.9,450.7 567.0,452.0 566.5,453.0 565.7,453.9 565.0,455.0 564.7,456.8 564.5,458.8 564.0,460.0 562.9,459.7 561.4,458.7 560.0,458.0 558.9,458.0 557.8,458.3 557.0,459.0 556.7,460.5 556.6,462.5 556.0,464.0 554.5,464.5 552.5,464.5 551.0,465.0 550.6,466.6 550.6,468.6 550.0,470.0 548.2,470.0 545.9,469.3 544.0,469.0 543.0,469.9 542.5,471.2 542.0,472.0 541.4,471.8 540.7,471.1 540.0,470.0 539.2,468.6 538.3,466.8 537.5,465.0 536.8,463.3 536.2,461.6 536.0,460.0 536.6,458.6 537.5,457.3 538.0,456.0 537.5,454.6 536.5,453.3 536.0,452.0 536.5,451.0 537.4,450.1 538.0,449.0 538.0,447.4 537.8,445.7 537.5,444.0 537.5,442.6 537.4,441.2 537.0,440.0 535.9,438.8 534.5,437.7 533.0,437.0 531.6,437.2 530.2,437.9 529.0,438.0 528.0,437.1 527.2,435.6 527.0,434.0 527.6,432.2 528.8,430.2"/>
<polygon points="524.0,418.0 523.3,416.9 522.8,416.1 522.0,415.0 520.8,413.5 519.4,411.7 518.0,410.0 516.6,408.3 515.1,406.7 514.0,405.0 510.7,403.1 507.7,401.3 513.0,400.0 534.6,399.6 564.5,399.7 586.0,400.0 590.9,400.4 587.5,401.1 584.0,402.0 582.8,403.2 581.5,404.7 581.0,406.0 582.1,407.1 583.9,408.1 585.0,409.0 584.4,409.7 583.0,410.3 582.0,411.0 581.9,411.9 582.3,413.0 583.0,414.0 584.4,415.0 586.1,416.0 587.0,417.0 586.4,417.9 585.0,418.9 584.0,420.0 584.0,421.6 584.3,423.5 584.0,425.0 582.7,425.9 580.8,426.4 579.0,427.0 578.4,428.2 577.9,429.6 575.0,430.0 568.0,428.8 558.6,426.7 550.0,425.0 543.0,424.4 536.8,424.2 532.0,424.0 529.3,423.8 528.0,423.6 527.0,423.0 525.8,421.6 524.9,419.7"/>
<polygon points="499.0,474.0 500.0,473.0 501.3,472.4 503.0,472.0 505.2,471.9 507.8,472.1 510.0,472.0 511.5,471.4 512.6,470.5 514.0,470.0 515.9,470.0 518.1,470.3 520.0,471.0 521.6,472.1 523.0,473.5 524.0,475.0 524.4,476.6 524.3,478.3 524.0,480.0 523.4,481.7 522.7,483.3 522.0,485.0 521.5,486.7 521.1,488.3 521.0,490.0 521.4,491.7 522.0,493.3 522.0,495.0 521.1,496.8 519.7,498.6 518.0,500.0 516.1,500.7 514.0,501.0 512.0,501.0 510.2,500.9 508.6,500.6 507.0,500.0 505.6,499.0 504.2,497.6 503.0,496.0 501.9,494.1 500.8,492.0 500.0,490.0 499.5,488.3 499.3,486.6 499.0,485.0 498.6,483.4 498.2,481.7 498.0,480.0 498.1,477.9 498.4,475.7"/>
<polygon points="489.5,464.0 490.5,463.6 491.9,463.6 493.0,464.0 493.4,465.2 493.4,466.8 493.0,468.0 492.1,468.4 490.9,468.4 490.0,468.0 489.5,466.8 489.3,465.2"/>
<polygon points="519.0,458.0 520.1,458.0 521.9,458.5 524.0,459.0 526.7,459.2 529.8,459.4 532.0,460.0 532.8,461.3 532.7,462.9 532.0,464.0 530.4,464.0 528.2,463.5 526.0,463.0 523.8,462.8 521.6,462.6 520.0,462.0 519.1,460.7 518.7,459.1"/>
<polygon points="526.0,452.8 527.8,452.6 530.2,452.6 532.0,452.8 532.7,453.4 532.7,454.2 532.0,454.8 530.2,455.0 527.8,455.0 526.0,454.8 525.3,454.2 525.3,453.4"/>
<polygon points="546.0,483.0 546.5,482.4 547.3,482.4 548.0,483.0 548.7,484.5 549.3,486.5 549.5,488.0 548.9,488.6 547.9,488.6 547.0,488.0 546.4,486.5 546.1,484.5"/>
<polygon points="528.0,504.0 530.3,503.4 533.6,503.4 536.0,504.0 536.9,505.8 536.8,508.3 536.0,510.0 534.0,510.3 531.1,509.9 529.0,509.0 527.9,507.4 527.4,505.4"/>
<polygon points="575.0,449.0 575.6,448.5 576.7,448.9 578.0,450.0 579.5,452.4 581.1,455.6 582.0,458.0 581.8,459.0 581.0,459.2 580.0,459.0 579.0,458.4 578.0,457.4 577.0,456.0 576.1,453.7 575.3,450.9"/>
<polygon points="570.0,457.0 570.8,457.4 571.9,458.7 572.5,460.0 572.3,461.5 571.6,463.1 571.0,464.0 570.4,463.6 569.9,462.3 569.5,461.0 569.4,459.5 569.6,457.9"/>
<polygon points="540.0,520.0 538.4,517.2 544.7,513.3 550.0,510.0 551.0,508.1 551.2,506.9 552.0,506.0 554.1,505.4 557.0,505.1 560.0,505.0 563.3,505.0 566.9,505.1 570.0,505.0 572.7,504.5 574.9,503.8 576.0,503.0 575.3,502.1 573.6,501.2 572.0,500.0 571.1,498.5 570.4,496.7 570.0,495.0 570.1,493.3 570.4,491.7 570.5,490.0 570.1,488.3 569.4,486.5 569.0,485.0 569.0,483.8 569.2,482.9 570.0,482.0 571.6,481.3 573.7,480.7 576.0,480.0 578.6,479.0 581.4,477.9 584.0,477.0 586.1,476.6 588.1,476.3 590.0,476.0 592.1,475.5 594.1,474.9 596.0,474.0 597.6,470.8 599.0,467.4 600.0,470.0 602.5,484.5 604.6,505.0 600.0,520.0 581.9,524.1 557.0,522.6"/>
<polygon points="480.0,478.0 481.1,477.3 482.6,478.0 484.0,479.0 485.2,480.0 486.3,481.3 487.0,483.0 487.1,485.4 486.9,488.1 486.0,490.0 484.1,491.0 481.7,491.1 480.0,490.0 479.4,486.4 479.5,481.5"/>
<polygon points="499.9,473.9 502.6,472.6 506.4,472.2 510.0,472.1 513.3,472.1 516.6,472.4 519.2,473.0 521.0,473.8 522.3,474.9 522.8,476.7 522.4,479.4 521.2,482.7 520.1,485.8 519.3,488.4 518.6,490.8 517.3,493.2 515.2,496.0 512.5,498.7 510.0,500.5 508.0,500.7 506.1,499.9 504.5,498.7 503.1,497.2 501.9,495.4 500.8,493.2 500.0,490.4 499.3,487.3 499.0,484.0 498.8,480.4 498.8,476.7"/>
<polygon points="435.8,550.0 437.5,548.8 439.9,548.2 442.2,548.2 444.3,548.9 446.4,550.3 447.7,551.8 447.8,553.6 447.1,555.5 445.8,557.3 444.0,559.3 441.6,561.1 439.4,561.9 437.5,561.2 435.9,559.4 434.8,557.3 434.5,554.9 434.8,552.1"/>
<polygon points="462.3,524.3 464.3,523.2 467.4,522.9 469.7,523.4 470.7,525.5 471.1,528.5 470.6,530.8 468.8,531.8 466.2,532.2 464.2,531.7 462.9,529.6 462.1,526.6"/>
<polygon points="442.2,539.0 443.8,538.6 446.1,538.6 447.7,539.0 448.1,540.1 448.0,541.6 447.3,542.7 445.9,543.1 444.0,543.1 442.5,542.7 441.9,541.6 441.7,540.1"/>
<polygon points="453.2,550.0 455.0,549.5 457.6,549.5 459.6,550.0 460.6,551.4 460.9,553.3 460.5,554.6 458.7,554.9 456.1,554.7 454.1,554.0 453.1,552.8 452.7,551.2"/>
<polygon points="470.6,551.8 471.9,551.5 473.8,551.7 475.2,552.2 475.5,553.3 475.4,554.8 474.8,555.9 473.6,556.2 472.0,556.0 470.8,555.5 470.2,554.4 470.1,552.9"/>
<polygon points="478.8,547.2 480.5,546.3 482.9,545.9 484.7,546.3 485.5,548.4 485.7,551.2 485.2,553.3 483.7,553.9 481.5,553.6 479.8,552.8 478.9,551.1 478.5,548.9"/>
<polygon points="480.7,535.3 482.2,535.1 484.4,535.5 486.2,536.2 487.0,537.7 487.4,539.6 487.1,540.8 485.6,541.1 483.3,540.7 481.6,539.9 480.7,538.5 480.3,536.6"/>
<polygon points="425.7,555.5 427.1,555.2 429.2,555.4 430.8,555.9 431.5,556.9 431.6,558.2 431.2,559.2 429.9,559.5 428.0,559.6 426.6,559.2 425.8,558.1 425.4,556.6"/>
<polygon points="526.5,504.2 527.8,502.8 529.9,501.8 532.0,501.4 534.1,501.8 536.3,502.8 537.5,504.2 537.3,506.0 536.2,508.1 534.8,509.7 532.7,510.6 530.3,511.0 528.3,510.6 527.1,508.9 526.4,506.3"/>
<polygon points="472.4,516.1 474.6,516.0 477.8,516.3 480.7,516.6 483.1,517.0 485.2,517.4 486.2,517.9 485.2,518.6 483.0,519.3 480.7,519.8 478.1,519.7 475.4,519.4 473.3,518.8 472.2,517.9 471.8,516.8"/>
<polygon points="460.5,469.3 461.7,469.9 462.7,471.8 464.2,473.0 466.6,472.7 469.6,471.8 472.4,471.2 474.9,471.2 477.1,471.5 478.8,472.1 479.6,473.2 480.0,474.6 480.7,475.8 482.3,476.1 484.3,476.2 486.2,476.7 487.8,477.9 489.2,479.5 489.8,481.2 489.5,483.5 488.4,485.9 487.1,487.7 485.4,488.3 483.3,488.3 481.6,488.6 480.6,489.3 479.9,490.3 478.8,491.3 477.3,492.6 475.4,494.0 473.3,495.0 471.0,495.6 468.5,495.8 466.0,495.0 463.4,492.6 460.8,489.2 458.7,485.8 456.8,482.7 455.4,479.6 455.0,476.7 456.2,473.7 458.5,470.9"/>
<polygon points="223.3,563.3 225.1,562.1 228.1,560.9 230.7,560.7 232.0,562.1 232.9,564.5 233.3,566.7 233.3,568.4 232.8,570.0 232.0,570.7 230.9,569.9 229.5,568.2 228.0,566.7 226.0,565.5 224.0,564.4"/>
<polygon points="245.1,500.3 245.8,499.8 246.9,499.6 247.7,499.7 248.2,500.4 248.4,501.3 248.3,502.1 247.5,502.6 246.4,503.0 245.6,502.9 245.1,502.2 244.9,501.1"/>
<polygon points="377.8,863.2 378.8,862.4 380.3,862.3 381.5,862.8 382.1,864.4 382.4,866.6 382.2,868.3 381.2,869.1 379.7,869.5 378.5,869.0 377.9,867.4 377.6,865.0"/>
<polygon points="358.0,725.7 359.1,725.2 360.6,725.2 361.7,725.7 362.1,726.7 362.0,728.2 361.7,729.3 360.7,729.9 359.4,730.0 358.4,729.7 357.9,728.5 357.7,726.9"/>
<polygon points="645.0,698.3 647.6,697.7 651.3,697.4 654.2,697.5 655.2,698.3 655.3,699.5 655.0,700.8 654.5,702.4 653.7,704.1 652.5,705.0 650.6,704.4 648.4,703.1 646.7,701.7 645.4,700.5 644.6,699.3"/>
<polygon points="661.7,702.5 662.8,701.7 664.4,701.4 665.8,701.7 667.1,703.1 668.2,705.1 668.3,706.7 666.5,707.5 663.7,707.8 661.7,707.5 661.0,706.1 661.1,704.1"/>
<polygon points="572.5,766.7 573.7,766.4 575.4,766.4 576.7,766.7 577.1,767.4 577.1,768.4 576.7,769.2 575.4,769.4 573.7,769.4 572.5,769.2 572.0,768.4 572.0,767.4"/>
<polygon points="955.8,682.5 956.6,682.0 957.6,682.0 958.3,682.5 958.6,683.7 958.6,685.4 958.3,686.7 957.6,687.1 956.6,687.1 955.8,686.7 955.6,685.4 955.6,683.7"/>
<polygon points="931.7,698.3 933.2,698.1 935.2,698.5 936.7,699.2 936.9,700.5 936.5,702.2 935.8,703.3 934.6,703.5 933.1,703.2 932.0,702.5 931.4,701.2 931.3,699.5"/>
<polygon points="918.0,370.7 920.2,370.4 923.2,370.3 925.3,370.4 926.1,371.0 926.1,371.8 925.3,372.4 923.2,372.7 920.2,372.8 918.0,372.7 917.2,372.1 917.2,371.3"/>
<polygon points="586.0,239.4 586.4,238.3 587.3,237.1 588.3,236.2 589.8,235.9 591.4,235.9 592.9,236.2 594.0,236.8 594.9,237.6 595.7,238.5 596.5,239.6 597.3,240.7 597.5,241.7 597.0,242.5 596.0,243.2 594.8,243.5 593.3,243.6 591.6,243.4 590.2,243.1 589.1,242.7 588.2,242.3 587.4,241.7 586.7,241.0 586.2,240.3"/>
<polygon points="568.6,238.0 569.3,237.7 570.4,237.5 571.4,237.6 571.9,238.1 572.3,238.8 572.3,239.4 571.7,239.9 570.8,240.3 570.0,240.3 569.3,239.7 568.7,238.8"/>
</g>
<g fill="#d3d3d3" stroke="none">
<polygon points="550.0,508.3 553.7,509.3 558.3,512.5 562.5,517.7 566.7,523.3 570.8,527.8 575.0,531.7 579.2,535.1 583.3,538.3 587.6,541.8 591.7,545.0 595.4,547.8 598.3,550.0 599.7,551.4 600.0,552.5 599.3,554.1 597.5,555.0 593.9,554.1 590.0,552.5 587.3,551.4 585.0,550.0 582.7,547.9 580.0,545.0 576.0,540.9 571.7,536.7 567.4,533.1 563.3,530.0 559.8,527.3 556.7,525.0 553.4,523.4 550.8,521.7 549.6,518.5 549.2,515.0 549.0,511.0"/>
<polygon points="550.3,512.4 553.8,511.6 557.7,512.4 559.4,514.1 561.3,517.0 565.6,521.3 570.5,526.2 575.0,530.8 579.7,535.3 585.3,540.1 590.7,544.5 594.8,547.6 598.0,550.0 600.5,552.0 601.7,553.7 600.9,555.4 598.9,556.4 596.1,555.8 592.5,554.6 587.6,553.3 583.3,551.8 582.2,550.2 581.5,548.2 579.1,545.1 576.0,541.8 572.4,538.5 568.7,535.3 564.9,532.5 561.3,529.8 558.5,527.5 555.8,525.2 552.7,523.2 550.3,520.7 549.5,516.3"/>
</g>
<path d="M549.2 511.3h0M552.5 511.7h0M554.6 512.9h0M557.3 513.9h0M559.4 516.5h0M560.5 519.7h0M562.6 522.2h0M564.6 524.9h0M567.2 527.4h0M569.7 529.7h0M572.2 531.9h0M574.6 534.3h0M577.3 536.3h0M580.0 538.3h0M582.0 541.0h0M585.3 542.1h0M587.6 544.5h0M590.2 546.6h0M592.8 548.8h0M595.7 550.3h0M597.4 553.0h0M596.6 552.8h0M597.0 552.3h0M594.0 551.9h0M591.1 550.2h0M588.5 548.9h0M586.5 547.2h0M584.0 545.3h0M581.9 542.6h0M578.6 541.2h0M576.4 538.8h0M574.3 536.2h0M571.9 533.6h0M569.8 531.0h0M566.8 529.3h0M563.8 527.8h0M561.6 525.2h0M558.6 523.6h0M555.1 522.3h0M553.3 519.6h0M551.7 518.7h0M551.3 516.0h0M551.7 512.8h0M551.5 510.5h0M550.8 514.5h0M554.2 514.3h0M556.3 514.7h0M558.2 515.3h0M559.5 518.0h0M562.0 520.7h0M564.2 523.2h0M566.2 525.9h0M568.4 528.3h0M571.3 530.0h0M573.3 532.8h0M575.6 535.2h0M578.1 537.6h0M580.5 539.9h0M583.3 541.7h0M586.2 543.4h0M588.9 545.3h0M591.5 547.4h0M594.2 549.4h0M596.7 551.5h0M599.1 553.0h0M599.1 553.9h0M599.1 553.4h0M595.9 554.0h0M592.6 552.7h0M589.7 551.0h0M586.8 550.0h0M585.1 549.8h0M583.4 547.7h0M581.9 543.8h0M578.9 541.9h0M576.7 539.2h0M574.7 536.5h0M571.9 534.4h0M568.9 532.6h0M566.2 530.8h0M564.1 528.0h0M561.3 526.5h0M558.4 524.9h0M556.2 521.8h0M553.2 521.2h0M552.1 519.3h0M551.5 516.1h0M553.2 513.9h0M686.5 188.7h0M684.6 192.8h0M683.9 196.0h0M682.3 198.4h0M681.2 201.8h0M680.0 205.1h0M678.8 208.5h0M678.9 213.0h0M681.2 216.2h0M682.3 218.3h0M681.6 221.7h0M682.9 225.4h0M685.5 229.2h0M689.4 230.6h0M693.6 230.0h0M697.4 229.8h0M700.2 228.1h0M703.7 226.3h0M706.4 224.0h0M708.6 222.2h0M709.7 222.7h0M714.6 223.3h0M718.2 222.0h0M721.1 216.3h0M718.9 212.8h0M716.8 211.0h0M716.3 207.8h0M712.8 204.5h0M710.0 202.0h0M707.0 201.0h0M704.4 199.3h0M701.5 197.9h0M698.7 196.5h0M696.5 194.9h0M694.5 192.6h0M691.6 189.8h0M739.9 218.6h0M743.7 219.9h0M748.3 223.2h0M746.0 228.2h0M740.5 228.3h0M736.2 224.9h0M737.5 219.5h0M769.5 223.3h0M773.2 223.1h0M778.3 225.1h0M777.9 230.1h0M772.8 232.9h0M768.3 230.1h0M768.0 225.1h0M784.1 253.4h0M786.6 250.6h0M790.1 248.9h0M794.8 250.1h0M798.0 253.5h0M796.8 259.1h0M792.3 261.1h0M788.1 260.6h0M785.1 257.9h0M791.2 291.4h0M795.2 290.6h0M799.3 290.5h0M801.7 295.9h0M800.9 301.6h0M796.8 303.3h0M791.2 300.6h0M790.3 296.6h0M806.2 296.1h0M810.3 297.0h0M814.1 297.0h0M817.3 299.2h0M819.7 301.9h0M821.3 308.0h0M816.2 308.6h0M808.5 307.7h0M806.3 303.6h0M805.0 300.0h0M408.8 409.7h0M414.2 410.1h0M416.3 416.6h0M410.8 418.7h0M407.1 414.2h0M407.7 422.2h0M412.1 422.3h0M415.6 425.8h0M416.3 432.8h0M410.9 432.8h0M407.9 429.0h0M405.5 425.6h0M572.2 449.1h0M577.8 446.4h0M580.6 450.1h0M581.3 453.6h0M583.6 456.6h0M580.2 461.8h0M575.6 458.6h0M574.2 455.4h0M572.6 452.2h0M630.6 444.1h0M634.4 442.9h0M638.6 442.9h0M641.9 448.3h0M640.8 453.3h0M637.1 456.7h0M631.5 456.0h0M629.7 451.5h0M628.5 446.6h0M650.3 440.2h0M655.3 438.4h0M659.2 441.7h0M659.0 445.7h0M658.0 451.0h0M651.1 449.0h0M650.5 445.4h0M649.0 441.8h0M675.3 444.4h0M677.6 441.6h0M681.5 438.1h0M684.3 444.4h0M683.0 447.8h0M676.2 448.9h0M618.2 430.8h0M623.8 429.3h0M627.9 434.0h0M627.5 438.0h0M622.5 441.2h0M617.6 438.2h0M617.1 433.3h0M543.6 480.8h0M549.0 480.8h0M552.0 485.0h0M551.2 490.4h0M546.3 491.0h0M542.0 487.4h0M543.2 483.5h0M528.6 427.4h0M579.0 431.0h0M577.8 436.4h0M573.9 437.5h0M570.4 438.3h0M568.4 439.0h0M566.7 440.3h0M566.7 442.2h0M568.0 445.2h0M569.2 448.1h0M568.5 453.0h0M566.6 455.9h0M567.0 458.4h0M561.0 462.0h0M559.8 460.4h0M558.9 459.5h0M558.7 462.5h0M555.3 466.9h0M552.2 467.9h0M553.3 468.0h0M548.8 472.0h0M545.3 471.7h0M544.7 470.9h0M539.6 472.5h0M537.7 469.5h0M536.0 466.4h0M534.5 463.3h0M534.1 458.5h0M536.3 455.9h0M534.8 454.9h0M535.1 448.9h0M535.7 447.8h0M535.1 444.9h0M534.9 441.3h0M534.3 440.4h0M533.1 438.9h0M529.9 441.0h0M525.6 436.9h0M524.8 431.9h0M527.5 428.8h0M522.5 418.9h0M520.3 416.6h0M518.7 413.8h0M516.5 411.3h0M514.5 408.8h0M513.0 406.7h0M510.2 404.9h0M509.7 397.8h0M582.9 397.6h0M586.4 397.6h0M589.7 397.5h0M589.6 403.3h0M586.5 403.9h0M584.8 404.7h0M583.7 406.6h0M584.1 406.1h0M585.1 411.9h0M584.5 412.0h0M585.1 412.4h0M588.6 414.2h0M586.8 420.7h0M585.7 421.4h0M586.1 424.9h0M582.2 429.2h0M580.8 428.8h0M530.8 427.0h0M526.7 425.1h0M523.8 422.0h0M522.3 419.0h0M497.1 472.2h0M501.3 470.4h0M504.9 469.5h0M508.2 469.4h0M510.2 468.5h0M514.4 467.4h0M518.0 468.0h0M521.9 469.6h0M525.7 472.0h0M527.3 476.8h0M526.1 480.3h0M525.0 484.0h0M523.8 486.7h0M524.1 489.6h0M524.2 491.6h0M524.3 497.0h0M522.0 500.2h0M517.8 501.9h0M514.0 503.8h0M510.6 503.3h0M506.6 502.3h0M503.4 499.7h0M500.8 496.9h0M498.8 494.0h0M497.8 490.3h0M496.8 486.9h0M496.7 483.8h0M495.3 480.3h0M496.0 476.4h0M488.4 461.6h0M493.3 462.2h0M496.0 467.6h0M491.0 470.4h0M487.1 466.2h0M518.9 456.3h0M522.8 456.1h0M525.7 456.4h0M528.9 457.4h0M532.4 458.3h0M535.1 464.7h0M529.5 465.8h0M526.3 464.9h0M523.1 465.6h0M519.5 464.1h0M516.4 459.8h0M525.7 450.8h0M529.3 450.3h0M533.6 451.8h0M531.1 457.7h0M527.1 457.7h0M524.3 452.0h0M543.7 481.1h0M550.3 482.9h0M551.3 486.7h0M546.1 490.6h0M543.5 486.0h0M527.5 502.0h0M531.2 501.5h0M535.1 501.4h0M538.7 504.7h0M539.2 510.1h0M534.5 512.9h0M529.8 512.2h0M526.1 509.5h0M525.3 503.9h0M573.2 447.0h0M578.8 448.5h0M582.1 451.2h0M583.3 454.3h0M583.8 458.9h0M577.7 461.0h0M575.1 457.3h0M573.7 453.6h0M573.4 450.0h0M571.3 454.6h0M574.0 458.5h0M573.7 463.2h0M567.5 464.1h0M567.0 459.7h0M545.6 509.7h0M548.6 508.3h0M548.7 507.0h0M552.9 503.0h0M556.7 503.2h0M560.2 502.3h0M563.6 502.7h0M566.9 503.1h0M569.6 502.6h0M572.6 502.1h0M572.0 502.4h0M568.6 499.4h0M567.3 496.0h0M568.7 491.7h0M567.5 489.5h0M566.8 486.3h0M568.1 481.2h0M571.7 478.7h0M575.0 478.2h0M577.7 476.5h0M580.8 475.0h0M584.3 474.1h0M587.7 473.6h0M590.8 473.6h0M593.6 472.7h0M594.6 471.4h0M596.2 468.7h0M601.1 467.7h0M602.7 471.1h0M570.6 525.7h0M567.3 525.2h0M564.0 525.2h0M560.8 524.6h0M557.4 525.8h0M484.4 476.1h0M490.0 486.7h0M488.0 490.3h0M483.7 493.6h0M498.5 471.1h0M502.6 469.9h0M505.9 469.2h0M509.4 469.8h0M512.8 470.2h0M516.3 469.6h0M520.4 470.6h0M523.3 473.4h0M524.6 478.2h0M524.3 481.9h0M523.0 485.0h0M521.7 487.9h0M521.4 491.3h0M511.3 501.8h0M506.2 502.3h0M502.5 500.4h0M499.7 497.7h0M499.1 493.6h0M498.2 490.2h0M496.2 487.0h0M496.7 483.5h0M496.0 480.0h0M496.4 476.7h0M434.6 548.3h0M438.1 546.5h0M441.9 545.0h0M446.6 546.8h0M448.7 550.4h0M449.4 555.3h0M447.3 558.9h0M444.7 561.4h0M441.3 563.3h0M435.4 563.2h0M433.9 559.4h0M432.8 555.7h0M432.1 551.9h0M461.2 522.3h0M465.0 520.6h0M469.1 520.9h0M472.9 524.3h0M474.0 529.3h0M470.8 533.3h0M466.7 534.0h0M461.6 532.2h0M459.5 528.6h0M460.4 524.4h0M441.7 537.3h0M445.4 536.1h0M450.5 538.9h0M447.4 544.4h0M443.1 545.0h0M439.2 541.1h0M452.7 548.3h0M456.4 547.8h0M462.1 548.3h0M463.2 552.6h0M459.3 557.4h0M455.1 556.2h0M450.7 553.2h0M470.1 549.7h0M474.6 549.8h0M477.8 554.3h0M473.3 558.5h0M469.0 555.9h0M468.7 551.2h0M477.8 545.5h0M481.6 544.3h0M487.1 545.8h0M488.2 549.7h0M488.2 553.8h0M482.0 555.7h0M477.0 553.6h0M475.5 549.6h0M480.4 533.7h0M484.4 532.8h0M488.6 535.8h0M489.0 540.6h0M484.2 542.7h0M479.9 540.7h0M478.5 537.1h0M425.3 553.4h0M429.1 553.4h0M434.3 556.8h0M430.8 561.8h0M426.3 561.3h0M423.7 556.1h0M524.4 502.2h0M528.1 500.2h0M532.7 498.8h0M536.2 500.7h0M540.3 504.9h0M539.1 509.1h0M534.9 511.7h0M531.3 513.0h0M526.0 511.4h0M524.5 507.7h0M472.3 513.4h0M475.9 514.4h0M479.3 514.1h0M482.6 514.6h0M487.0 514.8h0M484.5 520.8h0M481.2 522.3h0M477.1 522.0h0M473.4 522.1h0M469.8 517.8h0M461.6 467.1h0M465.1 470.3h0M465.0 469.7h0M467.8 469.6h0M471.3 469.2h0M475.4 469.0h0M479.1 469.8h0M482.7 473.9h0M482.6 474.3h0M486.4 473.9h0M490.3 476.8h0M491.6 481.7h0M491.4 485.6h0M489.7 489.2h0M484.3 491.2h0M481.0 493.3h0M222.3 562.0h0M225.2 559.3h0M229.1 558.9h0M234.0 560.1h0M235.3 564.7h0M236.3 568.5h0M229.9 572.6h0M227.3 569.7h0M225.7 567.5h0M222.4 565.2h0M243.9 498.4h0M249.8 498.9h0M247.9 504.9h0M242.7 501.9h0M376.4 861.3h0M381.9 860.0h0M383.9 865.0h0M383.8 870.5h0M378.4 871.0h0M375.7 866.7h0M357.0 723.3h0M362.1 723.0h0M364.1 729.1h0M359.9 732.6h0M355.1 728.0h0M644.6 696.7h0M648.1 695.7h0M651.6 695.4h0M655.8 696.4h0M657.6 701.7h0M655.8 705.0h0M650.2 707.0h0M646.6 704.8h0M643.5 702.9h0M660.5 700.9h0M665.2 699.1h0M669.3 702.1h0M670.5 706.2h0M665.9 709.9h0M662.1 709.2h0M658.4 704.9h0M572.1 764.7h0M576.2 764.5h0M579.5 770.5h0M573.8 771.7h0M569.9 766.0h0M954.5 680.4h0M961.2 682.4h0M960.4 686.7h0M953.1 687.1h0M952.9 682.6h0M931.4 696.4h0M935.4 695.6h0M939.7 701.2h0M936.1 706.1h0M931.2 704.7h0M929.2 700.1h0M917.7 368.5h0M921.2 368.6h0M924.7 367.8h0M926.8 373.8h0M922.4 375.6h0M918.9 375.4h0M916.3 369.4h0M583.4 238.5h0M586.2 234.7h0M590.9 233.0h0M595.3 234.3h0M598.6 237.3h0M599.6 243.5h0M594.6 246.4h0M590.7 245.5h0M586.6 244.2h0M583.9 240.1h0M567.8 236.5h0M573.6 235.6h0M571.7 242.0h0M565.7 239.0h0M690.8 195.7h0M698.7 200.8h0M705.5 206.3h0M710.6 210.0h0M708.8 216.1h0M691.9 220.1h0M689.1 205.1h0M683.1 221.0h0M719.3 252.7h0M715.3 260.0h0M710.4 264.7h0M703.3 260.7h0M710.0 270.7h0M759.3 274.0h0M756.4 281.3h0M807.7 336.9h0M812.0 316.7h0M708.7 216.0h0M706.0 206.0h0M710.7 210.0h0M719.2 252.5h0M715.2 260.1h0M703.2 260.8h0M710.6 264.5h0M530.3 248.7h0M543.3 262.7h0M499.7 398.8h0M506.2 409.5h0M438.3 451.7h0M481.7 492.5h0M720.8 495.8h0M724.2 501.7h0M733.3 520.0h0M735.8 524.2h0M531.5 434.0h0M539.8 433.5h0M536.0 439.5h0M544.0 439.5h0M549.5 439.0h0M546.8 442.0h0M561.5 443.5h0M548.5 449.5h0M550.0 453.5h0M556.0 450.0h0M559.0 451.0h0M561.0 454.5h0M540.5 456.8h0M559.0 460.0h0M561.5 461.0h0M504.3 480.3h0M518.5 475.2h0M514.0 483.0h0M517.0 485.0h0M516.8 494.0h0M499.5 491.0h0M504.1 480.0h0M514.6 484.0h0M517.0 494.1h0M518.2 474.8h0M285.0 391.5h0M288.5 395.0h0M403.5 861.0h0M408.8 861.3h0M403.6 860.6h0M408.6 861.4h0M415.0 854.0h0M420.0 851.0h0M462.4 871.6h0M451.0 873.4h0M496.4 907.6h0M503.0 903.6h0M503.6 911.0h0M508.2 909.4h0M525.0 909.6h0M510.4 933.0h0M511.6 936.0h0M515.0 952.0h0M479.6 1029.2h0M613.6 910.6h0M613.7 910.3h0M734.5 813.3h0M733.0 819.7h0M745.0 784.2h0M660.0 720.5h0M710.5 722.8h0M720.8 718.0h0M572.0 757.7h0M578.0 761.7h0M595.0 776.2h0M600.8 778.0h0M605.3 777.5h0M613.3 777.8h0M720.9 495.7h0M724.4 501.6h0M733.6 519.7h0M736.0 524.3h0M719.5 528.7h0M720.0 531.3h0M719.3 535.3h0M723.3 535.3h0M727.3 538.0h0M726.7 539.3h0M721.7 545.7h0M726.9 545.3h0M725.6 576.9h0M774.3 632.1h0M903.8 623.0h0M929.3 640.8h0M925.8 654.3h0M947.7 652.0h0M937.3 667.5h0M912.7 679.0h0M927.2 684.5h0M901.7 690.5h0M910.0 690.0h0M959.7 631.7h0M905.8 692.5h0M909.2 697.5h0M856.0 362.0h0M920.7 395.7h0M888.3 426.3h0M890.9 427.7h0M900.7 430.4h0M893.7 433.3h0M897.6 438.4h0M901.3 597.1h0M904.0 623.3h0M929.3 641.1h0M925.7 654.4h0M947.6 651.7h0M937.3 667.3h0M710.7 722.7h0M720.7 718.0h0M750.0 716.1h0M745.3 784.4h0M734.4 813.5h0M733.1 819.7h0" stroke="#d3d3d3" stroke-width="5.5" stroke-linecap="round" fill="none"/>
<g>
<circle cx="684.0" cy="208.2" r="2.8" fill="#b296e4"/>
<circle cx="693.7" cy="256.4" r="2.8" fill="#b296e4"/>
<circle cx="700.7" cy="267.8" r="2.8" fill="#956dee"/>
<circle cx="715.5" cy="272.3" r="2.8" fill="#b499e3"/>
<circle cx="593.3" cy="548.7" r="2.8" fill="#a785e9"/>
<circle cx="212.9" cy="539.3" r="2.8" fill="#a785e9"/>
<circle cx="622.7" cy="670.5" r="2.8" fill="#baa3e1"/>
<circle cx="623.7" cy="675.2" r="2.8" fill="#8b61f1"/>
<circle cx="650.5" cy="708.0" r="2.8" fill="#b8a0e2"/>
<circle cx="552.2" cy="771.3" r="2.8" fill="#956dee"/>
<circle cx="972.2" cy="645.3" r="2.8" fill="#baa3e1"/>
<circle cx="554.7" cy="243.1" r="2.8" fill="#bea9df"/>
<circle cx="566.9" cy="245.6" r="2.8" fill="#bca7e0"/>
<circle cx="576.6" cy="243.7" r="2.8" fill="#b89fe2"/>
<circle cx="578.3" cy="246.4" r="2.8" fill="#b396e4"/>
<circle cx="568.6" cy="240.2" r="2.8" fill="#af91e6"/>
<circle cx="572.4" cy="240.5" r="2.8" fill="#ab8ae7"/>
<circle cx="568.9" cy="241.7" r="2.8" fill="#b092e5"/>
<circle cx="556.2" cy="244.8" r="2.8" fill="#bba4e1"/>
<circle cx="562.2" cy="247.3" r="2.8" fill="#aa89e8"/>
<circle cx="558.7" cy="243.0" r="2.8" fill="#bda8e0"/>
<circle cx="563.8" cy="239.0" r="2.8" fill="#b79ee2"/>
<circle cx="567.3" cy="247.8" r="2.8" fill="#ab8ae7"/>
<circle cx="541.7" cy="236.8" r="2.8" fill="#b89fe2"/>
<circle cx="578.3" cy="229.4" r="2.8" fill="#9f7aeb"/>
<circle cx="548.3" cy="237.8" r="2.8" fill="#a887e8"/>
<circle cx="548.6" cy="236.9" r="2.8" fill="#b69be3"/>
<circle cx="583.3" cy="225.9" r="2.8" fill="#9f7aeb"/>
<circle cx="539.7" cy="234.2" r="2.8" fill="#ad8ee6"/>
<circle cx="577.5" cy="248.7" r="2.8" fill="#bba4e1"/>
<circle cx="580.8" cy="221.3" r="2.8" fill="#9c75ec"/>
<circle cx="567.6" cy="245.0" r="2.8" fill="#b093e5"/>
<circle cx="578.7" cy="231.3" r="2.8" fill="#9972ed"/>
<circle cx="563.3" cy="240.4" r="2.8" fill="#a886e8"/>
<circle cx="540.1" cy="234.3" r="2.8" fill="#bba3e1"/>
<circle cx="576.1" cy="245.8" r="2.8" fill="#aa89e8"/>
<circle cx="573.4" cy="243.7" r="2.8" fill="#b9a0e2"/>
<circle cx="593.6" cy="233.1" r="2.8" fill="#9c76ec"/>
<circle cx="600.4" cy="233.9" r="2.8" fill="#946cee"/>
<circle cx="557.9" cy="246.4" r="2.8" fill="#a684e9"/>
<circle cx="545.6" cy="210.9" r="2.8" fill="#8d64f0"/>
<circle cx="548.6" cy="213.8" r="2.8" fill="#8f66f0"/>
<circle cx="600.3" cy="229.1" r="2.8" fill="#9f7aeb"/>
<circle cx="544.7" cy="242.7" r="2.8" fill="#946cee"/>
<circle cx="575.0" cy="230.0" r="2.8" fill="#946cee"/>
<circle cx="581.2" cy="219.6" r="2.8" fill="#8b62f1"/>
<circle cx="589.3" cy="221.8" r="2.8" fill="#9f7aeb"/>
<circle cx="570.0" cy="230.6" r="2.8" fill="#895ff1"/>
<circle cx="569.5" cy="218.2" r="2.8" fill="#865cf2"/>
<circle cx="581.3" cy="229.6" r="2.8" fill="#966fee"/>
<circle cx="575.5" cy="225.6" r="2.8" fill="#9067ef"/>
<circle cx="554.2" cy="234.7" r="2.8" fill="#865cf2"/>
<circle cx="553.9" cy="241.2" r="2.8" fill="#a683e9"/>
<circle cx="589.9" cy="225.5" r="2.8" fill="#8258f3"/>
<circle cx="539.5" cy="243.5" r="2.8" fill="#845af2"/>
<circle cx="594.8" cy="223.3" r="2.8" fill="#9269ef"/>
<circle cx="588.9" cy="229.7" r="2.8" fill="#8f66f0"/>
<circle cx="543.0" cy="254.5" r="2.8" fill="#8358f3"/>
<circle cx="551.9" cy="248.6" r="2.8" fill="#845af2"/>
<circle cx="548.7" cy="248.9" r="2.8" fill="#8a60f1"/>
<circle cx="543.3" cy="222.2" r="2.8" fill="#8a60f1"/>
<circle cx="610.9" cy="239.8" r="2.8" fill="#8358f3"/>
<circle cx="569.6" cy="229.7" r="2.8" fill="#8d64f0"/>
<circle cx="582.4" cy="226.3" r="2.8" fill="#8c62f0"/>
<circle cx="552.6" cy="221.2" r="2.8" fill="#8e65f0"/>
<circle cx="593.5" cy="229.9" r="2.8" fill="#9f79eb"/>
<circle cx="569.2" cy="242.7" r="2.8" fill="#a582e9"/>
<circle cx="580.6" cy="224.4" r="2.8" fill="#946cee"/>
<circle cx="600.8" cy="233.5" r="2.8" fill="#9169ef"/>
<circle cx="551.3" cy="217.0" r="2.8" fill="#7f55f3"/>
<circle cx="575.5" cy="229.9" r="2.8" fill="#855bf2"/>
<circle cx="605.6" cy="235.3" r="2.8" fill="#855bf2"/>
<circle cx="538.0" cy="244.5" r="2.8" fill="#895ff1"/>
<circle cx="554.6" cy="251.9" r="2.8" fill="#7a4ff4"/>
<circle cx="594.7" cy="232.4" r="2.8" fill="#7e53f4"/>
<circle cx="586.6" cy="228.7" r="2.8" fill="#855bf2"/>
<circle cx="587.1" cy="229.5" r="2.8" fill="#7a4ff4"/>
<circle cx="547.9" cy="231.7" r="2.8" fill="#8359f2"/>
<circle cx="539.6" cy="251.9" r="2.8" fill="#926aef"/>
<circle cx="578.3" cy="224.9" r="2.8" fill="#9068ef"/>
<circle cx="578.2" cy="245.3" r="2.8" fill="#a886e8"/>
<circle cx="555.3" cy="219.5" r="2.8" fill="#7d53f4"/>
<circle cx="538.4" cy="217.2" r="2.8" fill="#895ff1"/>
<circle cx="543.7" cy="252.3" r="2.8" fill="#7c51f4"/>
<circle cx="556.1" cy="210.9" r="2.8" fill="#8a60f1"/>
<circle cx="549.6" cy="246.7" r="2.8" fill="#8e64f0"/>
<circle cx="544.9" cy="210.1" r="2.8" fill="#7e53f4"/>
<circle cx="597.7" cy="229.6" r="2.8" fill="#9c77ec"/>
<circle cx="538.0" cy="242.1" r="2.8" fill="#936aef"/>
<circle cx="587.6" cy="225.7" r="2.8" fill="#9d77ec"/>
<circle cx="540.9" cy="211.1" r="2.8" fill="#7248f6"/>
<circle cx="553.4" cy="218.6" r="2.8" fill="#8055f3"/>
<circle cx="564.8" cy="229.5" r="2.8" fill="#7449f6"/>
<circle cx="556.4" cy="220.0" r="2.8" fill="#875df2"/>
<circle cx="550.5" cy="216.1" r="2.8" fill="#784ef5"/>
<circle cx="559.5" cy="217.5" r="2.8" fill="#895ff1"/>
<circle cx="555.2" cy="234.6" r="2.8" fill="#8a60f1"/>
<circle cx="594.3" cy="221.9" r="2.8" fill="#875df2"/>
<circle cx="544.6" cy="219.3" r="2.8" fill="#885ef1"/>
<circle cx="571.9" cy="223.8" r="2.8" fill="#7b50f4"/>
<circle cx="563.1" cy="220.5" r="2.8" fill="#794ef5"/>
<circle cx="573.9" cy="223.7" r="2.8" fill="#9e78ec"/>
<circle cx="541.9" cy="214.5" r="2.8" fill="#8b61f1"/>
<circle cx="546.2" cy="211.5" r="2.8" fill="#8a61f1"/>
<circle cx="574.7" cy="228.0" r="2.8" fill="#9c76ec"/>
<circle cx="543.4" cy="215.2" r="2.8" fill="#7a4ff4"/>
<circle cx="609.6" cy="236.8" r="2.8" fill="#7e53f4"/>
<circle cx="539.2" cy="254.8" r="2.8" fill="#865cf2"/>
<circle cx="557.3" cy="220.9" r="2.8" fill="#6940f7"/>
<circle cx="557.9" cy="249.7" r="2.8" fill="#7f54f3"/>
<circle cx="574.9" cy="221.0" r="2.8" fill="#6b41f7"/>
<circle cx="546.4" cy="216.0" r="2.8" fill="#7a4ff4"/>
<circle cx="563.6" cy="230.6" r="2.8" fill="#764cf5"/>
<circle cx="536.6" cy="247.8" r="2.8" fill="#7e53f4"/>
<circle cx="604.2" cy="232.1" r="2.8" fill="#7d52f4"/>
<circle cx="565.6" cy="221.1" r="2.8" fill="#8d63f0"/>
<circle cx="559.4" cy="217.0" r="2.8" fill="#8d63f0"/>
<circle cx="574.1" cy="221.3" r="2.8" fill="#9d77ec"/>
<circle cx="558.8" cy="217.6" r="2.8" fill="#794ef5"/>
<circle cx="547.5" cy="249.8" r="2.8" fill="#8156f3"/>
<circle cx="576.2" cy="234.5" r="2.8" fill="#7c51f4"/>
<circle cx="550.1" cy="248.4" r="2.8" fill="#8157f3"/>
<circle cx="547.4" cy="242.7" r="2.8" fill="#6e44f7"/>
<circle cx="607.6" cy="238.2" r="2.8" fill="#7b50f4"/>
<circle cx="575.0" cy="219.1" r="2.8" fill="#764cf5"/>
<circle cx="578.1" cy="225.0" r="2.8" fill="#784df5"/>
<circle cx="584.0" cy="229.8" r="2.8" fill="#8258f3"/>
<circle cx="548.0" cy="216.7" r="2.8" fill="#8f66f0"/>
<circle cx="552.4" cy="223.2" r="2.8" fill="#8d64f0"/>
<circle cx="548.1" cy="246.0" r="2.8" fill="#6239f8"/>
<circle cx="595.2" cy="234.1" r="2.8" fill="#9b75ec"/>
<circle cx="585.6" cy="227.6" r="2.8" fill="#926aef"/>
<circle cx="599.2" cy="234.5" r="2.8" fill="#6d43f7"/>
<circle cx="545.8" cy="226.7" r="2.8" fill="#673df8"/>
<circle cx="546.2" cy="253.7" r="2.8" fill="#6940f7"/>
<circle cx="547.1" cy="254.8" r="2.8" fill="#8e65f0"/>
<circle cx="548.4" cy="227.8" r="2.8" fill="#865cf2"/>
<circle cx="558.6" cy="231.8" r="2.8" fill="#875df2"/>
<circle cx="565.0" cy="229.5" r="2.8" fill="#5d36f9"/>
<circle cx="575.9" cy="234.7" r="2.8" fill="#7d52f4"/>
<circle cx="562.5" cy="221.6" r="2.8" fill="#633af8"/>
<circle cx="553.2" cy="251.4" r="2.8" fill="#946cee"/>
<circle cx="585.3" cy="228.3" r="2.8" fill="#8156f3"/>
<circle cx="547.0" cy="249.9" r="2.8" fill="#6038f9"/>
<circle cx="560.1" cy="219.6" r="2.8" fill="#7b51f4"/>
<circle cx="548.9" cy="211.7" r="2.8" fill="#8359f3"/>
<circle cx="571.0" cy="222.4" r="2.8" fill="#8c63f0"/>
<circle cx="572.6" cy="220.9" r="2.8" fill="#936bef"/>
<circle cx="555.0" cy="219.7" r="2.8" fill="#895ff1"/>
<circle cx="544.7" cy="230.1" r="2.8" fill="#8055f3"/>
<circle cx="560.1" cy="212.5" r="2.8" fill="#5c34f9"/>
<circle cx="552.3" cy="246.3" r="2.8" fill="#895ff1"/>
<circle cx="554.6" cy="213.2" r="2.8" fill="#8156f3"/>
<circle cx="569.3" cy="219.8" r="2.8" fill="#5630fa"/>
<circle cx="564.4" cy="215.3" r="2.8" fill="#7a4ff4"/>
<circle cx="561.5" cy="217.6" r="2.8" fill="#8e65f0"/>
<circle cx="537.1" cy="244.3" r="2.8" fill="#653cf8"/>
<circle cx="540.7" cy="250.2" r="2.8" fill="#946bee"/>
<circle cx="546.1" cy="227.2" r="2.8" fill="#8055f3"/>
<circle cx="545.2" cy="220.6" r="2.8" fill="#6c42f7"/>
<circle cx="590.1" cy="221.2" r="2.8" fill="#895ff1"/>
<circle cx="559.7" cy="214.8" r="2.8" fill="#8e65f0"/>
<circle cx="547.2" cy="224.8" r="2.8" fill="#7c51f4"/>
<circle cx="539.4" cy="252.7" r="2.8" fill="#8f66f0"/>
<circle cx="590.8" cy="234.7" r="2.8" fill="#8258f3"/>
<circle cx="558.6" cy="222.6" r="2.8" fill="#8359f2"/>
<circle cx="543.2" cy="252.0" r="2.8" fill="#6a40f7"/>
<circle cx="551.6" cy="227.9" r="2.8" fill="#855bf2"/>
<circle cx="546.9" cy="255.3" r="2.8" fill="#8a60f1"/>
<circle cx="571.6" cy="223.1" r="2.8" fill="#8359f2"/>
<circle cx="552.9" cy="224.3" r="2.8" fill="#8d64f0"/>
<circle cx="543.9" cy="212.6" r="2.8" fill="#532dfa"/>
<circle cx="582.0" cy="223.2" r="2.8" fill="#9168ef"/>
<circle cx="596.0" cy="223.6" r="2.8" fill="#8a61f1"/>
<circle cx="607.2" cy="234.3" r="2.8" fill="#7d53f4"/>
<circle cx="571.7" cy="233.8" r="2.8" fill="#8a60f1"/>
<circle cx="564.1" cy="223.2" r="2.8" fill="#8c63f0"/>
<circle cx="552.5" cy="235.4" r="2.8" fill="#5b34f9"/>
<circle cx="550.0" cy="254.4" r="2.8" fill="#623af8"/>
<circle cx="554.6" cy="251.3" r="2.8" fill="#865cf2"/>
<circle cx="553.5" cy="219.4" r="2.8" fill="#552ffa"/>
<circle cx="538.8" cy="241.4" r="2.8" fill="#7046f6"/>
<circle cx="562.7" cy="214.6" r="2.8" fill="#8258f3"/>
<circle cx="591.6" cy="228.2" r="2.8" fill="#9168ef"/>
<circle cx="575.0" cy="227.5" r="2.8" fill="#6a40f7"/>
<circle cx="554.4" cy="227.7" r="2.8" fill="#794ef5"/>
<circle cx="541.9" cy="210.6" r="2.8" fill="#8c63f0"/>
<circle cx="541.5" cy="221.0" r="2.8" fill="#8b61f1"/>
<circle cx="592.8" cy="228.5" r="2.8" fill="#885ef1"/>
<circle cx="550.7" cy="233.9" r="2.8" fill="#5831fa"/>
<circle cx="592.0" cy="221.7" r="2.8" fill="#8e65f0"/>
<circle cx="537.8" cy="215.6" r="2.8" fill="#754bf5"/>
<circle cx="556.7" cy="219.0" r="2.8" fill="#794ef5"/>
<circle cx="557.3" cy="234.7" r="2.8" fill="#7c51f4"/>
<circle cx="570.2" cy="222.8" r="2.8" fill="#865bf2"/>
<circle cx="546.7" cy="218.8" r="2.8" fill="#512cfb"/>
<circle cx="555.2" cy="227.9" r="2.8" fill="#532dfa"/>
<circle cx="548.8" cy="250.4" r="2.8" fill="#8459f2"/>
<circle cx="614.2" cy="236.2" r="2.8" fill="#653cf8"/>
<circle cx="580.1" cy="219.2" r="2.8" fill="#7b51f4"/>
<circle cx="583.0" cy="223.0" r="2.8" fill="#8156f3"/>
<circle cx="555.2" cy="248.3" r="2.8" fill="#7248f6"/>
<circle cx="598.9" cy="230.0" r="2.8" fill="#683ff7"/>
<circle cx="540.1" cy="226.3" r="2.8" fill="#7c51f4"/>
<circle cx="545.7" cy="212.2" r="2.8" fill="#875df1"/>
<circle cx="541.5" cy="242.1" r="2.8" fill="#663df8"/>
<circle cx="557.1" cy="218.1" r="2.8" fill="#7a50f4"/>
<circle cx="547.5" cy="221.8" r="2.8" fill="#512cfb"/>
<circle cx="559.2" cy="211.4" r="2.8" fill="#643bf8"/>
<circle cx="544.2" cy="219.0" r="2.8" fill="#5d36f9"/>
<circle cx="551.2" cy="250.4" r="2.8" fill="#4f2bfb"/>
<circle cx="545.2" cy="216.0" r="2.8" fill="#512cfb"/>
<circle cx="546.0" cy="227.5" r="2.8" fill="#542ffa"/>
<circle cx="541.5" cy="247.3" r="2.8" fill="#8359f2"/>
<circle cx="559.5" cy="233.5" r="2.8" fill="#754bf5"/>
<circle cx="554.4" cy="228.7" r="2.8" fill="#774df5"/>
<circle cx="567.2" cy="221.5" r="2.8" fill="#8257f3"/>
<circle cx="551.1" cy="233.4" r="2.8" fill="#764cf5"/>
<circle cx="550.7" cy="215.0" r="2.8" fill="#502bfb"/>
<circle cx="585.6" cy="219.9" r="2.8" fill="#7046f6"/>
<circle cx="550.8" cy="224.3" r="2.8" fill="#6b41f7"/>
<circle cx="586.6" cy="228.8" r="2.8" fill="#7a50f4"/>
<circle cx="543.7" cy="219.2" r="2.8" fill="#5731fa"/>
<circle cx="557.3" cy="219.8" r="2.8" fill="#8459f2"/>
<circle cx="539.0" cy="249.4" r="2.8" fill="#7c52f4"/>
<circle cx="554.6" cy="219.6" r="2.8" fill="#522dfb"/>
<circle cx="597.2" cy="229.5" r="2.8" fill="#855bf2"/>
<circle cx="600.8" cy="228.2" r="2.8" fill="#8459f2"/>
<circle cx="556.2" cy="226.8" r="2.8" fill="#5630fa"/>
<circle cx="563.9" cy="225.9" r="2.8" fill="#7e53f4"/>
<circle cx="544.8" cy="220.6" r="2.8" fill="#6940f7"/>
<circle cx="586.9" cy="225.2" r="2.8" fill="#643bf8"/>
<circle cx="607.4" cy="236.6" r="2.8" fill="#7046f6"/>
<circle cx="540.2" cy="213.7" r="2.8" fill="#673ef8"/>
<circle cx="581.4" cy="222.4" r="2.8" fill="#673ef8"/>
<circle cx="542.6" cy="214.9" r="2.8" fill="#5630fa"/>
<circle cx="568.2" cy="222.2" r="2.8" fill="#6e44f6"/>
<circle cx="552.1" cy="242.4" r="2.8" fill="#5731fa"/>
<circle cx="538.4" cy="224.6" r="2.8" fill="#623af8"/>
<circle cx="558.5" cy="216.4" r="2.8" fill="#653cf8"/>
<circle cx="545.6" cy="229.1" r="2.8" fill="#5731fa"/>
<circle cx="544.1" cy="216.2" r="2.8" fill="#6d44f7"/>
<circle cx="547.9" cy="214.8" r="2.8" fill="#5f37f9"/>
<circle cx="541.0" cy="255.1" r="2.8" fill="#6e44f6"/>
<circle cx="572.5" cy="223.7" r="2.8" fill="#774df5"/>
<circle cx="541.4" cy="223.0" r="2.8" fill="#6b42f7"/>
<circle cx="548.1" cy="219.1" r="2.8" fill="#6038f9"/>
<circle cx="541.1" cy="225.7" r="2.8" fill="#7146f6"/>
<circle cx="564.3" cy="215.6" r="2.8" fill="#552ffa"/>
<circle cx="540.7" cy="225.6" r="2.8" fill="#6c42f7"/>
<circle cx="550.1" cy="246.1" r="2.8" fill="#542efa"/>
<circle cx="541.0" cy="238.7" r="2.8" fill="#633af8"/>
<circle cx="556.2" cy="218.1" r="2.8" fill="#4f2bfb"/>
<circle cx="571.2" cy="222.7" r="2.8" fill="#512cfb"/>
<circle cx="568.4" cy="220.8" r="2.8" fill="#5d36f9"/>
<circle cx="538.1" cy="220.5" r="2.8" fill="#5e36f9"/>
<circle cx="562.1" cy="227.0" r="2.8" fill="#6239f8"/>
<circle cx="539.8" cy="214.6" r="2.8" fill="#633af8"/>
<circle cx="549.7" cy="214.6" r="2.8" fill="#643cf8"/>
<circle cx="540.6" cy="222.2" r="2.8" fill="#5d36f9"/>
<circle cx="546.0" cy="224.8" r="2.8" fill="#5831fa"/>
<circle cx="565.2" cy="227.1" r="2.8" fill="#4e2afb"/>
<circle cx="545.5" cy="213.4" r="2.8" fill="#5831fa"/>
<circle cx="554.1" cy="231.3" r="2.8" fill="#502cfb"/>
<circle cx="560.5" cy="229.7" r="2.8" fill="#5b34f9"/>
<circle cx="554.3" cy="215.2" r="2.8" fill="#5630fa"/>
<circle cx="539.2" cy="216.8" r="2.8" fill="#502cfb"/>
<circle cx="535.9" cy="248.2" r="2.8" fill="#532efa"/>
<circle cx="548.8" cy="216.7" r="2.8" fill="#512cfb"/>
<circle cx="560.4" cy="243.1" r="2.8" fill="#b69ce3"/>
<circle cx="566.8" cy="243.1" r="2.8" fill="#9f7aeb"/>
<circle cx="560.4" cy="246.8" r="2.8" fill="#ae8fe6"/>
<circle cx="570.9" cy="245.8" r="2.8" fill="#b69ce3"/>
<circle cx="576.4" cy="249.0" r="2.8" fill="#b296e4"/>
<circle cx="586.5" cy="248.1" r="2.8" fill="#b296e4"/>
<circle cx="593.8" cy="246.3" r="2.8" fill="#a988e8"/>
<circle cx="539.8" cy="232.1" r="2.8" fill="#b296e4"/>
<circle cx="542.5" cy="235.8" r="2.8" fill="#b69ce3"/>
<circle cx="523.7" cy="238.5" r="2.8" fill="#9a74ed"/>
<circle cx="533.8" cy="235.8" r="2.8" fill="#9f7aeb"/>
<circle cx="576.9" cy="244.9" r="2.8" fill="#9a74ed"/>
<circle cx="580.5" cy="242.2" r="2.8" fill="#956dee"/>
<circle cx="554.4" cy="250.0" r="2.8" fill="#8f66f0"/>
<circle cx="544.3" cy="267.4" r="2.8" fill="#9a74ed"/>
<circle cx="610.8" cy="239.4" r="2.8" fill="#8f66f0"/>
<circle cx="612.6" cy="235.8" r="2.8" fill="#956dee"/>
<circle cx="595.7" cy="233.0" r="2.8" fill="#895ff1"/>
<circle cx="601.2" cy="232.1" r="2.8" fill="#895ff1"/>
<circle cx="597.5" cy="227.5" r="2.8" fill="#8f66f0"/>
<circle cx="592.0" cy="220.6" r="2.8" fill="#7b51f4"/>
<circle cx="606.7" cy="233.9" r="2.8" fill="#6c42f7"/>
<circle cx="608.5" cy="236.7" r="2.8" fill="#7b51f4"/>
<circle cx="570.0" cy="235.3" r="2.8" fill="#5932fa"/>
<circle cx="574.1" cy="235.8" r="2.8" fill="#7449f6"/>
<circle cx="580.5" cy="229.8" r="2.8" fill="#5932fa"/>
<circle cx="588.3" cy="223.8" r="2.8" fill="#633af8"/>
<circle cx="590.2" cy="226.6" r="2.8" fill="#6c42f7"/>
<circle cx="533.8" cy="222.3" r="2.8" fill="#4d29fb"/>
<circle cx="556.2" cy="223.4" r="2.8" fill="#4624fc"/>
<circle cx="555.3" cy="211.0" r="2.8" fill="#4d29fb"/>
<circle cx="565.0" cy="219.7" r="2.8" fill="#4d29fb"/>
<circle cx="562.7" cy="217.9" r="2.8" fill="#532efa"/>
<circle cx="546.6" cy="230.7" r="2.8" fill="#4d29fb"/>
<circle cx="548.9" cy="231.2" r="2.8" fill="#532efa"/>
<circle cx="544.3" cy="241.7" r="2.8" fill="#4d29fb"/>
<circle cx="542.5" cy="240.3" r="2.8" fill="#532efa"/>
<circle cx="545.2" cy="224.3" r="2.8" fill="#5932fa"/>
<circle cx="540.7" cy="227.5" r="2.8" fill="#3f1ffc"/>
<circle cx="582.4" cy="221.8" r="2.8" fill="#0000ff"/>
<circle cx="539.3" cy="224.0" r="2.8" fill="#0000ff"/>
<circle cx="540.7" cy="252.4" r="2.8" fill="#0000ff"/>
<circle cx="545.7" cy="301.7" r="2.8" fill="#b296e4"/>
<circle cx="629.3" cy="242.4" r="2.8" fill="#b69ce3"/>
</g>
<!-- axes -->
<g stroke="#000" stroke-width="2.96" fill="none">
<line x1="95.5" y1="50.8" x2="95.5" y2="1121"/>
<line x1="94" y1="1119.5" x2="1117.9" y2="1119.5"/>
<line x1="141.8" y1="1119.5" x2="141.8" y2="1124.6"/><line x1="307.5" y1="1119.5" x2="307.5" y2="1124.6"/><line x1="473.2" y1="1119.5" x2="473.2" y2="1124.6"/><line x1="639.0" y1="1119.5" x2="639.0" y2="1124.6"/><line x1="804.7" y1="1119.5" x2="804.7" y2="1124.6"/><line x1="970.4" y1="1119.5" x2="970.4" y2="1124.6"/>
<line x1="90.2" y1="277.5" x2="95.5" y2="277.5"/><line x1="90.2" y1="571.4" x2="95.5" y2="571.4"/><line x1="90.2" y1="865.3" x2="95.5" y2="865.3"/>
</g>
<!-- legend -->
<rect x="1130.2" y="547.7" width="15.5" height="76.5" fill="url(#g)"/>
<g stroke="#fff" stroke-width="0.8"><path d="M1130 551.4h3.2M1142.8 551.4h3.2M1130 566h3.2M1142.8 566h3.2M1130 580.6h3.2M1142.8 580.6h3.2M1130 595.2h3.2M1142.8 595.2h3.2M1130 609.8h3.2M1142.8 609.8h3.2"/></g>
</svg>
<div class="t" style="left:406px;width:400px;text-align:center;top:7.5px;font-size:34.5px;font-weight:bold;">Klra8</div>
<div class="t xt" style="left:91.8px">-15</div><div class="t xt" style="left:257.5px">-10</div><div class="t xt" style="left:423.2px">-5</div><div class="t xt" style="left:589.0px">0</div><div class="t xt" style="left:754.7px">5</div><div class="t xt" style="left:920.4px">10</div>
<div class="t yt" style="top:263.0px">10</div><div class="t yt" style="top:556.9px">0</div><div class="t yt" style="top:850.8px">-10</div>
<div class="t" style="left:403.8px;width:400px;text-align:center;top:1155.3px;font-size:29.8px;">umapNC_1</div>
<div class="t" style="left:-177.2px;top:570.9px;width:400px;text-align:center;font-size:29.8px;transform:rotate(-90deg);transform-origin:center;">umapNC_2</div>
<div class="t lg" style="top:540.1px">2.5</div><div class="t lg" style="top:554.9px">2.0</div><div class="t lg" style="top:569.8px">1.5</div><div class="t lg" style="top:584.6px">1.0</div><div class="t lg" style="top:599.5px">0.5</div><div class="t lg" style="top:614.3px">0.0</div>
</body></html>
